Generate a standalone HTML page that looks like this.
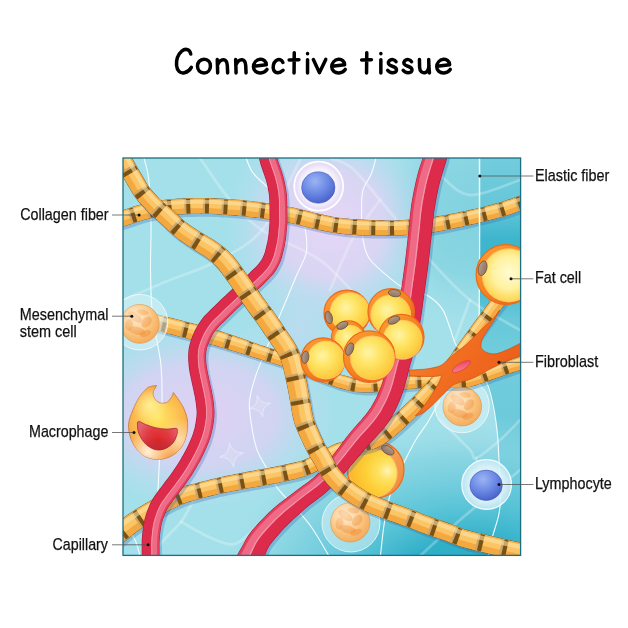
<!DOCTYPE html>
<html><head><meta charset="utf-8"><title>Connective tissue</title>
<style>
html,body{margin:0;padding:0;background:#fff;}
svg{display:block;font-family:"Liberation Sans",sans-serif;}
</style></head><body>
<svg width="628" height="628" viewBox="0 0 628 628">
<defs>
<filter id="gs" x="0" y="0" width="628" height="628" filterUnits="userSpaceOnUse"><feColorMatrix type="saturate" values="0"/></filter>
<clipPath id="box"><rect x="123.0" y="158.0" width="397.6" height="397.4"/></clipPath>
<radialGradient id="bgL" gradientUnits="userSpaceOnUse" cx="330" cy="225" r="108">
<stop offset="0" stop-color="#e6d6f6" stop-opacity="1"/><stop offset="0.5" stop-color="#ded4f4" stop-opacity="0.9"/><stop offset="1" stop-color="#b8e0ee" stop-opacity="0"/></radialGradient>
<radialGradient id="bgL2" gradientUnits="userSpaceOnUse" cx="200" cy="415" r="100" gradientTransform="translate(200 415) scale(1.4 0.95) translate(-200 -415)">
<stop offset="0" stop-color="#e0d0f4" stop-opacity="1"/><stop offset="0.55" stop-color="#d8d2f3" stop-opacity="0.85"/><stop offset="1" stop-color="#b8e0ee" stop-opacity="0"/></radialGradient>
<radialGradient id="bgL3" gradientUnits="userSpaceOnUse" cx="300" cy="330" r="60">
<stop offset="0" stop-color="#ccd8f2" stop-opacity="0.6"/><stop offset="1" stop-color="#b8e0ee" stop-opacity="0"/></radialGradient>
<radialGradient id="bgR" gradientUnits="userSpaceOnUse" cx="470" cy="595" r="180" gradientTransform="translate(470 595) scale(1.45 1) translate(-470 -595)">
<stop offset="0" stop-color="#27aac5" stop-opacity="1"/><stop offset="0.3" stop-color="#30afc8" stop-opacity="1"/><stop offset="0.5" stop-color="#55c2d6" stop-opacity="0.9"/><stop offset="0.78" stop-color="#84d3e1" stop-opacity="0.75"/><stop offset="1" stop-color="#a3e0ea" stop-opacity="0"/></radialGradient>
<radialGradient id="bgR2" gradientUnits="userSpaceOnUse" cx="475" cy="215" r="120">
<stop offset="0" stop-color="#80d1df" stop-opacity="1"/><stop offset="0.5" stop-color="#86d4e1" stop-opacity="0.85"/><stop offset="1" stop-color="#a3e0ea" stop-opacity="0"/></radialGradient>
<linearGradient id="bgStrip" gradientUnits="userSpaceOnUse" x1="0" y1="158" x2="0" y2="556">
<stop offset="0" stop-color="#72ccdc"/><stop offset="0.12" stop-color="#66c7d9"/><stop offset="0.2" stop-color="#3fb6cd"/><stop offset="0.31" stop-color="#3bb4cb"/><stop offset="0.4" stop-color="#66c8d9"/><stop offset="0.5" stop-color="#72cddc"/><stop offset="0.75" stop-color="#68c8d9"/><stop offset="0.9" stop-color="#4dbfd3"/><stop offset="1" stop-color="#34b1ca"/></linearGradient>
<linearGradient id="fatrim" x1="0.15" y1="0.1" x2="0.85" y2="0.9"><stop offset="0" stop-color="#f99a30"/><stop offset="0.5" stop-color="#f6821f"/><stop offset="1" stop-color="#ef5f18"/></linearGradient>
<radialGradient id="fatin" cx="0.4" cy="0.38" r="0.72"><stop offset="0" stop-color="#fff4a6"/><stop offset="0.4" stop-color="#fee464"/><stop offset="0.8" stop-color="#fdcd40"/><stop offset="1" stop-color="#fab532"/></radialGradient>
<linearGradient id="fatrim2" x1="0" y1="0.2" x2="1" y2="0.8"><stop offset="0" stop-color="#f79a32"/><stop offset="0.6" stop-color="#f6a050"/><stop offset="1" stop-color="#f08a40"/></linearGradient>
<radialGradient id="fatin3" cx="0.8" cy="0.45" r="0.85"><stop offset="0" stop-color="#fff4b4"/><stop offset="0.22" stop-color="#fee262"/><stop offset="0.55" stop-color="#fdcf36"/><stop offset="1" stop-color="#fbb42c"/></radialGradient>
<radialGradient id="fatin2" cx="0.5" cy="0.45" r="0.62"><stop offset="0" stop-color="#fffbd2"/><stop offset="0.5" stop-color="#fff2a0"/><stop offset="0.85" stop-color="#fdd858"/><stop offset="1" stop-color="#fbbf3a"/></radialGradient>
<linearGradient id="nucg" x1="0" y1="0" x2="1" y2="0"><stop offset="0" stop-color="#8e7462"/><stop offset="1" stop-color="#b49c8a"/></linearGradient>
<radialGradient id="stem" cx="0.4" cy="0.35" r="0.75"><stop offset="0" stop-color="#fee6c4"/><stop offset="0.55" stop-color="#fac47e"/><stop offset="1" stop-color="#f0a453"/></radialGradient>
<radialGradient id="stemhl" cx="0.35" cy="0.28" r="0.5"><stop offset="0" stop-color="#fde6c4" stop-opacity="0.7"/><stop offset="1" stop-color="#fde6c4" stop-opacity="0"/></radialGradient>
<radialGradient id="halo" cx="0.5" cy="0.5" r="0.5"><stop offset="0" stop-color="#ffffff"/><stop offset="0.7" stop-color="#f6f2fc"/><stop offset="0.92" stop-color="#e6dcf6"/><stop offset="1" stop-color="#f4f0fc"/></radialGradient>
<radialGradient id="halo2" cx="0.5" cy="0.5" r="0.5"><stop offset="0" stop-color="#ffffff" stop-opacity="0.95"/><stop offset="0.7" stop-color="#e2f4fa" stop-opacity="0.9"/><stop offset="1" stop-color="#c4e8f4" stop-opacity="0.85"/></radialGradient>
<radialGradient id="blue" cx="0.4" cy="0.3" r="0.8"><stop offset="0" stop-color="#9cb4f4"/><stop offset="0.5" stop-color="#6a88e4"/><stop offset="1" stop-color="#4057c4"/></radialGradient>
<radialGradient id="mac" gradientUnits="userSpaceOnUse" cx="158" cy="418" r="44"><stop offset="0" stop-color="#ffe762"/><stop offset="0.35" stop-color="#fdcc55"/><stop offset="0.7" stop-color="#f9aa48"/><stop offset="1" stop-color="#f48e36"/></radialGradient>
<radialGradient id="mac2" gradientUnits="userSpaceOnUse" cx="148" cy="452" r="24"><stop offset="0" stop-color="#fff4e0" stop-opacity="0.95"/><stop offset="1" stop-color="#fff0d4" stop-opacity="0"/></radialGradient>
<radialGradient id="mac4" gradientUnits="userSpaceOnUse" cx="180" cy="440" r="22"><stop offset="0" stop-color="#fde8c4" stop-opacity="0.8"/><stop offset="1" stop-color="#fde8c4" stop-opacity="0"/></radialGradient>
<radialGradient id="macn" gradientUnits="userSpaceOnUse" cx="158" cy="440" r="22"><stop offset="0" stop-color="#e02828"/><stop offset="0.55" stop-color="#e03c44"/><stop offset="1" stop-color="#e4626c"/></radialGradient>
<linearGradient id="macn2" gradientUnits="userSpaceOnUse" x1="0" y1="436" x2="0" y2="450"><stop offset="0" stop-color="#a81c28" stop-opacity="0"/><stop offset="1" stop-color="#a81c28" stop-opacity="0.55"/></linearGradient>
<linearGradient id="fbg" gradientUnits="userSpaceOnUse" x1="430" y1="340" x2="500" y2="390"><stop offset="0" stop-color="#f57a28"/><stop offset="0.5" stop-color="#f06a1f"/><stop offset="1" stop-color="#ec5f1a"/></linearGradient>
<radialGradient id="mac3" gradientUnits="userSpaceOnUse" cx="150" cy="405" r="18"><stop offset="0" stop-color="#fff6a0" stop-opacity="0.85"/><stop offset="1" stop-color="#fff6a0" stop-opacity="0"/></radialGradient>
<linearGradient id="fbn" x1="0" y1="1" x2="1" y2="0"><stop offset="0" stop-color="#f68a98"/><stop offset="1" stop-color="#ee3c5a"/></linearGradient>
</defs>
<rect width="628" height="628" fill="#ffffff"/>
<g clip-path="url(#box)">
<rect x="123.0" y="158.0" width="397.6" height="397.4" fill="#a3e0ea"/>
<rect x="123.0" y="158.0" width="397.6" height="397.4" fill="url(#bgR2)"/>
<path d="M478.6,150 L478.6,250 L478.3,330 L478,345 L485,379 C489,390 492,400 497,430 C499,461 500,506 492.8,535.6 L488,560 L530,560 L530,150 Z" fill="url(#bgStrip)"/>
<rect x="123.0" y="158.0" width="397.6" height="397.4" fill="url(#bgR)"/>
<rect x="123.0" y="158.0" width="397.6" height="397.4" fill="url(#bgL)"/>
<rect x="123.0" y="158.0" width="397.6" height="397.4" fill="url(#bgL2)"/>
<rect x="123.0" y="158.0" width="397.6" height="397.4" fill="url(#bgL3)"/>
<g fill="none" stroke="#ffffff" stroke-opacity="0.26" stroke-width="2.8" stroke-linecap="round"><path d="M123.0,300.0C130.8,296.7 154.7,286.3 170.0,280.0C185.3,273.7 199.7,270.3 215.0,262.0C230.3,253.7 247.8,247.0 262.0,230.0C276.2,213.0 293.7,171.7 300.0,160.0"/><path d="M200.0,158.0C205.0,165.0 219.7,188.0 230.0,200.0C240.3,212.0 247.0,220.0 262.0,230.0C277.0,240.0 303.7,248.3 320.0,260.0C336.3,271.7 353.3,293.3 360.0,300.0"/><path d="M330.0,158.0C333.7,159.7 343.7,161.0 352.0,168.0C360.3,175.0 367.0,184.7 380.0,200.0C393.0,215.3 415.0,243.3 430.0,260.0C445.0,276.7 455.0,288.3 470.0,300.0C485.0,311.7 511.7,325.0 520.0,330.0"/><path d="M440.0,175.0C445.0,178.3 456.7,194.2 470.0,195.0C483.3,195.8 511.7,182.5 520.0,180.0"/><path d="M380.0,200.0C375.3,206.7 360.3,225.0 352.0,240.0C343.7,255.0 333.7,281.7 330.0,290.0"/><path d="M196.0,496.0C195.1,497.7 193.1,501.7 190.6,506.0C188.1,510.3 185.8,515.8 181.0,521.8C176.2,527.8 167.2,536.3 162.0,542.0C156.8,547.7 152.0,553.7 150.0,556.0"/><path d="M181.0,521.8C185.8,524.4 201.3,533.5 209.7,537.3C218.1,541.1 225.2,544.5 231.2,544.5C237.2,544.5 240.4,541.1 245.5,537.0C250.6,532.9 259.2,522.8 262.0,520.0"/><path d="M440.0,420.0C445.0,425.0 464.0,443.7 470.0,450.0C476.0,456.3 471.0,459.7 476.0,458.0C481.0,456.3 492.7,446.3 500.0,440.0C507.3,433.7 516.7,423.3 520.0,420.0"/><path d="M476.0,458.0C476.7,460.0 479.3,468.0 480.0,470.0"/><path d="M470.0,300.0C467.5,306.7 457.5,333.3 455.0,340.0"/><path d="M420.0,556.0C426.7,550.0 443.3,534.3 460.0,520.0C476.7,505.7 510.0,478.3 520.0,470.0"/></g>
<g fill="#ffffff" fill-opacity="0.12" stroke="#ffffff" stroke-opacity="0.4" stroke-width="1"><path d="M270.6,403.2Q261.6,406.9 262.8,416.6Q259.1,407.6 249.4,408.8Q258.4,405.1 257.2,395.4Q260.9,404.4 270.6,403.2Z"/><path d="M243.3,452.9Q233.2,456.2 233.6,466.8Q230.3,456.7 219.7,457.1Q229.8,453.8 229.4,443.2Q232.7,453.3 243.3,452.9Z"/></g>
<g fill="none" stroke="#f6fdfe" stroke-width="1.1"><path d="M144.0,158.0C144.8,161.5 147.5,168.3 148.7,179.0C149.9,189.7 150.7,206.8 151.0,222.0C151.3,237.2 150.3,255.3 150.5,270.0C150.7,284.7 150.9,297.9 152.0,310.0C153.1,322.1 155.8,333.4 157.3,342.6C158.8,351.9 160.2,355.9 161.0,365.5C161.8,375.1 162.2,385.9 162.0,400.0C161.8,414.1 160.7,435.0 160.0,450.0C159.3,465.0 158.7,472.3 158.0,490.0C157.3,507.7 156.3,545.0 156.0,556.0"/><path d="M246.0,158.0C247.1,160.4 249.4,167.9 252.7,172.5C255.9,177.1 259.6,179.7 265.5,185.3C271.4,190.9 282.1,200.9 287.8,206.0C293.5,211.1 296.7,212.3 299.6,216.0C302.5,219.7 303.8,222.3 305.0,228.0C306.2,233.7 307.1,244.3 306.7,250.0C306.3,255.7 304.5,257.7 302.8,262.0C301.1,266.3 298.9,270.0 296.4,275.7C293.9,281.4 290.6,289.6 288.0,296.0C285.4,302.4 283.9,305.6 280.5,313.9C277.1,322.2 271.9,335.6 267.8,345.8C263.7,356.0 259.0,366.0 256.0,375.0C253.0,384.0 250.5,392.7 249.6,400.0C248.7,407.3 249.5,411.0 250.6,419.0C251.7,427.0 253.8,439.8 256.3,447.8C258.9,455.8 262.4,460.2 265.9,466.9C269.4,473.6 272.2,480.9 277.3,487.9C282.4,494.9 290.6,502.3 296.4,509.0C302.2,515.7 306.6,520.2 312.0,528.0C317.4,535.8 326.2,551.3 329.0,556.0"/><path d="M376.0,158.0C375.2,160.7 373.4,168.5 371.2,174.0C369.0,179.5 364.4,184.0 362.8,190.8C361.2,197.6 361.6,206.7 361.6,214.7C361.6,222.7 361.6,231.4 362.8,238.6C364.0,245.8 365.0,251.7 368.8,257.7C372.6,263.7 379.5,269.2 385.5,274.4C391.5,279.6 398.9,285.6 404.6,288.7C410.4,291.8 415.8,291.6 420.0,293.0C424.2,294.4 426.2,294.2 430.0,297.0C433.8,299.8 439.2,304.1 442.7,309.6C446.1,315.1 448.5,324.1 450.7,330.0C452.9,335.9 452.8,339.7 456.0,345.0C459.2,350.3 465.2,356.3 470.0,362.0C474.8,367.7 481.3,372.7 485.0,379.0C488.7,385.3 490.0,391.5 492.0,400.0C494.0,408.5 495.8,419.8 497.0,430.0C498.2,440.2 498.5,448.2 499.0,461.0C499.5,473.8 501.0,494.2 500.0,506.6C499.0,519.0 494.8,527.4 492.8,535.6C490.8,543.8 488.8,552.6 488.0,556.0"/><path d="M440.0,400.0C438.1,403.5 432.3,414.7 428.5,421.0C424.7,427.3 420.5,432.3 417.0,438.0C413.5,443.7 411.0,448.4 407.5,455.4C404.0,462.4 399.1,472.7 396.0,480.0C392.9,487.3 391.0,491.5 389.0,499.0C387.0,506.5 385.4,515.5 384.0,525.0C382.6,534.5 381.0,550.8 380.4,556.0"/><path d="M123.0,520.0C125.0,523.3 132.2,534.0 135.0,540.0C137.8,546.0 139.2,553.3 140.0,556.0"/></g>
<g><circle cx="318.7" cy="186.2" r="24.6" fill="url(#halo)" stroke="#ffffff" stroke-width="1.5"/><ellipse cx="318.3" cy="187.5" rx="16.7" ry="15.7" fill="url(#blue)" stroke="#3c50b8" stroke-width="0.5"/></g>
<g><circle cx="462.0" cy="405.5" r="27.3" fill="#e4f6fa" fill-opacity="0.5" stroke="#f2fbfd" stroke-opacity="0.8" stroke-width="1"/><circle cx="462.3" cy="406.6" r="19.3" fill="url(#stem)" stroke="#e09a4c" stroke-width="0.7"/><g fill="#f19440" fill-opacity="0.55"><ellipse cx="457.5" cy="399.8" rx="8.1" ry="3.9" transform="rotate(35 457.5 399.8)"/><ellipse cx="469.1" cy="404.7" rx="6.2" ry="4.2" transform="rotate(-50 469.1 404.7)"/><ellipse cx="459.4" cy="413.4" rx="8.7" ry="3.9" transform="rotate(15 459.4 413.4)"/><ellipse cx="468.1" cy="416.2" rx="5.8" ry="3.1" transform="rotate(-20 468.1 416.2)"/><ellipse cx="451.7" cy="407.6" rx="3.9" ry="5.8" transform="rotate(10 451.7 407.6)"/><ellipse cx="465.2" cy="395.0" rx="5.8" ry="2.7" transform="rotate(10 465.2 395.0)"/></g><circle cx="462.3" cy="406.6" r="19.3" fill="url(#stemhl)"/></g>
<g><circle cx="351.0" cy="523.0" r="29.0" fill="#e4f6fa" fill-opacity="0.5" stroke="#f2fbfd" stroke-opacity="0.8" stroke-width="1"/><circle cx="350.3" cy="522.4" r="19.6" fill="url(#stem)" stroke="#e09a4c" stroke-width="0.7"/><g fill="#f19440" fill-opacity="0.55"><ellipse cx="345.4" cy="515.5" rx="8.2" ry="3.9" transform="rotate(35 345.4 515.5)"/><ellipse cx="357.2" cy="520.4" rx="6.3" ry="4.3" transform="rotate(-50 357.2 520.4)"/><ellipse cx="347.4" cy="529.3" rx="8.8" ry="3.9" transform="rotate(15 347.4 529.3)"/><ellipse cx="356.2" cy="532.2" rx="5.9" ry="3.1" transform="rotate(-20 356.2 532.2)"/><ellipse cx="339.5" cy="523.4" rx="3.9" ry="5.9" transform="rotate(10 339.5 523.4)"/><ellipse cx="353.2" cy="510.6" rx="5.9" ry="2.7" transform="rotate(10 353.2 510.6)"/></g><circle cx="350.3" cy="522.4" r="19.6" fill="url(#stemhl)"/></g>
<g><path d="M152.0,312.9L154.9,313.7L157.9,314.4L160.8,315.1L163.8,315.8L166.8,316.6L169.8,317.3L172.8,318.1L175.7,318.8L178.7,319.5L181.8,320.3L185.2,321.2L189.0,322.2L191.8,322.9L194.8,323.7L197.9,324.6L201.3,325.5L204.6,326.4L208.0,327.3L211.4,328.2L214.6,329.2L217.7,330.1L221.1,331.1L224.3,332.2L227.5,333.2L230.7,334.3L233.7,335.3L236.7,336.4L239.5,337.4L242.3,338.3L245.8,339.5L248.9,340.6L251.9,341.7L254.9,342.8L258.2,344.0L262.0,345.3L264.6,346.2L267.3,347.0L270.3,348.0L273.3,348.9L276.4,349.9L279.6,351.0L282.8,352.0L286.1,353.1L289.3,354.2L292.4,355.4L295.5,356.5L298.7,357.8L301.8,359.0L304.9,360.3L308.0,361.6L311.1,362.8L314.1,364.1L317.0,365.2L319.8,366.4L322.5,367.4L325.9,368.7L329.1,369.9L332.2,371.1L335.2,372.2L338.1,373.2L340.9,374.2L343.6,375.0L346.4,375.8L349.5,376.6L352.3,377.3L354.8,377.8L357.4,378.3L360.1,378.6L363.2,378.9L366.9,379.0L369.4,378.9L372.2,378.8L375.2,378.6L378.5,378.3L381.9,378.0L385.4,377.7L388.9,377.3L392.3,377.0L395.6,376.6L398.8,376.3L401.8,376.0L404.5,375.8L408.9,375.5L412.7,375.3L416.0,375.1L419.1,374.9L422.1,374.8L425.3,374.7L428.7,374.6L432.0,374.6L435.3,374.7L438.5,374.7L441.7,374.7L445.0,374.7L448.0,374.7L451.1,374.7L454.3,374.7L457.3,374.7L460.2,374.6L462.8,374.5L465.0,374.3L468.4,373.7L471.0,372.9L474.0,371.9L477.8,370.6L480.4,369.7L483.0,368.8L485.9,367.8L488.8,366.7L491.9,365.6L494.9,364.6L497.8,363.6L501.2,362.4L504.6,361.3L508.0,360.1L511.4,359.0L514.6,358.0L517.7,357.0L521.1,356.0L524.2,355.0L527.2,354.2L530.1,353.3L533.1,352.5L536.9,365.5L533.9,366.4L531.0,367.2L528.0,368.1L525.0,369.0L521.7,370.0L518.8,370.9L515.6,372.0L512.3,373.0L508.9,374.2L505.5,375.3L502.2,376.4L499.4,377.4L496.4,378.5L493.4,379.5L490.4,380.6L487.5,381.6L484.7,382.6L482.2,383.4L478.5,384.7L475.1,385.9L471.3,386.9L467.0,387.7L463.9,388.0L460.7,388.2L457.5,388.3L454.3,388.3L451.1,388.3L448.0,388.3L445.0,388.3L441.7,388.3L438.4,388.3L435.2,388.3L432.0,388.2L428.9,388.2L425.7,388.3L422.6,388.4L419.7,388.6L416.8,388.7L413.6,389.0L409.9,389.2L405.5,389.6L403.0,389.8L400.2,390.1L397.1,390.4L393.7,390.7L390.3,391.1L386.8,391.5L383.2,391.8L379.7,392.1L376.2,392.4L372.9,392.7L369.8,392.8L366.9,392.8L362.6,392.8L358.8,392.5L355.4,392.1L352.2,391.6L349.1,391.0L346.1,390.2L342.8,389.4L339.7,388.6L336.6,387.6L333.5,386.6L330.4,385.5L327.2,384.3L324.1,383.1L320.8,381.9L317.5,380.6L314.6,379.5L311.7,378.3L308.7,377.1L305.7,375.9L302.7,374.6L299.6,373.3L296.5,372.1L293.5,370.9L290.5,369.7L287.6,368.6L284.6,367.6L281.5,366.5L278.4,365.5L275.3,364.5L272.1,363.5L269.0,362.5L266.0,361.6L263.0,360.6L260.2,359.7L257.6,358.9L253.7,357.7L250.3,356.6L247.2,355.6L244.2,354.7L241.1,353.7L237.7,352.7L234.8,351.8L231.9,350.9L229.0,350.0L225.9,349.1L222.8,348.2L219.7,347.3L216.5,346.4L213.3,345.5L210.3,344.7L207.1,343.9L203.8,343.0L200.5,342.2L197.1,341.3L193.8,340.5L190.6,339.7L187.6,338.9L184.8,338.2L181.1,337.3L177.8,336.4L174.7,335.7L171.7,334.9L168.8,334.2L165.8,333.5L162.8,332.7L159.8,332.0L156.8,331.2L153.9,330.5L151.0,329.8L148.0,329.1Z" fill="#2f62ad" fill-opacity="0.28" transform="translate(1.8,2.6)"/><path d="M151.9,313.1L154.9,313.9L157.8,314.6L160.8,315.3L163.7,316.0L166.7,316.8L169.8,317.5L172.7,318.3L175.7,319.0L178.6,319.7L181.8,320.5L185.2,321.4L188.9,322.4L191.7,323.1L194.7,323.9L197.9,324.8L201.2,325.6L204.6,326.6L208.0,327.5L211.3,328.4L214.6,329.3L217.7,330.3L221.0,331.3L224.3,332.4L227.5,333.4L230.6,334.5L233.6,335.5L236.6,336.5L239.5,337.5L242.3,338.5L245.7,339.7L248.9,340.8L251.8,341.9L254.9,343.0L258.2,344.2L262.0,345.5L264.5,346.3L267.3,347.2L270.2,348.2L273.2,349.1L276.4,350.1L279.6,351.2L282.8,352.2L286.0,353.3L289.2,354.4L292.3,355.6L295.5,356.7L298.6,357.9L301.7,359.2L304.9,360.5L308.0,361.8L311.0,363.0L314.0,364.2L316.9,365.4L319.7,366.6L322.4,367.6L325.8,368.9L329.0,370.1L332.1,371.3L335.1,372.4L338.0,373.4L340.8,374.4L343.6,375.2L346.3,376.0L349.4,376.8L352.2,377.5L354.8,378.0L357.3,378.5L360.1,378.8L363.2,379.1L366.9,379.2L369.4,379.1L372.2,379.0L375.2,378.8L378.5,378.5L381.9,378.2L385.4,377.9L388.9,377.5L392.3,377.2L395.7,376.8L398.8,376.5L401.8,376.2L404.5,376.0L409.0,375.7L412.7,375.5L416.0,375.3L419.1,375.1L422.1,375.0L425.3,374.9L428.7,374.8L432.0,374.8L435.3,374.9L438.5,374.9L441.7,374.9L445.0,374.9L448.0,374.9L451.1,374.9L454.3,374.9L457.3,374.9L460.2,374.8L462.9,374.7L465.1,374.5L468.4,373.9L471.1,373.1L474.1,372.1L477.9,370.8L480.4,369.9L483.1,369.0L486.0,368.0L488.9,366.9L491.9,365.8L494.9,364.8L497.9,363.8L501.2,362.6L504.7,361.5L508.1,360.3L511.4,359.2L514.7,358.2L517.7,357.2L521.1,356.2L524.3,355.2L527.3,354.4L530.2,353.5L533.2,352.7L536.8,365.3L533.8,366.2L530.9,367.0L528.0,367.9L524.9,368.8L521.7,369.8L518.7,370.7L515.5,371.8L512.2,372.9L508.8,374.0L505.5,375.1L502.1,376.2L499.3,377.2L496.3,378.3L493.4,379.3L490.4,380.4L487.5,381.4L484.7,382.4L482.1,383.2L478.4,384.5L475.1,385.7L471.3,386.8L466.9,387.5L463.8,387.8L460.7,388.0L457.5,388.1L454.3,388.1L451.1,388.1L448.0,388.1L445.0,388.1L441.7,388.1L438.4,388.1L435.2,388.1L432.0,388.0L428.9,388.0L425.7,388.1L422.6,388.2L419.7,388.4L416.8,388.5L413.6,388.8L409.9,389.0L405.5,389.4L403.0,389.6L400.1,389.9L397.0,390.2L393.7,390.5L390.3,390.9L386.7,391.3L383.2,391.6L379.7,392.0L376.2,392.2L372.9,392.5L369.8,392.6L366.9,392.6L362.6,392.6L358.8,392.3L355.4,391.9L352.2,391.4L349.1,390.8L346.1,390.0L342.9,389.2L339.8,388.4L336.6,387.4L333.5,386.4L330.4,385.3L327.3,384.1L324.1,382.9L320.9,381.7L317.6,380.4L314.7,379.3L311.8,378.1L308.8,376.9L305.8,375.7L302.7,374.4L299.7,373.1L296.6,371.9L293.6,370.7L290.6,369.5L287.7,368.4L284.7,367.4L281.6,366.3L278.5,365.3L275.3,364.3L272.2,363.3L269.1,362.3L266.0,361.4L263.1,360.4L260.3,359.6L257.6,358.7L253.7,357.5L250.3,356.4L247.3,355.4L244.3,354.5L241.2,353.5L237.7,352.5L234.9,351.6L232.0,350.8L229.0,349.9L226.0,348.9L222.9,348.0L219.8,347.1L216.6,346.2L213.3,345.3L210.3,344.5L207.2,343.7L203.9,342.8L200.5,342.0L197.2,341.1L193.9,340.3L190.7,339.5L187.7,338.7L184.9,338.0L181.1,337.1L177.8,336.2L174.7,335.5L171.8,334.7L168.8,334.0L165.8,333.3L162.8,332.5L159.8,331.8L156.9,331.0L153.9,330.3L151.0,329.6L148.1,328.9Z" fill="#8f6220"/><path d="M151.8,313.7L154.7,314.4L157.7,315.2L160.6,315.9L163.6,316.6L166.6,317.4L169.6,318.1L172.6,318.9L175.5,319.6L178.5,320.3L181.6,321.1L185.0,322.0L188.8,322.9L191.6,323.7L194.6,324.5L197.7,325.3L201.1,326.2L204.4,327.1L207.8,328.1L211.2,329.0L214.4,329.9L217.5,330.8L220.8,331.9L224.1,332.9L227.3,334.0L230.4,335.1L233.5,336.1L236.4,337.1L239.3,338.1L242.1,339.1L245.5,340.3L248.7,341.4L251.6,342.4L254.7,343.5L258.0,344.7L261.8,346.1L264.3,346.9L267.1,347.8L270.0,348.7L273.0,349.7L276.2,350.7L279.4,351.7L282.6,352.8L285.8,353.9L289.0,355.0L292.1,356.1L295.3,357.3L298.4,358.5L301.5,359.8L304.6,361.0L307.7,362.3L310.8,363.6L313.8,364.8L316.7,366.0L319.5,367.1L322.2,368.2L325.6,369.4L328.8,370.7L331.9,371.9L334.9,373.0L337.8,374.0L340.6,375.0L343.4,375.8L346.2,376.6L349.3,377.4L352.1,378.1L354.7,378.6L357.2,379.1L360.0,379.4L363.2,379.7L366.9,379.8L369.4,379.7L372.2,379.6L375.3,379.4L378.6,379.1L382.0,378.8L385.5,378.5L388.9,378.1L392.4,377.8L395.7,377.4L398.9,377.1L401.8,376.8L404.5,376.6L409.0,376.3L412.8,376.1L416.1,375.9L419.1,375.7L422.1,375.6L425.3,375.5L428.7,375.4L432.0,375.4L435.3,375.5L438.5,375.5L441.7,375.5L445.0,375.5L448.0,375.5L451.1,375.5L454.3,375.5L457.3,375.5L460.2,375.4L462.9,375.3L465.1,375.1L468.5,374.5L471.3,373.7L474.3,372.6L478.1,371.3L480.6,370.5L483.3,369.5L486.2,368.5L489.1,367.5L492.1,366.4L495.1,365.3L498.1,364.3L501.4,363.2L504.8,362.0L508.3,360.9L511.6,359.8L514.8,358.7L517.9,357.8L521.3,356.7L524.5,355.8L527.4,354.9L530.3,354.1L533.3,353.2L536.7,364.8L533.7,365.6L530.7,366.5L527.8,367.3L524.8,368.2L521.5,369.2L518.5,370.2L515.3,371.2L512.0,372.3L508.7,373.4L505.3,374.5L501.9,375.7L499.1,376.7L496.1,377.7L493.2,378.8L490.2,379.8L487.3,380.9L484.5,381.8L481.9,382.7L478.2,384.0L474.9,385.1L471.2,386.2L466.9,386.9L463.8,387.2L460.7,387.4L457.5,387.5L454.3,387.5L451.1,387.5L448.0,387.5L445.0,387.5L441.7,387.5L438.4,387.5L435.2,387.5L432.0,387.4L428.9,387.4L425.7,387.5L422.6,387.6L419.7,387.8L416.8,387.9L413.6,388.2L409.9,388.4L405.5,388.8L402.9,389.0L400.1,389.3L397.0,389.6L393.7,389.9L390.2,390.3L386.7,390.7L383.1,391.0L379.6,391.4L376.2,391.6L372.9,391.9L369.8,392.0L366.9,392.0L362.6,392.0L358.9,391.7L355.5,391.4L352.3,390.8L349.3,390.2L346.3,389.5L343.0,388.6L339.9,387.8L336.8,386.9L333.7,385.8L330.6,384.7L327.5,383.6L324.4,382.4L321.1,381.1L317.8,379.8L314.9,378.7L312.0,377.6L309.0,376.4L306.0,375.1L303.0,373.9L299.9,372.6L296.8,371.3L293.8,370.1L290.8,369.0L287.9,367.9L284.9,366.8L281.8,365.8L278.7,364.7L275.5,363.7L272.3,362.7L269.2,361.7L266.2,360.8L263.3,359.9L260.5,359.0L257.8,358.1L253.9,356.9L250.5,355.9L247.4,354.9L244.5,353.9L241.4,353.0L237.9,351.9L235.1,351.1L232.2,350.2L229.2,349.3L226.2,348.4L223.1,347.5L219.9,346.5L216.7,345.6L213.5,344.8L210.5,343.9L207.3,343.1L204.0,342.2L200.7,341.4L197.3,340.5L194.0,339.7L190.8,338.9L187.8,338.2L185.0,337.5L181.3,336.5L177.9,335.7L174.9,334.9L171.9,334.1L169.0,333.4L166.0,332.7L163.0,331.9L160.0,331.2L157.0,330.5L154.1,329.7L151.2,329.0L148.2,328.3Z" fill="#fbc465"/><path d="M149.5,323.2L152.4,323.9L155.3,324.6L158.3,325.4L161.2,326.1L164.2,326.8L167.3,327.6L170.3,328.3L173.2,329.1L176.1,329.8L179.2,330.6L182.6,331.4L186.3,332.4L189.1,333.1L192.1,333.9L195.3,334.7L198.6,335.5L202.0,336.4L205.4,337.3L208.7,338.2L211.9,339.0L214.9,339.9L218.2,340.8L221.4,341.8L224.6,342.7L227.7,343.7L230.7,344.7L233.7,345.6L236.6,346.5L239.4,347.4L242.8,348.5L245.9,349.5L248.9,350.5L252.0,351.5L255.3,352.7L259.2,353.9L261.8,354.8L264.6,355.6L267.5,356.6L270.6,357.5L273.7,358.5L276.9,359.5L280.0,360.6L283.2,361.6L286.3,362.7L289.4,363.8L292.4,364.9L295.4,366.1L298.5,367.3L301.6,368.5L304.6,369.8L307.7,371.1L310.7,372.3L313.6,373.5L316.5,374.7L319.3,375.8L322.7,377.0L325.9,378.3L329.1,379.5L332.1,380.6L335.2,381.7L338.2,382.7L341.2,383.6L344.1,384.4L347.3,385.2L350.3,385.9L353.1,386.6L356.1,387.1L359.3,387.4L362.8,387.7L366.9,387.7L369.6,387.7L372.6,387.6L375.9,387.3L379.2,387.1L382.7,386.8L386.2,386.4L389.8,386.0L393.2,385.7L396.5,385.3L399.7,385.0L402.6,384.7L405.1,384.5L409.6,384.2L413.3,383.9L416.5,383.7L419.5,383.5L422.4,383.4L425.5,383.3L428.8,383.2L432.0,383.2L435.2,383.3L438.4,383.3L441.7,383.3L445.0,383.3L448.0,383.3L451.1,383.3L454.3,383.3L457.4,383.3L460.5,383.2L463.5,383.1L466.3,382.8L470.2,382.1L473.6,381.1L476.8,380.0L480.6,378.7L483.1,377.9L485.9,376.9L488.8,375.9L491.7,374.8L494.7,373.7L497.7,372.7L500.6,371.7L503.9,370.6L507.3,369.4L510.7,368.3L514.0,367.2L517.2,366.2L520.2,365.2L523.6,364.2L526.6,363.3L529.6,362.4L532.5,361.6L535.5,360.7L536.7,364.8L533.7,365.6L530.7,366.5L527.8,367.3L524.8,368.2L521.5,369.2L518.5,370.2L515.3,371.2L512.0,372.3L508.7,373.4L505.3,374.5L501.9,375.7L499.1,376.7L496.1,377.7L493.2,378.8L490.2,379.8L487.3,380.9L484.5,381.8L481.9,382.7L478.2,384.0L474.9,385.1L471.2,386.2L466.9,386.9L463.8,387.2L460.7,387.4L457.5,387.5L454.3,387.5L451.1,387.5L448.0,387.5L445.0,387.5L441.7,387.5L438.4,387.5L435.2,387.5L432.0,387.4L428.9,387.4L425.7,387.5L422.6,387.6L419.7,387.8L416.8,387.9L413.6,388.2L409.9,388.4L405.5,388.8L402.9,389.0L400.1,389.3L397.0,389.6L393.7,389.9L390.2,390.3L386.7,390.7L383.1,391.0L379.6,391.4L376.2,391.6L372.9,391.9L369.8,392.0L366.9,392.0L362.6,392.0L358.9,391.7L355.5,391.4L352.3,390.8L349.3,390.2L346.3,389.5L343.0,388.6L339.9,387.8L336.8,386.9L333.7,385.8L330.6,384.7L327.5,383.6L324.4,382.4L321.1,381.1L317.8,379.8L314.9,378.7L312.0,377.6L309.0,376.4L306.0,375.1L303.0,373.9L299.9,372.6L296.8,371.3L293.8,370.1L290.8,369.0L287.9,367.9L284.9,366.8L281.8,365.8L278.7,364.7L275.5,363.7L272.3,362.7L269.2,361.7L266.2,360.8L263.3,359.9L260.5,359.0L257.8,358.1L253.9,356.9L250.5,355.9L247.4,354.9L244.5,353.9L241.4,353.0L237.9,351.9L235.1,351.1L232.2,350.2L229.2,349.3L226.2,348.4L223.1,347.5L219.9,346.5L216.7,345.6L213.5,344.8L210.5,343.9L207.3,343.1L204.0,342.2L200.7,341.4L197.3,340.5L194.0,339.7L190.8,338.9L187.8,338.2L185.0,337.5L181.3,336.5L177.9,335.7L174.9,334.9L171.9,334.1L169.0,333.4L166.0,332.7L163.0,331.9L160.0,331.2L157.0,330.5L154.1,329.7L151.2,329.0L148.2,328.3Z" fill="#f4a840"/><path d="M151.8,313.7L154.7,314.4L157.7,315.2L160.6,315.9L163.6,316.6L166.6,317.4L169.6,318.1L172.6,318.9L175.5,319.6L178.5,320.3L181.6,321.1L185.0,322.0L188.8,322.9L191.6,323.7L194.6,324.5L197.7,325.3L201.1,326.2L204.4,327.1L207.8,328.1L211.2,329.0L214.4,329.9L217.5,330.8L220.8,331.9L224.1,332.9L227.3,334.0L230.4,335.1L233.5,336.1L236.4,337.1L239.3,338.1L242.1,339.1L245.5,340.3L248.7,341.4L251.6,342.4L254.7,343.5L258.0,344.7L261.8,346.1L264.3,346.9L267.1,347.8L270.0,348.7L273.0,349.7L276.2,350.7L279.4,351.7L282.6,352.8L285.8,353.9L289.0,355.0L292.1,356.1L295.3,357.3L298.4,358.5L301.5,359.8L304.6,361.0L307.7,362.3L310.8,363.6L313.8,364.8L316.7,366.0L319.5,367.1L322.2,368.2L325.6,369.4L328.8,370.7L331.9,371.9L334.9,373.0L337.8,374.0L340.6,375.0L343.4,375.8L346.2,376.6L349.3,377.4L352.1,378.1L354.7,378.6L357.2,379.1L360.0,379.4L363.2,379.7L366.9,379.8L369.4,379.7L372.2,379.6L375.3,379.4L378.6,379.1L382.0,378.8L385.5,378.5L388.9,378.1L392.4,377.8L395.7,377.4L398.9,377.1L401.8,376.8L404.5,376.6L409.0,376.3L412.8,376.1L416.1,375.9L419.1,375.7L422.1,375.6L425.3,375.5L428.7,375.4L432.0,375.4L435.3,375.5L438.5,375.5L441.7,375.5L445.0,375.5L448.0,375.5L451.1,375.5L454.3,375.5L457.3,375.5L460.2,375.4L462.9,375.3L465.1,375.1L468.5,374.5L471.3,373.7L474.3,372.6L478.1,371.3L480.6,370.5L483.3,369.5L486.2,368.5L489.1,367.5L492.1,366.4L495.1,365.3L498.1,364.3L501.4,363.2L504.8,362.0L508.3,360.9L511.6,359.8L514.8,358.7L517.9,357.8L521.3,356.7L524.5,355.8L527.4,354.9L530.3,354.1L533.3,353.2L533.6,354.2L530.6,355.0L527.7,355.9L524.7,356.7L521.6,357.6L518.2,358.7L515.1,359.7L511.9,360.7L508.6,361.8L505.2,362.9L501.7,364.1L498.4,365.2L495.4,366.2L492.4,367.3L489.4,368.4L486.5,369.4L483.6,370.4L480.9,371.4L478.4,372.2L474.6,373.5L471.5,374.6L468.7,375.4L465.3,376.0L463.0,376.2L460.3,376.4L457.3,376.4L454.3,376.5L451.1,376.5L448.0,376.4L445.0,376.5L441.7,376.5L438.5,376.5L435.3,376.4L432.0,376.4L428.7,376.4L425.4,376.5L422.1,376.6L419.1,376.7L416.1,376.8L412.8,377.0L409.1,377.3L404.6,377.6L401.9,377.8L399.0,378.1L395.8,378.4L392.5,378.7L389.0,379.1L385.5,379.5L382.1,379.8L378.6,380.1L375.4,380.4L372.3,380.6L369.4,380.7L366.9,380.7L363.1,380.6L359.9,380.4L357.1,380.1L354.5,379.6L351.9,379.0L349.0,378.3L345.9,377.5L343.1,376.8L340.3,375.9L337.5,375.0L334.6,373.9L331.6,372.8L328.5,371.6L325.2,370.4L321.9,369.1L319.1,368.0L316.3,366.9L313.4,365.7L310.4,364.5L307.4,363.2L304.3,362.0L301.1,360.7L298.0,359.4L294.9,358.2L291.8,357.1L288.7,355.9L285.5,354.8L282.3,353.8L279.1,352.7L275.9,351.7L272.7,350.7L269.7,349.7L266.8,348.8L264.0,347.9L261.5,347.0L257.7,345.7L254.3,344.5L251.3,343.4L248.3,342.4L245.2,341.3L241.8,340.1L239.0,339.2L236.1,338.2L233.1,337.2L230.1,336.1L227.0,335.1L223.8,334.0L220.5,333.0L217.2,331.9L214.1,331.0L210.9,330.1L207.5,329.2L204.1,328.3L200.8,327.4L197.4,326.5L194.3,325.6L191.3,324.8L188.5,324.1L184.7,323.1L181.3,322.3L178.2,321.5L175.2,320.8L172.3,320.0L169.3,319.3L166.3,318.5L163.3,317.8L160.3,317.1L157.4,316.3L154.5,315.6L151.5,314.9Z" fill="#f6ae48"/><path d="M162.3,316.3L158.7,330.9L160.8,331.4L164.4,316.8ZM183.7,321.6L180.0,336.2L182.2,336.7L185.9,322.2ZM205.1,327.3L201.4,341.6L203.5,342.1L207.3,327.9ZM226.6,333.8L222.4,347.3L224.5,347.9L228.7,334.5ZM247.6,341.0L243.4,353.6L245.5,354.3L249.7,341.7ZM268.4,348.2L264.5,360.3L266.6,360.9L270.4,348.9ZM289.5,355.2L285.3,367.0L287.4,367.7L291.6,355.9ZM310.3,363.4L305.6,374.9L307.6,375.8L312.4,364.2ZM330.7,371.4L326.3,383.1L328.4,383.9L332.7,372.2ZM351.0,377.8L348.1,389.9L350.4,390.4L353.0,378.3ZM371.1,379.6L371.7,391.9L374.0,391.8L373.2,379.5ZM392.8,377.7L394.0,389.9L396.2,389.7L395.0,377.5ZM415.0,375.9L415.8,388.0L417.9,387.9L417.3,375.8ZM437.5,375.5L437.4,387.5L439.6,387.5L439.7,375.5ZM459.3,375.4L459.7,387.4L462.0,387.3L461.4,375.4ZM479.0,371.0L482.9,382.4L485.0,381.7L481.1,370.3ZM499.8,363.7L503.7,375.1L505.8,374.4L501.9,363.0ZM521.0,356.8L524.5,368.3L526.6,367.7L523.2,356.2Z" fill="#c9a46c"/><path d="M164.2,316.8L160.6,331.3L164.5,332.3L168.1,317.7ZM185.7,322.1L182.0,336.7L185.8,337.7L189.6,323.2ZM207.1,327.9L203.3,342.1L207.1,343.1L211.0,329.0ZM228.5,334.4L224.3,347.8L228.1,348.9L232.3,335.7ZM249.5,341.7L245.3,354.2L249.1,355.4L253.3,343.0ZM270.3,348.8L266.4,360.9L270.2,362.1L274.1,350.0ZM291.4,355.9L287.2,367.6L290.8,369.0L295.3,357.3ZM312.2,364.1L307.4,375.7L311.2,377.2L315.9,365.6ZM332.5,372.1L328.2,383.8L332.0,385.2L336.2,373.4ZM352.8,378.2L350.1,390.4L354.4,391.2L356.4,378.9ZM373.1,379.5L373.8,391.8L377.9,391.5L376.9,379.3ZM394.8,377.5L396.0,389.7L400.0,389.3L398.8,377.1ZM417.1,375.8L417.7,387.9L421.6,387.7L421.1,375.6ZM439.5,375.5L439.4,387.5L443.5,387.5L443.4,375.5ZM461.2,375.4L461.8,387.3L466.3,387.0L464.7,375.1ZM480.9,370.4L484.8,381.7L488.6,380.4L484.6,369.1ZM501.7,363.1L505.6,374.4L509.4,373.2L505.6,361.8ZM523.0,356.2L526.4,367.7L530.2,366.6L526.8,355.1Z" fill="#7a5214"/><path d="M151.5,314.9L154.5,315.6L157.4,316.3L160.3,317.1L163.3,317.8L166.3,318.5L169.3,319.3L172.3,320.0L175.2,320.8L178.2,321.5L181.3,322.3L184.7,323.1L188.5,324.1L191.3,324.8L194.3,325.6L197.4,326.5L200.8,327.4L204.1,328.3L207.5,329.2L210.9,330.1L214.1,331.0L217.2,331.9L220.5,333.0L223.8,334.0L227.0,335.1L230.1,336.1L233.1,337.2L236.1,338.2L239.0,339.2L241.8,340.1L245.2,341.3L248.3,342.4L251.3,343.4L254.3,344.5L257.7,345.7L261.5,347.0L264.0,347.9L266.8,348.8L269.7,349.7L272.7,350.7L275.9,351.7L279.1,352.7L282.3,353.8L285.5,354.8L288.7,355.9L291.8,357.1L294.9,358.2L298.0,359.4L301.1,360.7L304.3,362.0L307.4,363.2L310.4,364.5L313.4,365.7L316.3,366.9L319.1,368.0L321.9,369.1L325.2,370.4L328.5,371.6L331.6,372.8L334.6,373.9L337.5,375.0L340.3,375.9L343.1,376.8L345.9,377.5L349.0,378.3L351.9,379.0L354.5,379.6L357.1,380.1L359.9,380.4L363.1,380.6L366.9,380.7L369.4,380.7L372.3,380.6L375.4,380.4L378.6,380.1L382.1,379.8L385.5,379.5L389.0,379.1L392.5,378.7L395.8,378.4L399.0,378.1L401.9,377.8L404.6,377.6L409.1,377.3L412.8,377.0L416.1,376.8L419.1,376.7L422.1,376.6L425.4,376.5L428.7,376.4L432.0,376.4L435.3,376.4L438.5,376.5L441.7,376.5L445.0,376.5L448.0,376.4L451.1,376.5L454.3,376.5L457.3,376.4L460.3,376.4L463.0,376.2L465.3,376.0L468.7,375.4L471.5,374.6L474.6,373.5L478.4,372.2L480.9,371.4L483.6,370.4L486.5,369.4L489.4,368.4L492.4,367.3L495.4,366.2L498.4,365.2L501.7,364.1L505.2,362.9L508.6,361.8L511.9,360.7L515.1,359.7L518.2,358.7L521.6,357.6L524.7,356.7L527.7,355.9L530.6,355.0L533.6,354.2L534.5,357.3L531.5,358.1L528.6,359.0L525.6,359.8L522.5,360.7L519.2,361.8L516.1,362.7L512.9,363.8L509.6,364.9L506.2,366.0L502.8,367.2L499.4,368.3L496.5,369.3L493.5,370.4L490.5,371.4L487.6,372.5L484.7,373.5L482.0,374.4L479.4,375.3L475.7,376.6L472.5,377.7L469.5,378.6L465.7,379.2L463.2,379.5L460.4,379.6L457.4,379.7L454.3,379.7L451.1,379.7L448.0,379.7L445.0,379.7L441.7,379.7L438.4,379.7L435.2,379.7L432.0,379.6L428.8,379.6L425.5,379.7L422.3,379.8L419.3,379.9L416.3,380.1L413.1,380.3L409.3,380.6L404.9,380.9L402.2,381.1L399.3,381.4L396.2,381.7L392.8,382.0L389.4,382.4L385.9,382.8L382.4,383.1L378.9,383.4L375.6,383.7L372.4,383.9L369.5,384.0L366.9,384.1L363.0,384.0L359.6,383.7L356.6,383.4L353.8,382.9L351.1,382.3L348.2,381.6L345.1,380.8L342.2,380.0L339.3,379.1L336.4,378.1L333.4,377.1L330.4,376.0L327.3,374.8L324.0,373.5L320.7,372.2L317.9,371.2L315.0,370.0L312.1,368.8L309.1,367.6L306.1,366.3L303.0,365.1L299.9,363.8L296.8,362.6L293.7,361.4L290.6,360.2L287.6,359.1L284.4,358.1L281.2,357.0L278.0,355.9L274.8,354.9L271.7,353.9L268.7,353.0L265.8,352.0L263.0,351.1L260.4,350.3L256.6,349.0L253.2,347.8L250.2,346.8L247.2,345.8L244.1,344.7L240.6,343.6L237.8,342.6L234.9,341.7L232.0,340.7L228.9,339.7L225.8,338.7L222.6,337.7L219.4,336.7L216.1,335.7L213.0,334.8L209.8,333.9L206.5,333.0L203.1,332.1L199.7,331.2L196.4,330.4L193.3,329.5L190.2,328.7L187.5,328.0L183.7,327.1L180.3,326.2L177.2,325.4L174.3,324.7L171.3,324.0L168.3,323.2L165.3,322.5L162.3,321.7L159.4,321.0L156.4,320.3L153.5,319.5L150.5,318.8Z" fill="#fee2a4" fill-opacity="0.6"/></g>
<g><path d="M105.6,215.1L108.6,214.3L111.4,213.4L114.3,212.6L117.3,211.6L120.7,210.6L123.4,209.7L126.3,208.7L129.4,207.7L132.7,206.6L136.1,205.5L139.6,204.5L143.0,203.5L146.4,202.8L149.8,202.0L153.2,201.4L156.6,200.8L160.0,200.3L163.4,199.8L166.9,199.4L170.4,199.0L173.9,198.7L177.5,198.4L181.0,198.3L184.5,198.1L188.0,198.0L191.5,197.9L194.8,197.8L198.1,197.8L201.3,197.7L204.6,197.8L208.1,197.8L211.8,197.9L215.9,198.1L218.7,198.3L221.6,198.4L224.6,198.6L227.7,198.8L230.9,199.0L234.1,199.3L237.4,199.5L240.8,199.8L244.2,200.1L247.6,200.5L250.9,200.9L254.0,201.2L257.2,201.6L260.5,202.0L263.8,202.5L267.2,203.0L270.5,203.4L273.8,203.9L277.1,204.5L280.3,205.0L283.4,205.5L286.4,206.0L289.3,206.5L293.0,207.3L296.4,208.0L299.7,208.8L302.9,209.6L305.8,210.4L308.7,211.1L311.4,211.8L314.1,212.5L316.8,213.1L320.2,213.9L323.5,214.6L326.7,215.3L329.7,215.9L332.8,216.5L335.8,217.0L338.9,217.5L341.7,217.8L344.6,218.2L347.5,218.4L350.5,218.7L353.5,218.9L356.5,219.1L359.4,219.3L362.4,219.4L365.8,219.6L369.4,219.8L372.9,219.9L376.5,220.0L379.8,220.1L382.9,220.1L385.6,220.2L389.6,220.3L391.9,220.3L395.7,220.2L398.0,220.1L400.8,220.0L403.8,219.8L407.0,219.6L410.2,219.4L413.4,219.2L416.4,219.0L419.2,218.7L422.6,218.4L425.6,218.0L428.5,217.6L431.5,217.2L434.8,216.6L438.6,215.9L441.2,215.5L443.9,215.0L446.8,214.5L449.8,213.9L452.9,213.3L456.0,212.7L459.1,212.1L462.2,211.4L465.3,210.8L468.3,210.1L471.3,209.4L474.4,208.7L477.6,208.0L480.7,207.2L483.8,206.5L486.9,205.7L489.8,204.9L492.7,204.2L495.4,203.4L497.9,202.7L501.2,201.8L504.3,200.8L507.1,199.9L509.8,198.9L512.4,198.0L515.0,197.1L517.5,196.2L520.8,195.0L523.8,194.0L526.7,192.9L529.5,191.9L532.5,190.9L537.5,205.1L534.6,206.1L531.8,207.2L528.9,208.2L525.8,209.3L522.5,210.4L520.0,211.3L517.5,212.2L514.8,213.2L512.0,214.1L508.9,215.2L505.6,216.2L502.1,217.3L499.4,218.0L496.6,218.8L493.6,219.5L490.6,220.3L487.4,221.1L484.3,221.9L481.1,222.7L477.9,223.4L474.7,224.2L471.7,224.9L468.6,225.6L465.4,226.3L462.3,227.0L459.1,227.7L455.9,228.4L452.8,229.0L449.7,229.6L446.8,230.2L444.0,230.8L441.4,231.3L437.5,232.0L434.0,232.6L430.8,233.1L427.6,233.5L424.3,233.9L420.8,234.3L417.8,234.5L414.5,234.8L411.2,235.0L407.9,235.2L404.6,235.4L401.5,235.6L398.7,235.7L396.3,235.8L392.1,235.9L389.3,235.9L385.4,235.8L382.7,235.8L379.7,235.8L376.3,235.8L372.7,235.8L368.9,235.8L365.2,235.7L361.6,235.6L358.5,235.4L355.5,235.2L352.4,235.1L349.2,234.8L346.1,234.6L342.9,234.3L339.8,233.9L336.7,233.5L333.2,233.0L329.9,232.4L326.6,231.8L323.3,231.1L320.1,230.4L316.7,229.7L313.2,228.9L310.3,228.2L307.5,227.5L304.6,226.8L301.7,226.0L298.9,225.3L295.9,224.5L292.8,223.8L289.7,223.1L286.3,222.5L283.6,222.0L280.7,221.5L277.7,221.0L274.6,220.5L271.4,220.0L268.2,219.6L264.9,219.1L261.7,218.7L258.4,218.3L255.2,217.9L252.1,217.5L249.1,217.1L245.8,216.8L242.6,216.5L239.3,216.2L236.1,215.9L232.9,215.6L229.7,215.4L226.6,215.2L223.5,215.0L220.6,214.8L217.8,214.6L215.1,214.5L211.2,214.3L207.7,214.2L204.5,214.2L201.4,214.1L198.3,214.2L195.2,214.2L191.9,214.3L188.5,214.4L185.2,214.5L181.8,214.6L178.5,214.8L175.2,215.0L171.9,215.3L168.7,215.6L165.5,216.0L162.4,216.5L159.2,217.0L156.1,217.5L153.0,218.1L150.0,218.8L147.0,219.5L144.0,220.2L140.9,221.2L137.8,222.2L134.7,223.2L131.6,224.3L128.5,225.3L125.7,226.2L122.1,227.3L119.0,228.3L116.1,229.1L113.3,230.0L110.4,230.9Z" fill="#2f62ad" fill-opacity="0.28" transform="translate(1.8,2.6)"/><path d="M105.7,215.3L108.6,214.5L111.5,213.6L114.3,212.7L117.4,211.8L120.8,210.8L123.5,209.9L126.3,208.9L129.5,207.9L132.7,206.8L136.1,205.7L139.6,204.7L143.1,203.7L146.5,202.9L149.8,202.2L153.2,201.6L156.6,201.0L160.0,200.5L163.4,200.0L166.9,199.6L170.4,199.2L173.9,198.9L177.5,198.6L181.0,198.5L184.5,198.3L188.0,198.2L191.5,198.1L194.8,198.0L198.1,198.0L201.3,197.9L204.6,198.0L208.1,198.0L211.8,198.1L215.9,198.3L218.7,198.5L221.5,198.6L224.5,198.8L227.7,199.0L230.9,199.2L234.1,199.5L237.4,199.7L240.8,200.0L244.2,200.3L247.5,200.7L250.9,201.1L254.0,201.4L257.2,201.8L260.5,202.2L263.8,202.7L267.2,203.2L270.5,203.6L273.8,204.1L277.1,204.7L280.3,205.2L283.4,205.7L286.4,206.2L289.3,206.7L292.9,207.5L296.4,208.2L299.7,209.0L302.8,209.8L305.8,210.6L308.6,211.3L311.4,212.0L314.1,212.7L316.7,213.3L320.2,214.1L323.5,214.8L326.6,215.5L329.7,216.1L332.7,216.7L335.8,217.2L338.9,217.7L341.7,218.0L344.6,218.4L347.5,218.6L350.5,218.9L353.4,219.1L356.4,219.3L359.4,219.5L362.4,219.6L365.8,219.8L369.3,220.0L372.9,220.1L376.5,220.2L379.8,220.3L382.9,220.3L385.6,220.4L389.6,220.5L391.9,220.5L395.7,220.4L398.0,220.3L400.8,220.2L403.8,220.0L407.0,219.8L410.2,219.6L413.4,219.4L416.5,219.2L419.2,218.9L422.6,218.6L425.6,218.2L428.5,217.8L431.5,217.4L434.8,216.8L438.7,216.1L441.2,215.7L444.0,215.2L446.8,214.7L449.8,214.1L452.9,213.5L456.0,212.9L459.2,212.3L462.3,211.6L465.4,211.0L468.4,210.3L471.4,209.6L474.5,208.9L477.6,208.2L480.7,207.4L483.9,206.7L486.9,205.9L489.9,205.1L492.7,204.4L495.5,203.6L498.0,202.9L501.3,202.0L504.3,201.0L507.2,200.0L509.9,199.1L512.5,198.2L515.0,197.2L517.6,196.4L520.9,195.2L523.9,194.2L526.8,193.1L529.6,192.1L532.5,191.1L537.5,204.9L534.5,206.0L531.7,207.0L528.8,208.0L525.7,209.1L522.4,210.2L519.9,211.1L517.4,212.0L514.8,213.0L511.9,214.0L508.9,215.0L505.6,216.0L502.0,217.1L499.4,217.8L496.5,218.6L493.6,219.3L490.5,220.1L487.4,220.9L484.2,221.7L481.0,222.5L477.8,223.2L474.7,224.0L471.6,224.7L468.5,225.4L465.4,226.1L462.2,226.8L459.0,227.5L455.9,228.2L452.7,228.8L449.7,229.4L446.8,230.0L444.0,230.6L441.3,231.1L437.4,231.8L434.0,232.4L430.7,232.9L427.6,233.3L424.3,233.7L420.8,234.1L417.7,234.3L414.5,234.6L411.2,234.8L407.8,235.0L404.6,235.2L401.5,235.4L398.7,235.5L396.3,235.6L392.1,235.7L389.3,235.7L385.4,235.6L382.7,235.6L379.7,235.6L376.3,235.6L372.7,235.6L368.9,235.6L365.2,235.5L361.6,235.4L358.6,235.2L355.5,235.0L352.4,234.9L349.2,234.6L346.1,234.4L343.0,234.1L339.8,233.7L336.7,233.3L333.3,232.8L329.9,232.2L326.6,231.6L323.4,230.9L320.1,230.2L316.8,229.5L313.3,228.7L310.4,228.0L307.5,227.3L304.7,226.6L301.8,225.8L298.9,225.1L295.9,224.3L292.9,223.6L289.7,222.9L286.3,222.3L283.6,221.8L280.8,221.3L277.8,220.8L274.6,220.3L271.5,219.8L268.2,219.4L265.0,218.9L261.7,218.5L258.4,218.1L255.2,217.7L252.1,217.3L249.1,216.9L245.9,216.6L242.6,216.3L239.3,216.0L236.1,215.7L232.9,215.4L229.7,215.2L226.6,215.0L223.5,214.8L220.6,214.6L217.8,214.4L215.1,214.3L211.2,214.1L207.7,214.0L204.5,214.0L201.4,213.9L198.3,214.0L195.2,214.0L191.9,214.1L188.5,214.2L185.1,214.3L181.8,214.4L178.5,214.6L175.2,214.8L171.9,215.1L168.7,215.4L165.5,215.8L162.3,216.3L159.2,216.8L156.1,217.3L153.0,217.9L149.9,218.6L146.9,219.3L143.9,220.1L140.9,221.0L137.7,222.0L134.6,223.0L131.5,224.1L128.5,225.1L125.6,226.0L122.1,227.1L119.0,228.1L116.1,228.9L113.2,229.8L110.3,230.7Z" fill="#8f6220"/><path d="M105.9,215.9L108.8,215.0L111.6,214.2L114.5,213.3L117.6,212.4L121.0,211.3L123.6,210.5L126.5,209.5L129.7,208.4L132.9,207.3L136.3,206.3L139.8,205.2L143.2,204.3L146.6,203.5L149.9,202.8L153.3,202.2L156.7,201.6L160.1,201.0L163.5,200.6L167.0,200.1L170.5,199.8L174.0,199.5L177.5,199.2L181.1,199.1L184.6,198.9L188.1,198.8L191.5,198.7L194.9,198.6L198.1,198.6L201.3,198.5L204.6,198.6L208.1,198.6L211.8,198.7L215.8,198.9L218.6,199.1L221.5,199.2L224.5,199.4L227.6,199.6L230.8,199.8L234.1,200.1L237.4,200.3L240.7,200.6L244.1,200.9L247.5,201.3L250.8,201.6L253.9,202.0L257.1,202.4L260.4,202.8L263.7,203.3L267.1,203.8L270.4,204.2L273.7,204.7L277.0,205.2L280.2,205.8L283.3,206.3L286.3,206.8L289.2,207.3L292.8,208.0L296.3,208.8L299.5,209.6L302.7,210.4L305.6,211.1L308.5,211.9L311.3,212.6L313.9,213.3L316.6,213.9L320.1,214.6L323.4,215.4L326.5,216.1L329.6,216.7L332.6,217.3L335.7,217.8L338.8,218.3L341.6,218.6L344.5,218.9L347.4,219.2L350.4,219.5L353.4,219.7L356.4,219.9L359.4,220.1L362.4,220.2L365.8,220.4L369.3,220.6L372.9,220.7L376.5,220.8L379.8,220.9L382.9,220.9L385.6,221.0L389.6,221.1L391.9,221.1L395.7,221.0L398.1,220.9L400.8,220.8L403.8,220.6L407.0,220.4L410.2,220.2L413.5,220.0L416.5,219.8L419.3,219.5L422.7,219.2L425.7,218.8L428.6,218.4L431.6,217.9L434.9,217.4L438.8,216.7L441.3,216.3L444.1,215.8L446.9,215.2L449.9,214.7L453.0,214.1L456.1,213.5L459.3,212.9L462.4,212.2L465.5,211.6L468.5,210.9L471.5,210.2L474.6,209.5L477.7,208.8L480.9,208.0L484.0,207.2L487.1,206.5L490.0,205.7L492.9,204.9L495.6,204.2L498.1,203.5L501.5,202.5L504.5,201.6L507.3,200.6L510.1,199.7L512.7,198.7L515.2,197.8L517.8,196.9L521.1,195.8L524.1,194.7L527.0,193.7L529.8,192.7L532.7,191.6L537.3,204.4L534.3,205.4L531.5,206.4L528.6,207.4L525.5,208.5L522.2,209.7L519.7,210.5L517.2,211.4L514.6,212.4L511.7,213.4L508.7,214.4L505.4,215.4L501.9,216.5L499.2,217.2L496.4,218.0L493.4,218.8L490.4,219.6L487.3,220.3L484.1,221.1L480.9,221.9L477.7,222.6L474.6,223.4L471.5,224.1L468.4,224.8L465.3,225.5L462.1,226.2L458.9,226.9L455.7,227.6L452.6,228.2L449.6,228.9L446.7,229.4L443.9,230.0L441.2,230.5L437.3,231.2L433.9,231.8L430.6,232.3L427.5,232.7L424.2,233.1L420.7,233.5L417.7,233.7L414.5,234.0L411.1,234.2L407.8,234.4L404.6,234.6L401.5,234.8L398.7,234.9L396.3,235.0L392.1,235.1L389.3,235.1L385.4,235.0L382.8,235.0L379.7,235.0L376.3,235.0L372.7,235.0L369.0,235.0L365.2,234.9L361.6,234.8L358.6,234.6L355.5,234.5L352.4,234.3L349.3,234.0L346.2,233.8L343.0,233.5L339.9,233.1L336.8,232.7L333.3,232.2L330.0,231.6L326.7,231.0L323.5,230.3L320.2,229.6L316.9,228.9L313.4,228.1L310.5,227.5L307.7,226.7L304.8,226.0L301.9,225.3L299.1,224.5L296.1,223.8L293.0,223.0L289.8,222.3L286.4,221.7L283.7,221.2L280.9,220.7L277.8,220.2L274.7,219.7L271.5,219.3L268.3,218.8L265.0,218.3L261.8,217.9L258.5,217.5L255.3,217.1L252.2,216.7L249.2,216.4L245.9,216.0L242.7,215.7L239.4,215.4L236.1,215.1L232.9,214.8L229.7,214.6L226.6,214.4L223.6,214.2L220.6,214.0L217.8,213.8L215.2,213.7L211.3,213.5L207.7,213.4L204.5,213.4L201.4,213.3L198.3,213.4L195.2,213.4L191.9,213.5L188.5,213.6L185.1,213.7L181.8,213.8L178.4,214.0L175.1,214.2L171.9,214.5L168.6,214.9L165.4,215.2L162.3,215.7L159.1,216.2L156.0,216.7L152.9,217.3L149.8,218.0L146.8,218.7L143.8,219.5L140.7,220.4L137.5,221.4L134.4,222.5L131.3,223.5L128.3,224.5L125.4,225.5L121.9,226.5L118.8,227.5L115.9,228.4L113.1,229.2L110.1,230.1Z" fill="#fbc465"/><path d="M108.6,225.1L111.6,224.2L114.4,223.4L117.3,222.5L120.4,221.6L123.9,220.5L126.7,219.6L129.6,218.6L132.7,217.6L135.9,216.5L139.2,215.4L142.4,214.5L145.5,213.7L148.7,212.9L151.9,212.2L155.0,211.6L158.3,211.1L161.5,210.6L164.8,210.1L168.1,209.7L171.4,209.4L174.7,209.1L178.1,208.9L181.5,208.7L184.9,208.5L188.3,208.4L191.8,208.3L195.1,208.2L198.2,208.2L201.3,208.2L204.5,208.2L207.9,208.2L211.5,208.3L215.4,208.5L218.1,208.7L220.9,208.8L223.9,209.0L227.0,209.2L230.1,209.4L233.3,209.7L236.6,209.9L239.9,210.2L243.2,210.5L246.5,210.8L249.8,211.2L252.8,211.6L256.0,211.9L259.2,212.3L262.5,212.8L265.7,213.2L269.0,213.7L272.3,214.2L275.5,214.7L278.7,215.2L281.7,215.7L284.6,216.2L287.4,216.7L290.9,217.3L294.2,218.1L297.3,218.8L300.3,219.6L303.2,220.3L306.1,221.1L308.9,221.8L311.7,222.5L314.5,223.1L318.0,223.9L321.3,224.6L324.6,225.3L327.7,226.0L330.9,226.6L334.2,227.2L337.5,227.7L340.5,228.1L343.5,228.4L346.6,228.7L349.7,228.9L352.8,229.2L355.8,229.4L358.9,229.5L361.9,229.7L365.4,229.8L369.1,229.9L372.8,230.0L376.3,230.0L379.7,230.1L382.8,230.1L385.5,230.1L389.4,230.2L392.0,230.2L396.1,230.1L398.5,230.0L401.2,229.9L404.3,229.7L407.5,229.5L410.8,229.3L414.1,229.1L417.3,228.9L420.2,228.6L423.7,228.2L426.9,227.8L429.9,227.4L433.1,226.9L436.5,226.4L440.4,225.7L443.0,225.2L445.7,224.7L448.7,224.1L451.7,223.5L454.8,222.9L457.9,222.2L461.1,221.5L464.3,220.9L467.4,220.2L470.4,219.5L473.5,218.8L476.6,218.0L479.8,217.3L483.0,216.5L486.1,215.8L489.2,215.0L492.2,214.2L495.2,213.4L497.9,212.7L500.6,211.9L504.0,210.9L507.2,209.9L510.2,208.9L513.0,207.9L515.6,207.0L518.2,206.1L520.7,205.2L524.0,204.1L527.0,203.0L529.9,202.0L532.8,200.9L535.7,199.9L537.3,204.4L534.3,205.4L531.5,206.4L528.6,207.4L525.5,208.5L522.2,209.7L519.7,210.5L517.2,211.4L514.6,212.4L511.7,213.4L508.7,214.4L505.4,215.4L501.9,216.5L499.2,217.2L496.4,218.0L493.4,218.8L490.4,219.6L487.3,220.3L484.1,221.1L480.9,221.9L477.7,222.6L474.6,223.4L471.5,224.1L468.4,224.8L465.3,225.5L462.1,226.2L458.9,226.9L455.7,227.6L452.6,228.2L449.6,228.9L446.7,229.4L443.9,230.0L441.2,230.5L437.3,231.2L433.9,231.8L430.6,232.3L427.5,232.7L424.2,233.1L420.7,233.5L417.7,233.7L414.5,234.0L411.1,234.2L407.8,234.4L404.6,234.6L401.5,234.8L398.7,234.9L396.3,235.0L392.1,235.1L389.3,235.1L385.4,235.0L382.8,235.0L379.7,235.0L376.3,235.0L372.7,235.0L369.0,235.0L365.2,234.9L361.6,234.8L358.6,234.6L355.5,234.5L352.4,234.3L349.3,234.0L346.2,233.8L343.0,233.5L339.9,233.1L336.8,232.7L333.3,232.2L330.0,231.6L326.7,231.0L323.5,230.3L320.2,229.6L316.9,228.9L313.4,228.1L310.5,227.5L307.7,226.7L304.8,226.0L301.9,225.3L299.1,224.5L296.1,223.8L293.0,223.0L289.8,222.3L286.4,221.7L283.7,221.2L280.9,220.7L277.8,220.2L274.7,219.7L271.5,219.3L268.3,218.8L265.0,218.3L261.8,217.9L258.5,217.5L255.3,217.1L252.2,216.7L249.2,216.4L245.9,216.0L242.7,215.7L239.4,215.4L236.1,215.1L232.9,214.8L229.7,214.6L226.6,214.4L223.6,214.2L220.6,214.0L217.8,213.8L215.2,213.7L211.3,213.5L207.7,213.4L204.5,213.4L201.4,213.3L198.3,213.4L195.2,213.4L191.9,213.5L188.5,213.6L185.1,213.7L181.8,213.8L178.4,214.0L175.1,214.2L171.9,214.5L168.6,214.9L165.4,215.2L162.3,215.7L159.1,216.2L156.0,216.7L152.9,217.3L149.8,218.0L146.8,218.7L143.8,219.5L140.7,220.4L137.5,221.4L134.4,222.5L131.3,223.5L128.3,224.5L125.4,225.5L121.9,226.5L118.8,227.5L115.9,228.4L113.1,229.2L110.1,230.1Z" fill="#f4a840"/><path d="M105.9,215.9L108.8,215.0L111.6,214.2L114.5,213.3L117.6,212.4L121.0,211.3L123.6,210.5L126.5,209.5L129.7,208.4L132.9,207.3L136.3,206.3L139.8,205.2L143.2,204.3L146.6,203.5L149.9,202.8L153.3,202.2L156.7,201.6L160.1,201.0L163.5,200.6L167.0,200.1L170.5,199.8L174.0,199.5L177.5,199.2L181.1,199.1L184.6,198.9L188.1,198.8L191.5,198.7L194.9,198.6L198.1,198.6L201.3,198.5L204.6,198.6L208.1,198.6L211.8,198.7L215.8,198.9L218.6,199.1L221.5,199.2L224.5,199.4L227.6,199.6L230.8,199.8L234.1,200.1L237.4,200.3L240.7,200.6L244.1,200.9L247.5,201.3L250.8,201.6L253.9,202.0L257.1,202.4L260.4,202.8L263.7,203.3L267.1,203.8L270.4,204.2L273.7,204.7L277.0,205.2L280.2,205.8L283.3,206.3L286.3,206.8L289.2,207.3L292.8,208.0L296.3,208.8L299.5,209.6L302.7,210.4L305.6,211.1L308.5,211.9L311.3,212.6L313.9,213.3L316.6,213.9L320.1,214.6L323.4,215.4L326.5,216.1L329.6,216.7L332.6,217.3L335.7,217.8L338.8,218.3L341.6,218.6L344.5,218.9L347.4,219.2L350.4,219.5L353.4,219.7L356.4,219.9L359.4,220.1L362.4,220.2L365.8,220.4L369.3,220.6L372.9,220.7L376.5,220.8L379.8,220.9L382.9,220.9L385.6,221.0L389.6,221.1L391.9,221.1L395.7,221.0L398.1,220.9L400.8,220.8L403.8,220.6L407.0,220.4L410.2,220.2L413.5,220.0L416.5,219.8L419.3,219.5L422.7,219.2L425.7,218.8L428.6,218.4L431.6,217.9L434.9,217.4L438.8,216.7L441.3,216.3L444.1,215.8L446.9,215.2L449.9,214.7L453.0,214.1L456.1,213.5L459.3,212.9L462.4,212.2L465.5,211.6L468.5,210.9L471.5,210.2L474.6,209.5L477.7,208.8L480.9,208.0L484.0,207.2L487.1,206.5L490.0,205.7L492.9,204.9L495.6,204.2L498.1,203.5L501.5,202.5L504.5,201.6L507.3,200.6L510.1,199.7L512.7,198.7L515.2,197.8L517.8,196.9L521.1,195.8L524.1,194.7L527.0,193.7L529.8,192.7L532.7,191.6L533.1,192.7L530.2,193.7L527.3,194.7L524.5,195.7L521.5,196.8L518.1,197.9L515.6,198.8L513.0,199.7L510.4,200.7L507.7,201.6L504.8,202.6L501.8,203.6L498.4,204.6L495.9,205.3L493.2,206.0L490.3,206.7L487.3,207.5L484.3,208.3L481.1,209.1L478.0,209.8L474.9,210.6L471.8,211.3L468.7,212.0L465.7,212.6L462.6,213.3L459.5,213.9L456.4,214.6L453.2,215.2L450.2,215.8L447.2,216.3L444.3,216.9L441.5,217.4L439.0,217.8L435.1,218.5L431.8,219.1L428.8,219.5L425.8,219.9L422.8,220.3L419.4,220.6L416.6,220.9L413.5,221.1L410.3,221.4L407.1,221.6L403.9,221.7L400.9,221.9L398.1,222.0L395.8,222.1L391.9,222.3L389.6,222.2L385.6,222.1L382.9,222.1L379.8,222.0L376.5,221.9L372.9,221.8L369.3,221.7L365.7,221.6L362.3,221.4L359.3,221.2L356.3,221.0L353.3,220.9L350.3,220.6L347.3,220.4L344.4,220.1L341.5,219.8L338.6,219.4L335.5,219.0L332.4,218.4L329.4,217.8L326.3,217.2L323.1,216.5L319.8,215.8L316.3,215.0L313.7,214.4L311.0,213.7L308.2,213.0L305.3,212.3L302.4,211.5L299.3,210.7L296.0,209.9L292.6,209.2L288.9,208.5L286.1,208.0L283.1,207.4L280.0,206.9L276.8,206.4L273.5,205.9L270.2,205.4L266.9,204.9L263.6,204.5L260.3,204.0L257.0,203.6L253.8,203.2L250.7,202.8L247.3,202.5L244.0,202.1L240.6,201.8L237.3,201.5L234.0,201.2L230.7,201.0L227.5,200.8L224.4,200.6L221.4,200.4L218.6,200.2L215.8,200.1L211.8,199.9L208.1,199.8L204.6,199.7L201.3,199.7L198.1,199.8L194.9,199.8L191.5,199.9L188.1,200.0L184.6,200.1L181.1,200.2L177.6,200.4L174.1,200.7L170.6,201.0L167.1,201.3L163.7,201.7L160.3,202.2L156.9,202.7L153.5,203.3L150.2,204.0L146.8,204.7L143.5,205.5L140.1,206.4L136.7,207.4L133.3,208.5L130.0,209.6L126.9,210.6L124.0,211.6L121.3,212.5L117.9,213.5L114.8,214.5L112.0,215.3L109.1,216.2L106.2,217.0Z" fill="#f6ae48"/><path d="M109.4,214.8L113.7,229.0L115.8,228.4L111.5,214.2ZM127.0,209.3L131.8,223.4L133.8,222.7L129.1,208.6ZM145.6,203.8L148.9,218.2L151.0,217.7L147.8,203.3ZM164.7,200.4L166.6,215.1L168.7,214.8L167.0,200.1ZM184.0,198.9L184.6,213.7L186.7,213.6L186.2,198.9ZM203.0,198.5L202.9,213.3L205.1,213.4L205.3,198.6ZM222.1,199.2L221.2,214.0L223.4,214.2L224.3,199.4ZM240.9,200.6L239.6,215.4L241.8,215.6L243.2,200.9ZM259.8,202.8L257.9,217.4L260.1,217.7L262.0,203.1ZM278.5,205.5L276.2,220.0L278.3,220.3L280.7,205.8ZM297.3,209.1L294.0,223.3L296.1,223.8L299.6,209.6ZM315.5,213.6L312.2,227.8L314.4,228.3L317.6,214.1ZM333.4,217.4L330.8,231.8L333.1,232.2L335.4,217.8ZM351.2,219.5L350.1,234.1L352.3,234.2L353.3,219.7ZM369.5,220.6L369.1,235.0L371.3,235.0L371.7,220.6ZM388.1,221.1L387.8,235.1L390.1,235.1L390.3,221.1ZM406.3,220.5L407.0,234.5L409.3,234.3L408.4,220.4ZM424.4,219.0L426.1,232.9L428.4,232.6L426.5,218.7ZM442.4,216.1L445.0,229.8L447.2,229.3L444.6,215.7ZM460.6,212.6L463.4,225.9L465.6,225.4L462.7,212.1ZM478.7,208.5L481.8,221.7L484.0,221.1L480.8,208.0ZM496.5,204.0L500.2,217.0L502.3,216.3L498.6,203.4ZM513.8,198.3L518.4,211.0L520.4,210.3L515.9,197.6Z" fill="#c9a46c"/><path d="M111.3,214.3L115.6,228.4L119.4,227.3L115.1,213.1ZM128.9,208.7L133.6,222.7L137.4,221.5L132.8,207.4ZM147.6,203.3L150.8,217.8L154.5,217.0L151.7,202.5ZM166.8,200.2L168.5,214.9L172.3,214.5L170.9,199.7ZM186.0,198.9L186.5,213.7L190.5,213.5L190.1,198.7ZM205.1,198.6L204.9,213.4L208.8,213.4L209.2,198.6ZM224.1,199.4L223.2,214.1L227.1,214.4L228.1,199.6ZM243.0,200.8L241.6,215.6L245.5,216.0L247.0,201.2ZM261.8,203.0L259.9,217.6L263.8,218.2L265.8,203.6ZM280.5,205.8L278.1,220.3L282.0,220.9L284.5,206.5ZM299.4,209.5L295.9,223.7L299.7,224.7L303.3,210.5ZM317.4,214.0L314.2,228.3L318.1,229.2L321.2,214.9ZM335.2,217.7L332.9,232.1L337.0,232.8L339.0,218.3ZM353.1,219.7L352.1,234.2L356.2,234.5L357.1,219.9ZM371.5,220.6L371.1,235.0L375.2,235.0L375.4,220.8ZM390.1,221.1L389.9,235.1L394.2,235.1L393.8,221.1ZM408.2,220.4L409.1,234.3L413.1,234.1L412.2,220.1ZM426.3,218.7L428.2,232.6L432.3,232.0L430.1,218.2ZM444.4,215.7L447.0,229.4L450.9,228.6L448.3,215.0ZM462.6,212.2L465.4,225.5L469.4,224.6L466.4,211.4ZM480.6,208.1L483.8,221.2L487.7,220.2L484.4,207.1ZM498.4,203.4L502.2,216.4L506.1,215.2L502.1,202.3ZM515.7,197.6L520.2,210.4L524.0,209.1L519.5,196.3Z" fill="#7a5214"/><path d="M106.2,217.0L109.1,216.2L112.0,215.3L114.8,214.5L117.9,213.5L121.3,212.5L124.0,211.6L126.9,210.6L130.0,209.6L133.3,208.5L136.7,207.4L140.1,206.4L143.5,205.5L146.8,204.7L150.2,204.0L153.5,203.3L156.9,202.7L160.3,202.2L163.7,201.7L167.1,201.3L170.6,201.0L174.1,200.7L177.6,200.4L181.1,200.2L184.6,200.1L188.1,200.0L191.5,199.9L194.9,199.8L198.1,199.8L201.3,199.7L204.6,199.7L208.1,199.8L211.8,199.9L215.8,200.1L218.6,200.2L221.4,200.4L224.4,200.6L227.5,200.8L230.7,201.0L234.0,201.2L237.3,201.5L240.6,201.8L244.0,202.1L247.3,202.5L250.7,202.8L253.8,203.2L257.0,203.6L260.3,204.0L263.6,204.5L266.9,204.9L270.2,205.4L273.5,205.9L276.8,206.4L280.0,206.9L283.1,207.4L286.1,208.0L288.9,208.5L292.6,209.2L296.0,209.9L299.3,210.7L302.4,211.5L305.3,212.3L308.2,213.0L311.0,213.7L313.7,214.4L316.3,215.0L319.8,215.8L323.1,216.5L326.3,217.2L329.4,217.8L332.4,218.4L335.5,219.0L338.6,219.4L341.5,219.8L344.4,220.1L347.3,220.4L350.3,220.6L353.3,220.9L356.3,221.0L359.3,221.2L362.3,221.4L365.7,221.6L369.3,221.7L372.9,221.8L376.5,221.9L379.8,222.0L382.9,222.1L385.6,222.1L389.6,222.2L391.9,222.3L395.8,222.1L398.1,222.0L400.9,221.9L403.9,221.7L407.1,221.6L410.3,221.4L413.5,221.1L416.6,220.9L419.4,220.6L422.8,220.3L425.8,219.9L428.8,219.5L431.8,219.1L435.1,218.5L439.0,217.8L441.5,217.4L444.3,216.9L447.2,216.3L450.2,215.8L453.2,215.2L456.4,214.6L459.5,213.9L462.6,213.3L465.7,212.6L468.7,212.0L471.8,211.3L474.9,210.6L478.0,209.8L481.1,209.1L484.3,208.3L487.3,207.5L490.3,206.7L493.2,206.0L495.9,205.3L498.4,204.6L501.8,203.6L504.8,202.6L507.7,201.6L510.4,200.7L513.0,199.7L515.6,198.8L518.1,197.9L521.5,196.8L524.5,195.7L527.3,194.7L530.2,193.7L533.1,192.7L534.3,196.1L531.4,197.1L528.6,198.1L525.7,199.2L522.7,200.2L519.3,201.4L516.8,202.3L514.3,203.2L511.6,204.1L508.9,205.1L506.0,206.1L502.8,207.1L499.4,208.1L496.9,208.8L494.1,209.5L491.2,210.3L488.2,211.0L485.1,211.8L482.0,212.6L478.8,213.4L475.7,214.1L472.6,214.8L469.6,215.5L466.5,216.2L463.4,216.9L460.3,217.5L457.1,218.2L454.0,218.8L450.9,219.4L447.9,220.0L445.0,220.6L442.2,221.1L439.6,221.5L435.8,222.2L432.4,222.8L429.3,223.3L426.3,223.7L423.2,224.0L419.8,224.4L416.9,224.7L413.8,224.9L410.6,225.1L407.3,225.3L404.1,225.5L401.0,225.7L398.3,225.8L395.9,225.9L392.0,226.0L389.5,226.0L385.5,225.9L382.9,225.9L379.8,225.8L376.4,225.8L372.8,225.7L369.2,225.6L365.6,225.5L362.1,225.3L359.1,225.2L356.1,225.0L353.1,224.8L350.0,224.6L347.0,224.3L344.0,224.0L341.0,223.7L338.1,223.3L334.9,222.8L331.7,222.3L328.6,221.7L325.5,221.1L322.3,220.4L318.9,219.6L315.5,218.9L312.7,218.2L310.0,217.5L307.2,216.8L304.3,216.1L301.4,215.3L298.3,214.5L295.1,213.8L291.8,213.0L288.2,212.3L285.4,211.8L282.4,211.3L279.4,210.8L276.2,210.3L273.0,209.8L269.7,209.3L266.4,208.9L263.0,208.4L259.8,208.0L256.5,207.5L253.3,207.2L250.2,206.8L246.9,206.4L243.6,206.1L240.3,205.8L236.9,205.5L233.7,205.2L230.4,205.0L227.3,204.8L224.2,204.6L221.2,204.4L218.3,204.2L215.6,204.1L211.6,203.9L208.0,203.8L204.6,203.7L201.3,203.7L198.2,203.7L195.0,203.8L191.6,203.9L188.2,204.0L184.8,204.1L181.3,204.2L177.8,204.4L174.4,204.7L170.9,204.9L167.5,205.3L164.2,205.7L160.9,206.2L157.5,206.7L154.2,207.3L151.0,207.9L147.7,208.6L144.5,209.3L141.2,210.2L137.9,211.2L134.5,212.3L131.3,213.3L128.2,214.4L125.3,215.4L122.5,216.3L119.1,217.3L116.0,218.3L113.1,219.1L110.3,220.0L107.4,220.9Z" fill="#fee2a4" fill-opacity="0.6"/></g>
<path d="M479.5,158 L479.5,250 L479,330 L478.6,345" fill="none" stroke="#f6fdfe" stroke-width="1.5"/>
<g><circle cx="140.0" cy="322.2" r="27.8" fill="#e4f6fa" fill-opacity="0.5" stroke="#f2fbfd" stroke-opacity="0.8" stroke-width="1"/><circle cx="139.8" cy="323.9" r="19.4" fill="url(#stem)" stroke="#e09a4c" stroke-width="0.7"/><g fill="#f19440" fill-opacity="0.55"><ellipse cx="135.0" cy="317.1" rx="8.1" ry="3.9" transform="rotate(35 135.0 317.1)"/><ellipse cx="146.6" cy="322.0" rx="6.2" ry="4.3" transform="rotate(-50 146.6 322.0)"/><ellipse cx="136.9" cy="330.7" rx="8.7" ry="3.9" transform="rotate(15 136.9 330.7)"/><ellipse cx="145.6" cy="333.6" rx="5.8" ry="3.1" transform="rotate(-20 145.6 333.6)"/><ellipse cx="129.1" cy="324.9" rx="3.9" ry="5.8" transform="rotate(10 129.1 324.9)"/><ellipse cx="142.7" cy="312.3" rx="5.8" ry="2.7" transform="rotate(10 142.7 312.3)"/></g><circle cx="139.8" cy="323.9" r="19.4" fill="url(#stemhl)"/></g>
<g><circle cx="375.6" cy="469.6" r="28.4" fill="url(#fatrim2)" stroke="#ee6a1a" stroke-width="1.2"/><circle cx="373.3" cy="473.3" r="24.3" fill="#fcc468"/><circle cx="373.3" cy="473.3" r="23.3" fill="url(#fatin3)"/><ellipse cx="387.8" cy="450.1" rx="3.9" ry="7.0" fill="url(#nucg)" stroke="#6a4a32" stroke-width="0.7" transform="rotate(-58 387.8 450.1)"/></g>
<g><path d="M99.3,537.5L101.5,535.5L103.7,533.5L106.0,531.5L108.4,529.4L110.9,527.3L113.5,525.2L116.1,523.0L118.9,520.9L121.7,518.8L124.5,516.7L127.4,514.7L130.5,512.5L133.2,510.8L136.1,509.0L139.0,507.1L142.0,505.2L145.1,503.4L148.1,501.7L151.2,500.0L154.4,498.2L157.6,496.5L160.9,494.9L164.1,493.4L167.4,492.0L170.7,490.5L174.1,489.2L177.7,487.9L181.2,486.8L184.6,485.8L188.0,484.9L191.5,484.1L195.2,483.2L198.1,482.4L201.2,481.6L204.4,480.8L207.8,480.0L211.1,479.1L214.5,478.4L217.8,477.6L221.1,476.9L224.5,476.1L227.8,475.4L231.2,474.8L234.4,474.1L237.4,473.5L240.3,473.0L243.9,472.2L247.1,471.6L250.1,471.1L253.2,470.5L256.7,469.8L259.5,469.3L262.5,468.8L265.6,468.2L268.7,467.7L271.8,467.1L274.9,466.5L277.9,465.9L281.4,465.2L285.0,464.4L288.7,463.6L292.1,462.9L295.2,462.1L297.8,461.5L301.5,460.5L303.7,459.8L306.4,458.6L308.9,457.5L311.5,456.2L314.5,454.6L317.7,453.0L320.4,451.5L323.3,449.8L326.6,447.9L330.1,446.1L333.8,444.4L337.1,443.1L340.3,442.0L343.5,441.1L346.7,440.1L349.8,439.3L352.9,438.4L356.1,437.5L359.3,436.7L362.4,435.9L365.2,435.2L367.7,434.4L369.8,433.6L372.2,432.4L374.3,431.1L376.4,429.7L378.8,427.9L381.3,425.9L383.6,424.1L386.0,422.1L388.5,419.8L391.1,417.5L393.6,415.2L395.9,413.0L398.6,410.6L401.1,408.4L403.4,406.2L405.8,403.9L408.2,401.6L410.2,399.6L412.2,397.6L414.3,395.5L416.3,393.4L418.4,391.2L420.6,389.0L422.8,386.7L425.0,384.3L427.3,381.8L429.6,379.4L431.9,376.8L434.2,374.3L436.5,371.8L438.8,369.3L441.1,366.7L443.3,364.3L445.4,361.8L447.4,359.5L449.1,357.1L450.8,354.8L452.4,352.4L454.0,349.9L455.7,347.4L457.5,344.8L459.3,342.3L461.1,339.8L463.0,337.4L464.8,334.9L466.6,332.5L468.4,330.1L470.2,327.6L472.0,325.1L473.8,322.7L475.6,320.2L477.4,317.7L479.2,315.2L481.0,312.7L482.9,310.2L484.8,307.6L486.7,305.1L488.4,302.8L490.0,300.6L492.0,297.9L493.8,295.4L495.5,293.1L497.2,290.8L508.8,299.2L507.1,301.6L505.5,303.9L503.7,306.3L501.6,309.2L500.0,311.3L498.3,313.7L496.4,316.2L494.5,318.7L492.6,321.3L490.8,323.8L489.0,326.2L487.2,328.7L485.4,331.1L483.6,333.6L481.8,336.1L480.0,338.5L478.2,341.0L476.4,343.5L474.7,345.9L472.9,348.4L471.2,350.8L469.5,353.2L467.9,355.6L466.3,358.0L464.7,360.5L463.0,363.1L461.2,365.8L459.2,368.5L457.1,371.3L454.9,374.0L452.6,376.8L450.3,379.4L448.1,382.1L445.8,384.7L443.6,387.3L441.4,389.9L439.1,392.5L436.9,395.0L434.6,397.6L432.4,400.0L430.3,402.4L428.2,404.6L426.1,406.9L424.0,409.1L421.9,411.2L419.8,413.4L417.4,415.9L414.9,418.2L412.5,420.6L409.9,423.0L407.3,425.4L404.9,427.6L402.3,429.9L399.6,432.3L396.9,434.7L394.1,437.0L391.5,439.1L388.6,441.2L385.8,443.2L382.9,445.1L379.7,446.8L376.2,448.4L372.8,449.7L369.5,450.6L366.2,451.5L363.0,452.2L360.0,452.9L357.1,453.6L354.1,454.5L351.0,455.3L347.9,456.1L345.0,457.0L342.3,457.9L339.8,458.8L336.9,460.1L334.0,461.6L331.1,463.3L328.1,465.0L325.3,466.6L322.1,468.5L319.1,470.2L316.2,471.8L313.2,473.4L309.8,474.9L306.5,476.2L302.2,477.5L299.3,478.3L296.0,479.1L292.4,480.0L288.7,480.9L285.0,481.7L281.3,482.5L278.2,483.2L275.0,483.8L271.8,484.4L268.6,485.0L265.5,485.5L262.5,486.1L259.7,486.6L256.2,487.2L253.1,487.7L250.1,488.2L247.0,488.8L243.5,489.4L240.6,490.0L237.6,490.6L234.4,491.2L231.1,491.8L227.8,492.5L224.6,493.1L221.4,493.8L218.2,494.5L215.0,495.3L211.7,496.1L208.5,496.9L205.3,497.7L202.3,498.5L199.4,499.2L195.7,500.3L192.3,501.2L189.3,502.1L186.4,503.0L183.5,504.1L180.7,505.3L177.8,506.6L174.9,508.0L172.0,509.5L169.1,511.1L166.3,512.6L163.4,514.3L160.6,516.0L157.7,517.8L154.9,519.6L152.2,521.3L149.5,523.2L146.8,525.0L144.1,526.9L141.7,528.7L138.8,530.7L136.1,532.7L133.6,534.6L131.1,536.5L128.7,538.5L126.3,540.5L123.9,542.6L121.6,544.6L119.3,546.6L117.1,548.5L114.9,550.5L112.7,552.5Z" fill="#2f62ad" fill-opacity="0.28" transform="translate(1.8,2.6)"/><path d="M99.4,537.7L101.6,535.7L103.9,533.7L106.2,531.6L108.6,529.5L111.0,527.5L113.6,525.3L116.2,523.2L119.0,521.0L121.8,518.9L124.6,516.9L127.5,514.8L130.6,512.7L133.3,510.9L136.2,509.1L139.1,507.3L142.1,505.4L145.2,503.6L148.2,501.9L151.3,500.1L154.5,498.4L157.7,496.7L161.0,495.1L164.2,493.6L167.5,492.1L170.8,490.7L174.2,489.4L177.7,488.1L181.2,487.0L184.6,486.0L188.0,485.1L191.5,484.3L195.3,483.4L198.2,482.6L201.3,481.8L204.5,481.0L207.8,480.2L211.2,479.3L214.5,478.5L217.8,477.8L221.1,477.1L224.5,476.3L227.9,475.6L231.2,475.0L234.4,474.3L237.5,473.7L240.4,473.1L243.9,472.4L247.1,471.8L250.1,471.3L253.2,470.7L256.7,470.0L259.5,469.5L262.5,469.0L265.6,468.4L268.7,467.9L271.9,467.3L274.9,466.7L277.9,466.1L281.4,465.4L285.1,464.6L288.7,463.8L292.1,463.1L295.2,462.3L297.8,461.7L301.5,460.7L303.8,459.9L306.5,458.8L309.0,457.7L311.6,456.4L314.6,454.8L317.8,453.1L320.5,451.6L323.4,450.0L326.7,448.1L330.2,446.3L333.9,444.6L337.1,443.3L340.4,442.2L343.6,441.3L346.8,440.3L349.9,439.5L352.9,438.6L356.1,437.7L359.4,436.9L362.4,436.1L365.3,435.4L367.8,434.6L369.9,433.7L372.3,432.6L374.4,431.3L376.6,429.8L378.9,428.1L381.4,426.1L383.7,424.3L386.1,422.2L388.6,420.0L391.2,417.6L393.7,415.3L396.1,413.1L398.7,410.8L401.2,408.5L403.6,406.3L405.9,404.1L408.3,401.7L410.3,399.8L412.4,397.7L414.4,395.7L416.5,393.5L418.6,391.4L420.7,389.1L422.9,386.8L425.2,384.4L427.4,382.0L429.7,379.5L432.0,377.0L434.3,374.5L436.6,371.9L439.0,369.4L441.3,366.9L443.5,364.4L445.6,361.9L447.5,359.6L449.3,357.3L450.9,354.9L452.6,352.5L454.2,350.1L455.9,347.5L457.7,344.9L459.5,342.4L461.3,339.9L463.1,337.5L464.9,335.0L466.7,332.6L468.5,330.2L470.3,327.7L472.1,325.2L473.9,322.8L475.7,320.3L477.6,317.8L479.4,315.4L481.2,312.8L483.1,310.3L485.0,307.7L486.8,305.2L488.6,302.9L490.2,300.8L492.2,298.0L494.0,295.5L495.6,293.3L497.3,290.9L508.7,299.1L507.0,301.5L505.3,303.8L503.5,306.2L501.4,309.0L499.8,311.2L498.1,313.6L496.2,316.1L494.4,318.6L492.5,321.2L490.6,323.6L488.8,326.1L487.0,328.6L485.3,331.0L483.5,333.5L481.7,336.0L479.9,338.4L478.1,340.9L476.3,343.4L474.5,345.8L472.7,348.2L471.0,350.7L469.3,353.1L467.7,355.4L466.2,357.9L464.6,360.4L462.9,363.0L461.0,365.7L459.1,368.4L456.9,371.2L454.7,373.9L452.4,376.6L450.2,379.3L447.9,381.9L445.7,384.5L443.5,387.1L441.2,389.7L439.0,392.3L436.7,394.9L434.5,397.4L432.3,399.9L430.1,402.2L428.0,404.5L426.0,406.7L423.9,408.9L421.8,411.1L419.7,413.3L417.2,415.7L414.8,418.1L412.3,420.4L409.8,422.8L407.1,425.3L404.7,427.4L402.2,429.7L399.5,432.1L396.8,434.5L394.0,436.8L391.4,438.9L388.5,441.0L385.7,443.0L382.8,444.9L379.6,446.6L376.1,448.3L372.8,449.5L369.4,450.5L366.2,451.3L363.0,452.0L360.0,452.7L357.1,453.4L354.0,454.3L350.9,455.1L347.9,455.9L345.0,456.8L342.2,457.7L339.7,458.6L336.8,459.9L333.9,461.5L331.0,463.1L328.0,464.8L325.2,466.5L322.0,468.3L319.0,470.0L316.1,471.7L313.1,473.2L309.8,474.7L306.4,476.0L302.2,477.3L299.2,478.1L295.9,478.9L292.4,479.8L288.6,480.7L284.9,481.5L281.3,482.3L278.2,483.0L275.0,483.6L271.7,484.2L268.5,484.8L265.4,485.3L262.5,485.9L259.7,486.4L256.2,487.0L253.1,487.5L250.1,488.0L247.0,488.6L243.4,489.3L240.6,489.8L237.5,490.4L234.3,491.0L231.1,491.6L227.8,492.3L224.5,492.9L221.4,493.6L218.2,494.3L215.0,495.1L211.7,495.9L208.4,496.7L205.3,497.5L202.2,498.3L199.3,499.0L195.6,500.1L192.3,501.0L189.2,501.9L186.3,502.8L183.5,503.9L180.6,505.1L177.7,506.4L174.8,507.8L171.9,509.3L169.0,510.9L166.2,512.5L163.3,514.1L160.5,515.8L157.6,517.6L154.8,519.4L152.1,521.2L149.3,523.0L146.7,524.9L144.0,526.7L141.6,528.5L138.7,530.6L136.0,532.5L133.5,534.4L131.0,536.4L128.6,538.4L126.2,540.4L123.8,542.4L121.4,544.5L119.2,546.4L117.0,548.4L114.8,550.3L112.6,552.3Z" fill="#8f6220"/><path d="M99.8,538.1L102.0,536.1L104.3,534.1L106.6,532.1L109.0,530.0L111.4,527.9L114.0,525.8L116.6,523.6L119.4,521.5L122.1,519.4L125.0,517.4L127.9,515.3L131.0,513.2L133.7,511.4L136.5,509.6L139.4,507.8L142.4,505.9L145.5,504.1L148.5,502.4L151.6,500.6L154.8,498.9L158.0,497.3L161.2,495.7L164.5,494.1L167.7,492.7L171.0,491.3L174.4,489.9L177.9,488.7L181.4,487.5L184.8,486.6L188.2,485.7L191.7,484.8L195.4,483.9L198.3,483.2L201.4,482.4L204.6,481.6L208.0,480.7L211.3,479.9L214.7,479.1L218.0,478.4L221.3,477.6L224.6,476.9L228.0,476.2L231.3,475.6L234.5,474.9L237.6,474.3L240.5,473.7L244.1,473.0L247.2,472.4L250.2,471.9L253.3,471.3L256.8,470.6L259.6,470.1L262.6,469.6L265.7,469.0L268.8,468.4L272.0,467.9L275.1,467.3L278.0,466.7L281.6,465.9L285.2,465.2L288.8,464.4L292.3,463.7L295.4,462.9L298.0,462.3L301.7,461.3L304.0,460.5L306.7,459.4L309.2,458.2L311.9,456.9L314.9,455.3L318.1,453.7L320.8,452.2L323.7,450.5L326.9,448.6L330.4,446.8L334.1,445.1L337.3,443.9L340.5,442.8L343.8,441.8L346.9,440.9L350.0,440.0L353.1,439.2L356.3,438.3L359.5,437.4L362.6,436.7L365.4,435.9L367.9,435.1L370.1,434.3L372.6,433.1L374.7,431.8L376.9,430.3L379.2,428.6L381.8,426.6L384.1,424.7L386.5,422.7L389.0,420.4L391.6,418.1L394.1,415.8L396.5,413.6L399.1,411.2L401.6,408.9L404.0,406.7L406.3,404.5L408.7,402.2L410.8,400.2L412.8,398.1L414.8,396.1L416.9,394.0L419.0,391.8L421.1,389.5L423.4,387.2L425.6,384.8L427.9,382.4L430.2,379.9L432.5,377.4L434.8,374.9L437.1,372.3L439.4,369.8L441.7,367.3L443.9,364.8L446.1,362.3L448.0,360.0L449.8,357.6L451.4,355.3L453.1,352.9L454.7,350.4L456.4,347.8L458.2,345.3L460.0,342.8L461.8,340.3L463.6,337.8L465.4,335.4L467.2,333.0L469.0,330.5L470.8,328.1L472.6,325.6L474.4,323.1L476.2,320.6L478.0,318.2L479.8,315.7L481.7,313.2L483.6,310.6L485.5,308.1L487.3,305.6L489.1,303.3L490.6,301.1L492.7,298.3L494.4,295.9L496.1,293.6L497.8,291.2L508.2,298.8L506.5,301.1L504.8,303.4L503.0,305.9L501.0,308.7L499.4,310.9L497.6,313.2L495.8,315.7L493.9,318.3L492.0,320.8L490.2,323.3L488.4,325.7L486.6,328.2L484.8,330.7L483.0,333.1L481.2,335.6L479.4,338.1L477.6,340.5L475.8,343.0L474.0,345.5L472.3,347.9L470.5,350.3L468.8,352.7L467.2,355.1L465.7,357.5L464.1,360.0L462.4,362.6L460.6,365.3L458.6,368.0L456.5,370.8L454.3,373.5L452.0,376.2L449.7,378.9L447.5,381.5L445.2,384.1L443.0,386.7L440.8,389.3L438.5,391.9L436.3,394.5L434.0,397.0L431.9,399.5L429.7,401.8L427.6,404.1L425.5,406.3L423.4,408.5L421.4,410.7L419.3,412.8L416.8,415.3L414.4,417.7L411.9,420.0L409.4,422.4L406.7,424.8L404.3,427.0L401.8,429.3L399.1,431.7L396.4,434.1L393.6,436.4L391.0,438.4L388.1,440.5L385.4,442.5L382.5,444.4L379.3,446.1L375.9,447.7L372.6,448.9L369.3,449.9L366.0,450.7L362.9,451.4L359.8,452.1L356.9,452.8L353.9,453.7L350.7,454.5L347.7,455.4L344.8,456.2L342.0,457.1L339.5,458.1L336.6,459.4L333.7,460.9L330.7,462.6L327.7,464.3L324.9,465.9L321.7,467.8L318.7,469.5L315.8,471.1L312.9,472.6L309.5,474.2L306.2,475.4L302.0,476.7L299.1,477.5L295.8,478.4L292.2,479.2L288.5,480.1L284.8,480.9L281.2,481.7L278.0,482.4L274.8,483.0L271.6,483.6L268.4,484.2L265.3,484.7L262.4,485.3L259.6,485.8L256.1,486.4L253.0,486.9L250.0,487.5L246.9,488.0L243.3,488.7L240.5,489.2L237.4,489.8L234.2,490.4L231.0,491.0L227.7,491.7L224.4,492.3L221.2,493.0L218.1,493.7L214.8,494.5L211.5,495.3L208.3,496.1L205.1,496.9L202.1,497.7L199.2,498.5L195.5,499.5L192.1,500.4L189.1,501.3L186.2,502.3L183.3,503.3L180.4,504.5L177.5,505.9L174.6,507.3L171.7,508.8L168.8,510.3L165.9,511.9L163.0,513.6L160.2,515.3L157.3,517.1L154.5,518.9L151.8,520.7L149.0,522.5L146.3,524.4L143.7,526.2L141.2,528.0L138.3,530.1L135.7,532.0L133.1,534.0L130.6,535.9L128.2,537.9L125.8,539.9L123.4,542.0L121.0,544.0L118.8,546.0L116.6,547.9L114.4,549.9L112.2,551.9Z" fill="#fbc465"/><path d="M107.9,547.1L110.1,545.1L112.3,543.1L114.5,541.1L116.8,539.1L119.2,537.0L121.6,535.0L124.1,532.9L126.7,530.9L129.3,528.9L131.9,526.9L134.7,524.9L137.6,522.8L140.2,521.1L142.9,519.2L145.7,517.4L148.5,515.5L151.4,513.7L154.2,511.9L157.2,510.2L160.1,508.5L163.1,506.8L166.1,505.2L169.1,503.7L172.2,502.2L175.2,500.8L178.3,499.4L181.4,498.2L184.5,497.1L187.6,496.2L190.8,495.3L194.2,494.4L197.9,493.4L200.8,492.6L203.8,491.8L207.0,491.0L210.3,490.2L213.6,489.4L216.9,488.6L220.1,487.9L223.3,487.2L226.6,486.5L229.9,485.8L233.2,485.2L236.4,484.6L239.5,484.0L242.3,483.4L245.9,482.8L249.0,482.2L252.0,481.7L255.1,481.1L258.6,480.5L261.4,480.0L264.4,479.4L267.5,478.9L270.6,478.3L273.8,477.7L277.0,477.1L280.1,476.5L283.7,475.7L287.4,474.9L291.0,474.0L294.5,473.2L297.8,472.4L300.6,471.7L304.7,470.5L307.6,469.4L310.7,468.0L313.5,466.6L316.3,465.1L319.3,463.4L322.5,461.6L325.3,460.1L328.3,458.4L331.3,456.6L334.4,455.0L337.6,453.5L340.4,452.5L343.3,451.5L346.3,450.6L349.4,449.8L352.5,448.9L355.6,448.1L358.6,447.2L361.7,446.5L364.8,445.8L367.9,445.0L371.0,444.1L373.9,443.0L377.0,441.6L379.8,440.0L382.4,438.2L385.0,436.4L387.8,434.3L390.3,432.3L392.9,430.1L395.6,427.7L398.2,425.4L400.7,423.1L403.1,420.9L405.8,418.5L408.3,416.1L410.7,413.8L413.1,411.5L415.6,409.1L417.7,407.0L419.7,404.9L421.8,402.7L423.9,400.5L426.0,398.3L428.1,396.0L430.3,393.6L432.5,391.1L434.8,388.6L437.1,386.0L439.3,383.5L441.6,380.9L443.8,378.3L446.1,375.7L448.4,373.1L450.7,370.5L452.8,367.8L454.9,365.2L456.8,362.6L458.6,360.1L460.2,357.5L461.8,355.0L463.4,352.6L465.1,350.1L466.8,347.7L468.6,345.2L470.4,342.8L472.2,340.3L474.0,337.9L475.8,335.4L477.5,333.0L479.3,330.5L481.1,328.0L482.9,325.6L484.7,323.1L486.5,320.6L488.4,318.1L490.3,315.6L492.2,313.0L494.0,310.6L495.8,308.2L497.3,306.0L499.4,303.2L501.2,300.8L502.8,298.5L504.6,296.1L508.2,298.8L506.5,301.1L504.8,303.4L503.0,305.9L501.0,308.7L499.4,310.9L497.6,313.2L495.8,315.7L493.9,318.3L492.0,320.8L490.2,323.3L488.4,325.7L486.6,328.2L484.8,330.7L483.0,333.1L481.2,335.6L479.4,338.1L477.6,340.5L475.8,343.0L474.0,345.5L472.3,347.9L470.5,350.3L468.8,352.7L467.2,355.1L465.7,357.5L464.1,360.0L462.4,362.6L460.6,365.3L458.6,368.0L456.5,370.8L454.3,373.5L452.0,376.2L449.7,378.9L447.5,381.5L445.2,384.1L443.0,386.7L440.8,389.3L438.5,391.9L436.3,394.5L434.0,397.0L431.9,399.5L429.7,401.8L427.6,404.1L425.5,406.3L423.4,408.5L421.4,410.7L419.3,412.8L416.8,415.3L414.4,417.7L411.9,420.0L409.4,422.4L406.7,424.8L404.3,427.0L401.8,429.3L399.1,431.7L396.4,434.1L393.6,436.4L391.0,438.4L388.1,440.5L385.4,442.5L382.5,444.4L379.3,446.1L375.9,447.7L372.6,448.9L369.3,449.9L366.0,450.7L362.9,451.4L359.8,452.1L356.9,452.8L353.9,453.7L350.7,454.5L347.7,455.4L344.8,456.2L342.0,457.1L339.5,458.1L336.6,459.4L333.7,460.9L330.7,462.6L327.7,464.3L324.9,465.9L321.7,467.8L318.7,469.5L315.8,471.1L312.9,472.6L309.5,474.2L306.2,475.4L302.0,476.7L299.1,477.5L295.8,478.4L292.2,479.2L288.5,480.1L284.8,480.9L281.2,481.7L278.0,482.4L274.8,483.0L271.6,483.6L268.4,484.2L265.3,484.7L262.4,485.3L259.6,485.8L256.1,486.4L253.0,486.9L250.0,487.5L246.9,488.0L243.3,488.7L240.5,489.2L237.4,489.8L234.2,490.4L231.0,491.0L227.7,491.7L224.4,492.3L221.2,493.0L218.1,493.7L214.8,494.5L211.5,495.3L208.3,496.1L205.1,496.9L202.1,497.7L199.2,498.5L195.5,499.5L192.1,500.4L189.1,501.3L186.2,502.3L183.3,503.3L180.4,504.5L177.5,505.9L174.6,507.3L171.7,508.8L168.8,510.3L165.9,511.9L163.0,513.6L160.2,515.3L157.3,517.1L154.5,518.9L151.8,520.7L149.0,522.5L146.3,524.4L143.7,526.2L141.2,528.0L138.3,530.1L135.7,532.0L133.1,534.0L130.6,535.9L128.2,537.9L125.8,539.9L123.4,542.0L121.0,544.0L118.8,546.0L116.6,547.9L114.4,549.9L112.2,551.9Z" fill="#f4a840"/><path d="M99.8,538.1L102.0,536.1L104.3,534.1L106.6,532.1L109.0,530.0L111.4,527.9L114.0,525.8L116.6,523.6L119.4,521.5L122.1,519.4L125.0,517.4L127.9,515.3L131.0,513.2L133.7,511.4L136.5,509.6L139.4,507.8L142.4,505.9L145.5,504.1L148.5,502.4L151.6,500.6L154.8,498.9L158.0,497.3L161.2,495.7L164.5,494.1L167.7,492.7L171.0,491.3L174.4,489.9L177.9,488.7L181.4,487.5L184.8,486.6L188.2,485.7L191.7,484.8L195.4,483.9L198.3,483.2L201.4,482.4L204.6,481.6L208.0,480.7L211.3,479.9L214.7,479.1L218.0,478.4L221.3,477.6L224.6,476.9L228.0,476.2L231.3,475.6L234.5,474.9L237.6,474.3L240.5,473.7L244.1,473.0L247.2,472.4L250.2,471.9L253.3,471.3L256.8,470.6L259.6,470.1L262.6,469.6L265.7,469.0L268.8,468.4L272.0,467.9L275.1,467.3L278.0,466.7L281.6,465.9L285.2,465.2L288.8,464.4L292.3,463.7L295.4,462.9L298.0,462.3L301.7,461.3L304.0,460.5L306.7,459.4L309.2,458.2L311.9,456.9L314.9,455.3L318.1,453.7L320.8,452.2L323.7,450.5L326.9,448.6L330.4,446.8L334.1,445.1L337.3,443.9L340.5,442.8L343.8,441.8L346.9,440.9L350.0,440.0L353.1,439.2L356.3,438.3L359.5,437.4L362.6,436.7L365.4,435.9L367.9,435.1L370.1,434.3L372.6,433.1L374.7,431.8L376.9,430.3L379.2,428.6L381.8,426.6L384.1,424.7L386.5,422.7L389.0,420.4L391.6,418.1L394.1,415.8L396.5,413.6L399.1,411.2L401.6,408.9L404.0,406.7L406.3,404.5L408.7,402.2L410.8,400.2L412.8,398.1L414.8,396.1L416.9,394.0L419.0,391.8L421.1,389.5L423.4,387.2L425.6,384.8L427.9,382.4L430.2,379.9L432.5,377.4L434.8,374.9L437.1,372.3L439.4,369.8L441.7,367.3L443.9,364.8L446.1,362.3L448.0,360.0L449.8,357.6L451.4,355.3L453.1,352.9L454.7,350.4L456.4,347.8L458.2,345.3L460.0,342.8L461.8,340.3L463.6,337.8L465.4,335.4L467.2,333.0L469.0,330.5L470.8,328.1L472.6,325.6L474.4,323.1L476.2,320.6L478.0,318.2L479.8,315.7L481.7,313.2L483.6,310.6L485.5,308.1L487.3,305.6L489.1,303.3L490.6,301.1L492.7,298.3L494.4,295.9L496.1,293.6L497.8,291.2L498.6,291.8L496.9,294.2L495.3,296.5L493.5,298.9L491.5,301.7L489.9,303.9L488.1,306.2L486.3,308.7L484.4,311.2L482.5,313.8L480.7,316.3L478.9,318.8L477.1,321.3L475.2,323.7L473.4,326.2L471.6,328.7L469.9,331.1L468.1,333.6L466.3,336.0L464.4,338.4L462.6,340.9L460.8,343.4L459.0,345.9L457.3,348.4L455.6,351.0L453.9,353.4L452.3,355.8L450.6,358.2L448.9,360.6L446.9,363.0L444.8,365.5L442.5,368.0L440.2,370.5L437.9,373.1L435.6,375.6L433.3,378.1L431.0,380.6L428.7,383.1L426.5,385.6L424.2,388.0L422.0,390.3L419.9,392.6L417.8,394.8L415.7,396.9L413.6,399.0L411.6,401.0L409.6,403.0L407.2,405.4L404.8,407.6L402.4,409.8L400.0,412.1L397.3,414.5L394.9,416.7L392.4,419.0L389.8,421.3L387.3,423.6L384.9,425.7L382.5,427.5L379.9,429.5L377.6,431.3L375.4,432.8L373.1,434.1L370.6,435.4L368.3,436.2L365.7,437.0L362.9,437.8L359.8,438.6L356.6,439.4L353.4,440.3L350.3,441.1L347.2,442.0L344.1,442.9L340.9,443.9L337.7,445.0L334.5,446.2L330.9,447.8L327.5,449.6L324.3,451.4L321.4,453.1L318.7,454.6L315.4,456.3L312.4,457.9L309.7,459.3L307.2,460.4L304.5,461.6L302.1,462.4L298.3,463.4L295.7,464.1L292.6,464.8L289.1,465.6L285.5,466.4L281.8,467.1L278.3,467.9L275.3,468.5L272.2,469.1L269.1,469.7L265.9,470.2L262.8,470.8L259.8,471.3L257.0,471.8L253.6,472.5L250.5,473.1L247.5,473.6L244.3,474.2L240.7,474.9L237.8,475.5L234.8,476.1L231.5,476.7L228.2,477.4L224.9,478.1L221.5,478.8L218.2,479.6L214.9,480.3L211.6,481.1L208.2,481.9L204.9,482.7L201.7,483.5L198.6,484.3L195.7,485.1L192.0,486.0L188.5,486.9L185.1,487.8L181.8,488.7L178.4,489.8L174.9,491.1L171.6,492.4L168.3,493.8L165.0,495.3L161.8,496.8L158.6,498.4L155.5,500.1L152.3,501.8L149.2,503.6L146.2,505.3L143.2,507.1L140.2,509.0L137.3,510.8L134.5,512.6L131.8,514.4L128.7,516.5L125.8,518.5L123.0,520.6L120.3,522.6L117.5,524.8L114.9,526.9L112.4,529.0L109.9,531.1L107.5,533.2L105.3,535.2L103.0,537.2L100.8,539.2Z" fill="#f6ae48"/><path d="M112.8,526.7L124.7,540.8L126.3,539.4L114.6,525.3ZM131.2,513.1L141.4,527.9L143.1,526.6L133.0,511.8ZM150.5,501.3L159.1,516.0L160.9,514.9L152.4,500.2ZM171.1,491.3L177.5,505.9L179.4,505.0L173.3,490.4ZM193.2,484.5L197.1,499.1L199.2,498.5L195.4,484.0ZM214.8,479.1L218.2,493.7L220.3,493.2L216.9,478.6ZM236.5,474.5L239.4,489.4L241.6,489.0L238.7,474.1ZM258.2,470.4L261.0,485.5L263.1,485.1L260.4,470.0ZM279.6,466.3L282.8,481.4L284.9,480.9L281.7,465.9ZM300.4,461.6L304.7,475.9L307.0,475.1L302.3,461.1ZM318.9,453.2L325.7,465.5L327.7,464.3L320.8,452.2ZM339.9,443.0L344.2,456.4L346.2,455.8L342.1,442.3ZM361.5,437.0L364.9,450.9L367.1,450.4L363.6,436.4ZM378.7,429.0L387.5,441.0L389.3,439.6L380.3,427.7ZM394.7,415.2L404.9,426.4L406.6,424.9L396.3,413.7ZM410.5,400.4L421.1,411.0L422.6,409.4L412.0,398.9ZM425.5,384.9L436.2,394.6L437.7,392.9L427.0,383.3ZM440.3,368.8L450.6,377.8L452.1,376.1L441.8,367.2ZM453.4,352.4L464.4,359.5L465.6,357.7L454.6,350.5ZM466.3,334.2L476.7,341.8L478.0,340.0L467.6,332.4ZM479.3,316.4L489.6,324.0L490.9,322.2L480.6,314.7ZM492.4,298.8L502.7,306.3L504.0,304.5L493.6,297.0Z" fill="#c9a46c"/><path d="M114.4,525.4L126.2,539.6L129.1,537.1L117.7,522.8ZM132.9,512.0L143.0,526.8L146.2,524.5L136.3,509.7ZM152.3,500.3L160.7,515.0L164.0,513.0L155.9,498.3ZM173.1,490.5L179.2,505.1L182.6,503.6L177.1,489.0ZM195.2,484.0L199.0,498.5L202.8,497.5L199.1,483.0ZM216.7,478.7L220.1,493.3L223.9,492.4L220.7,477.8ZM238.5,474.1L241.4,489.0L245.3,488.3L242.4,473.3ZM260.2,470.0L262.9,485.2L266.9,484.5L264.1,469.3ZM281.5,466.0L284.7,481.0L288.7,480.1L285.4,465.2ZM302.1,461.1L306.8,475.2L311.1,473.5L305.3,460.0ZM320.6,452.3L327.5,464.4L331.0,462.4L324.1,450.3ZM341.9,442.4L346.0,455.9L349.7,454.8L345.9,441.2ZM363.4,436.5L366.9,450.5L371.2,449.3L366.9,435.5ZM380.2,427.8L389.2,439.8L392.5,437.2L383.1,425.5ZM396.2,413.9L406.4,425.1L409.4,422.4L399.1,411.2ZM411.9,399.1L422.5,409.5L425.3,406.5L414.6,396.3ZM426.9,383.4L437.5,393.1L440.2,390.0L429.6,380.5ZM441.7,367.3L451.9,376.3L454.6,373.1L444.2,364.4ZM454.5,350.7L465.5,357.9L467.6,354.6L456.8,347.3ZM467.5,332.6L477.9,340.1L480.2,336.9L469.9,329.4ZM480.5,314.8L490.8,322.4L493.2,319.2L482.9,311.6ZM493.5,297.2L503.9,304.7L506.2,301.4L495.9,293.9Z" fill="#7a5214"/><path d="M100.8,539.2L103.0,537.2L105.3,535.2L107.5,533.2L109.9,531.1L112.4,529.0L114.9,526.9L117.5,524.8L120.3,522.6L123.0,520.6L125.8,518.5L128.7,516.5L131.8,514.4L134.5,512.6L137.3,510.8L140.2,509.0L143.2,507.1L146.2,505.3L149.2,503.6L152.3,501.8L155.5,500.1L158.6,498.4L161.8,496.8L165.0,495.3L168.3,493.8L171.6,492.4L174.9,491.1L178.4,489.8L181.8,488.7L185.1,487.8L188.5,486.9L192.0,486.0L195.7,485.1L198.6,484.3L201.7,483.5L204.9,482.7L208.2,481.9L211.6,481.1L214.9,480.3L218.2,479.6L221.5,478.8L224.9,478.1L228.2,477.4L231.5,476.7L234.8,476.1L237.8,475.5L240.7,474.9L244.3,474.2L247.5,473.6L250.5,473.1L253.6,472.5L257.0,471.8L259.8,471.3L262.8,470.8L265.9,470.2L269.1,469.7L272.2,469.1L275.3,468.5L278.3,467.9L281.8,467.1L285.5,466.4L289.1,465.6L292.6,464.8L295.7,464.1L298.3,463.4L302.1,462.4L304.5,461.6L307.2,460.4L309.7,459.3L312.4,457.9L315.4,456.3L318.7,454.6L321.4,453.1L324.3,451.4L327.5,449.6L330.9,447.8L334.5,446.2L337.7,445.0L340.9,443.9L344.1,442.9L347.2,442.0L350.3,441.1L353.4,440.3L356.6,439.4L359.8,438.6L362.9,437.8L365.7,437.0L368.3,436.2L370.6,435.4L373.1,434.1L375.4,432.8L377.6,431.3L379.9,429.5L382.5,427.5L384.9,425.7L387.3,423.6L389.8,421.3L392.4,419.0L394.9,416.7L397.3,414.5L400.0,412.1L402.4,409.8L404.8,407.6L407.2,405.4L409.6,403.0L411.6,401.0L413.6,399.0L415.7,396.9L417.8,394.8L419.9,392.6L422.0,390.3L424.2,388.0L426.5,385.6L428.7,383.1L431.0,380.6L433.3,378.1L435.6,375.6L437.9,373.1L440.2,370.5L442.5,368.0L444.8,365.5L446.9,363.0L448.9,360.6L450.6,358.2L452.3,355.8L453.9,353.4L455.6,351.0L457.3,348.4L459.0,345.9L460.8,343.4L462.6,340.9L464.4,338.4L466.3,336.0L468.1,333.6L469.9,331.1L471.6,328.7L473.4,326.2L475.2,323.7L477.1,321.3L478.9,318.8L480.7,316.3L482.5,313.8L484.4,311.2L486.3,308.7L488.1,306.2L489.9,303.9L491.5,301.7L493.5,298.9L495.3,296.5L496.9,294.2L498.6,291.8L501.4,293.9L499.7,296.2L498.1,298.5L496.3,301.0L494.3,303.8L492.7,305.9L490.9,308.3L489.1,310.7L487.2,313.3L485.3,315.9L483.5,318.4L481.6,320.8L479.8,323.3L478.0,325.8L476.2,328.2L474.4,330.7L472.6,333.2L470.9,335.6L469.1,338.1L467.3,340.5L465.5,342.9L463.7,345.4L461.9,347.9L460.2,350.4L458.5,352.9L456.9,355.4L455.3,357.8L453.6,360.3L451.7,362.8L449.7,365.3L447.6,367.8L445.3,370.4L443.0,373.0L440.7,375.6L438.4,378.1L436.2,380.7L433.9,383.2L431.6,385.7L429.3,388.2L427.1,390.7L424.9,393.0L422.8,395.3L420.7,397.5L418.6,399.7L416.5,401.8L414.5,403.9L412.4,405.9L410.0,408.3L407.6,410.6L405.2,412.8L402.7,415.1L400.1,417.5L397.7,419.7L395.1,422.0L392.6,424.4L390.0,426.7L387.4,428.8L385.0,430.7L382.3,432.8L379.9,434.6L377.4,436.2L374.9,437.6L372.1,439.0L369.6,440.0L366.8,440.8L363.8,441.6L360.7,442.3L357.5,443.1L354.4,443.9L351.4,444.8L348.3,445.7L345.1,446.6L342.0,447.5L339.0,448.5L336.0,449.7L332.6,451.2L329.3,452.9L326.2,454.7L323.2,456.4L320.5,458.0L317.3,459.7L314.3,461.3L311.5,462.8L308.9,464.0L306.0,465.3L303.3,466.2L299.4,467.3L296.7,468.0L293.5,468.8L290.0,469.6L286.4,470.4L282.7,471.2L279.1,471.9L276.1,472.6L273.0,473.2L269.8,473.7L266.7,474.3L263.6,474.9L260.6,475.4L257.8,475.9L254.3,476.6L251.2,477.1L248.2,477.7L245.0,478.3L241.5,479.0L238.6,479.5L235.5,480.1L232.3,480.7L229.0,481.4L225.7,482.1L222.4,482.8L219.1,483.5L215.9,484.2L212.5,485.0L209.2,485.8L205.9,486.7L202.7,487.5L199.6,488.3L196.7,489.0L193.0,490.0L189.6,490.9L186.3,491.7L183.1,492.7L179.8,493.8L176.5,495.0L173.3,496.4L170.1,497.8L167.0,499.3L163.9,500.8L160.8,502.4L157.7,504.1L154.6,505.8L151.6,507.5L148.6,509.3L145.7,511.1L142.8,512.9L139.9,514.8L137.2,516.6L134.6,518.4L131.5,520.5L128.7,522.5L126.0,524.5L123.3,526.5L120.7,528.6L118.1,530.7L115.6,532.8L113.2,534.9L110.8,536.9L108.6,539.0L106.4,540.9L104.1,542.9Z" fill="#fee2a4" fill-opacity="0.6"/></g>
<g><path d="M275.0,144.6L275.5,147.9L276.0,151.1L276.5,154.0L277.2,157.2L277.9,159.6L278.8,162.4L279.9,165.4L281.0,168.6L282.1,171.7L283.0,174.8L284.1,178.7L284.9,182.2L285.6,185.4L286.2,188.5L286.7,192.2L287.1,195.6L287.3,199.1L287.4,202.3L287.5,205.6L287.5,208.9L287.5,211.9L287.6,215.5L287.6,219.2L287.5,223.4L287.3,226.5L287.0,229.8L286.7,233.1L286.4,236.3L286.0,239.2L285.4,243.0L284.8,246.2L284.1,249.4L283.2,253.1L282.1,257.3L280.6,261.8L278.7,265.9L276.4,270.0L273.5,274.0L271.2,276.8L268.8,279.3L266.4,281.7L263.9,284.0L261.5,286.4L259.0,288.7L256.5,291.2L253.9,293.6L251.3,296.0L248.7,298.4L246.1,300.8L243.4,303.3L240.7,305.8L238.2,308.1L235.8,310.4L233.0,313.1L230.3,315.6L227.8,318.1L225.3,320.5L223.0,322.8L220.8,324.8L219.0,326.6L217.5,328.3L215.5,330.8L213.8,333.4L212.2,336.2L211.0,338.5L209.8,341.0L208.8,343.6L207.9,345.9L207.1,348.5L206.7,350.6L206.4,352.9L206.2,355.5L206.2,358.3L206.4,361.4L206.6,364.0L206.9,366.5L207.6,370.7L208.1,373.1L208.8,376.3L209.5,379.7L210.3,383.3L211.1,386.8L211.8,390.1L212.3,392.9L213.2,397.3L213.7,400.7L214.1,404.1L214.4,407.9L214.7,412.3L214.5,417.3L214.1,420.9L213.6,424.5L212.9,428.2L212.1,432.1L211.0,435.9L210.0,439.1L209.0,442.2L207.8,445.2L206.5,448.2L205.2,451.2L203.8,454.1L202.3,457.2L200.7,460.3L199.0,463.3L197.3,466.3L195.7,469.1L194.2,471.6L192.1,475.0L190.1,477.9L188.3,480.6L186.4,483.3L184.4,486.1L182.4,488.8L180.4,491.4L178.4,494.0L175.9,497.3L173.5,500.4L171.4,503.4L169.5,505.9L168.2,507.9L166.8,510.5L165.8,512.6L164.8,515.2L163.7,518.0L162.8,520.8L162.0,523.6L161.4,526.4L160.9,529.4L160.5,532.6L160.1,535.8L159.9,538.9L159.7,541.8L159.7,544.7L159.7,547.7L159.7,550.7L159.7,553.8L159.7,557.5L159.7,561.0L159.7,564.5L159.7,568.0L141.5,568.0L141.5,564.5L141.5,561.0L141.5,557.4L141.5,553.8L141.5,550.8L141.5,547.8L141.5,544.5L141.5,541.1L141.7,537.5L142.0,534.0L142.4,530.4L142.9,526.7L143.6,522.9L144.4,519.2L145.4,515.6L146.6,512.0L147.8,508.6L149.1,505.5L150.4,502.5L152.5,498.6L154.6,495.4L156.6,492.6L159.0,489.5L161.5,486.2L164.0,483.0L165.9,480.5L167.8,477.9L169.7,475.3L171.6,472.7L173.4,470.2L175.1,467.7L176.8,465.2L178.6,462.2L180.0,459.8L181.5,457.2L183.1,454.5L184.6,451.7L186.1,448.9L187.4,446.3L188.6,443.6L189.8,441.0L190.9,438.4L191.9,435.8L192.8,433.3L193.6,430.9L194.4,427.8L195.0,424.7L195.6,421.6L196.0,418.6L196.3,416.1L196.5,412.4L196.3,409.3L195.9,405.9L195.6,403.1L195.2,400.5L194.5,396.3L194.0,393.8L193.3,390.7L192.5,387.2L191.8,383.6L191.0,380.0L190.3,376.8L189.8,373.9L188.9,369.4L188.5,365.9L188.2,362.6L188.0,358.9L188.0,355.0L188.2,351.1L188.8,347.4L189.5,343.8L190.7,340.1L191.8,337.0L193.1,333.8L194.6,330.6L196.2,327.4L198.4,323.7L200.8,320.1L203.5,316.7L205.8,314.1L208.2,311.8L210.4,309.6L212.7,307.5L215.1,305.1L217.6,302.6L220.3,300.0L223.2,297.2L225.7,294.9L228.3,292.4L231.0,289.9L233.7,287.5L236.3,285.0L238.9,282.6L241.5,280.2L244.0,277.9L246.5,275.5L248.9,273.2L251.3,270.9L253.7,268.7L255.8,266.5L257.7,264.6L259.1,263.0L261.0,260.2L262.4,257.7L263.6,255.0L264.7,252.1L265.5,248.7L266.3,245.2L267.0,242.3L267.5,239.9L268.0,236.8L268.3,234.3L268.6,231.3L268.9,228.2L269.1,225.2L269.3,222.6L269.4,219.0L269.4,215.8L269.3,212.1L269.3,209.0L269.3,205.8L269.2,202.8L269.1,200.1L268.9,197.0L268.7,194.5L268.2,191.5L267.7,188.9L267.2,186.1L266.5,183.2L265.6,179.8L264.8,177.4L263.8,174.6L262.7,171.5L261.6,168.2L260.5,165.0L259.6,161.8L258.6,157.6L258.0,153.9L257.5,150.6L257.0,147.4Z" fill="#2f62ad" fill-opacity="0.28" transform="translate(2.2,2.4)"/><path d="M274.8,144.6L275.3,147.9L275.8,151.1L276.3,154.1L277.0,157.3L277.7,159.6L278.6,162.4L279.7,165.5L280.8,168.7L281.9,171.8L282.8,174.8L283.9,178.7L284.7,182.2L285.4,185.5L286.0,188.5L286.5,192.2L286.9,195.6L287.1,199.2L287.2,202.3L287.3,205.6L287.3,208.9L287.3,211.9L287.4,215.5L287.4,219.2L287.3,223.4L287.1,226.5L286.8,229.8L286.5,233.1L286.2,236.3L285.8,239.2L285.2,243.0L284.6,246.2L283.9,249.3L283.0,253.0L281.9,257.3L280.4,261.7L278.5,265.8L276.2,269.9L273.4,273.9L271.0,276.6L268.7,279.1L266.2,281.6L263.8,283.9L261.4,286.2L258.9,288.6L256.3,291.0L253.7,293.4L251.1,295.8L248.6,298.2L245.9,300.7L243.2,303.1L240.6,305.6L238.0,308.0L235.6,310.3L232.8,312.9L230.2,315.5L227.7,318.0L225.2,320.4L222.8,322.7L220.7,324.7L218.9,326.5L217.4,328.2L215.4,330.7L213.6,333.3L212.0,336.1L210.8,338.4L209.6,341.0L208.6,343.5L207.7,345.8L206.9,348.4L206.5,350.6L206.2,352.9L206.0,355.5L206.0,358.3L206.2,361.4L206.4,364.0L206.7,366.6L207.5,370.7L207.9,373.2L208.6,376.3L209.3,379.8L210.1,383.4L210.9,386.9L211.6,390.1L212.1,392.9L213.0,397.4L213.5,400.7L213.9,404.1L214.2,407.9L214.5,412.3L214.3,417.3L213.9,420.9L213.4,424.4L212.7,428.2L211.9,432.1L210.9,435.9L209.9,439.0L208.8,442.1L207.6,445.1L206.3,448.1L205.0,451.1L203.6,454.1L202.1,457.1L200.5,460.2L198.8,463.2L197.1,466.2L195.5,469.0L194.0,471.5L191.9,474.9L190.0,477.8L188.1,480.5L186.2,483.2L184.2,485.9L182.2,488.7L180.2,491.3L178.3,493.9L175.7,497.2L173.4,500.3L171.2,503.2L169.4,505.8L168.0,507.8L166.6,510.4L165.7,512.5L164.6,515.1L163.5,517.9L162.6,520.8L161.8,523.5L161.2,526.3L160.7,529.4L160.3,532.5L159.9,535.8L159.7,538.8L159.5,541.8L159.5,544.7L159.5,547.7L159.5,550.7L159.5,553.8L159.5,557.5L159.5,561.0L159.5,564.5L159.5,568.0L141.7,568.0L141.7,564.5L141.7,561.0L141.7,557.4L141.7,553.8L141.7,550.8L141.7,547.8L141.7,544.5L141.7,541.1L141.9,537.6L142.2,534.0L142.6,530.4L143.1,526.7L143.8,523.0L144.6,519.3L145.6,515.6L146.7,512.0L148.0,508.7L149.3,505.6L150.6,502.6L152.7,498.7L154.8,495.6L156.8,492.8L159.1,489.6L161.6,486.4L164.1,483.1L166.0,480.6L168.0,478.0L169.9,475.4L171.8,472.8L173.5,470.3L175.2,467.8L176.9,465.3L178.8,462.3L180.2,459.9L181.7,457.3L183.3,454.6L184.8,451.8L186.3,449.0L187.6,446.3L188.8,443.7L190.0,441.1L191.1,438.5L192.1,435.9L193.0,433.4L193.7,430.9L194.6,427.9L195.2,424.7L195.8,421.6L196.2,418.6L196.5,416.1L196.7,412.4L196.5,409.3L196.1,405.9L195.8,403.0L195.4,400.4L194.7,396.3L194.1,393.7L193.5,390.6L192.7,387.1L191.9,383.5L191.2,380.0L190.5,376.7L189.9,373.9L189.1,369.4L188.7,365.9L188.4,362.6L188.2,358.9L188.2,355.0L188.4,351.1L188.9,347.4L189.7,343.9L190.9,340.2L192.0,337.1L193.3,333.9L194.8,330.6L196.4,327.5L198.6,323.8L201.0,320.2L203.6,316.8L206.0,314.2L208.3,311.9L210.5,309.8L212.8,307.6L215.2,305.3L217.8,302.7L220.5,300.1L223.4,297.3L225.9,295.0L228.5,292.6L231.2,290.1L233.8,287.6L236.4,285.2L239.0,282.8L241.6,280.4L244.2,278.0L246.6,275.7L249.0,273.4L251.4,271.1L253.8,268.8L256.0,266.7L257.8,264.7L259.2,263.1L261.2,260.3L262.6,257.8L263.8,255.1L264.9,252.1L265.7,248.8L266.5,245.3L267.2,242.4L267.7,239.9L268.2,236.8L268.5,234.3L268.8,231.3L269.1,228.2L269.3,225.2L269.5,222.6L269.6,219.0L269.6,215.8L269.5,212.1L269.5,209.0L269.5,205.8L269.4,202.8L269.3,200.0L269.1,197.0L268.9,194.4L268.4,191.5L267.9,188.9L267.4,186.1L266.7,183.1L265.8,179.8L265.0,177.4L264.0,174.5L262.9,171.4L261.8,168.2L260.7,164.9L259.8,161.7L258.8,157.6L258.2,153.9L257.7,150.6L257.2,147.4Z" fill="#a81c3c"/><path d="M274.2,144.7L274.7,148.0L275.2,151.2L275.7,154.2L276.4,157.4L277.1,159.8L278.1,162.6L279.1,165.7L280.3,168.9L281.3,172.0L282.3,175.0L283.3,178.8L284.2,182.4L284.8,185.6L285.4,188.6L285.9,192.3L286.3,195.7L286.5,199.2L286.6,202.3L286.7,205.6L286.7,208.9L286.7,211.9L286.8,215.5L286.8,219.2L286.7,223.4L286.5,226.4L286.2,229.7L285.9,233.0L285.6,236.2L285.2,239.1L284.7,242.9L284.0,246.1L283.3,249.2L282.4,252.9L281.3,257.1L279.8,261.5L278.0,265.5L275.7,269.5L272.9,273.5L270.6,276.2L268.2,278.7L265.8,281.1L263.4,283.5L261.0,285.8L258.5,288.2L255.9,290.6L253.3,293.0L250.7,295.4L248.2,297.8L245.5,300.2L242.8,302.7L240.2,305.2L237.6,307.6L235.2,309.8L232.4,312.5L229.8,315.1L227.2,317.5L224.8,320.0L222.4,322.2L220.3,324.3L218.4,326.1L216.9,327.8L214.9,330.4L213.1,333.0L211.5,335.8L210.3,338.1L209.1,340.7L208.0,343.3L207.2,345.6L206.4,348.2L205.9,350.5L205.6,352.8L205.4,355.5L205.4,358.4L205.6,361.5L205.8,364.1L206.1,366.7L206.9,370.8L207.4,373.3L208.0,376.4L208.8,379.9L209.5,383.5L210.3,387.0L211.0,390.2L211.5,393.0L212.4,397.5L212.9,400.8L213.3,404.2L213.6,408.0L213.9,412.3L213.7,417.3L213.3,420.8L212.8,424.3L212.1,428.1L211.3,431.9L210.3,435.7L209.3,438.8L208.2,441.9L207.0,444.9L205.8,447.9L204.5,450.8L203.1,453.8L201.6,456.8L200.0,459.9L198.3,463.0L196.6,465.9L195.0,468.6L193.5,471.2L191.4,474.5L189.5,477.5L187.6,480.2L185.8,482.8L183.8,485.6L181.7,488.3L179.7,491.0L177.8,493.5L175.3,496.8L172.9,499.9L170.7,502.9L168.9,505.4L167.5,507.5L166.0,510.2L165.1,512.3L164.0,514.9L163.0,517.7L162.0,520.6L161.3,523.4L160.6,526.2L160.1,529.3L159.7,532.5L159.4,535.7L159.1,538.8L158.9,541.7L158.9,544.7L158.9,547.7L158.9,550.7L158.9,553.8L158.9,557.5L158.9,561.0L158.9,564.5L158.9,568.0L142.3,568.0L142.3,564.5L142.3,561.0L142.3,557.4L142.3,553.8L142.3,550.8L142.3,547.8L142.3,544.5L142.3,541.1L142.5,537.6L142.8,534.1L143.2,530.5L143.7,526.8L144.3,523.1L145.1,519.4L146.1,515.8L147.3,512.2L148.6,508.9L149.8,505.8L151.2,502.8L153.2,499.0L155.3,495.9L157.3,493.1L159.6,489.9L162.1,486.7L164.6,483.5L166.5,481.0L168.4,478.4L170.4,475.8L172.2,473.2L174.0,470.6L175.7,468.2L177.4,465.6L179.3,462.6L180.7,460.2L182.2,457.6L183.8,454.9L185.3,452.1L186.8,449.3L188.1,446.6L189.4,444.0L190.5,441.3L191.6,438.7L192.6,436.1L193.6,433.6L194.3,431.1L195.1,428.0L195.8,424.9L196.4,421.7L196.8,418.7L197.1,416.1L197.3,412.4L197.1,409.3L196.7,405.8L196.4,402.9L196.0,400.3L195.3,396.2L194.7,393.6L194.1,390.5L193.3,387.0L192.5,383.4L191.8,379.9L191.1,376.6L190.5,373.8L189.7,369.3L189.3,365.8L189.0,362.5L188.8,358.9L188.8,355.0L189.0,351.2L189.5,347.6L190.3,344.0L191.4,340.4L192.6,337.3L193.9,334.1L195.3,330.9L196.9,327.8L199.1,324.1L201.5,320.6L204.1,317.2L206.4,314.6L208.7,312.3L211.0,310.2L213.2,308.0L215.6,305.7L218.2,303.2L220.9,300.5L223.8,297.8L226.3,295.4L228.9,293.0L231.6,290.5L234.2,288.1L236.8,285.6L239.4,283.2L242.0,280.8L244.6,278.4L247.0,276.1L249.4,273.8L251.9,271.5L254.2,269.2L256.4,267.1L258.3,265.1L259.7,263.5L261.7,260.6L263.2,258.1L264.4,255.3L265.4,252.3L266.3,248.9L267.1,245.4L267.8,242.5L268.3,240.0L268.8,236.9L269.1,234.4L269.4,231.4L269.7,228.3L269.9,225.2L270.1,222.6L270.2,219.0L270.2,215.8L270.1,212.1L270.1,209.0L270.1,205.8L270.0,202.8L269.9,200.0L269.7,197.0L269.5,194.4L269.0,191.4L268.5,188.8L268.0,186.0L267.2,183.0L266.3,179.6L265.6,177.2L264.6,174.3L263.5,171.2L262.4,168.0L261.3,164.8L260.4,161.6L259.4,157.5L258.8,153.8L258.3,150.5L257.8,147.3Z" fill="#dd2b4c"/><path d="M274.2,144.7L274.7,148.0L275.2,151.2L275.7,154.2L276.4,157.4L277.1,159.8L278.1,162.6L279.1,165.7L280.3,168.9L281.3,172.0L282.3,175.0L283.3,178.8L284.2,182.4L284.8,185.6L285.4,188.6L285.9,192.3L286.3,195.7L286.5,199.2L286.6,202.3L286.7,205.6L286.7,208.9L286.7,211.9L286.8,215.5L286.8,219.2L286.7,223.4L286.5,226.4L286.2,229.7L285.9,233.0L285.6,236.2L285.2,239.1L284.7,242.9L284.0,246.1L283.3,249.2L282.4,252.9L281.3,257.1L279.8,261.5L278.0,265.5L275.7,269.5L272.9,273.5L270.6,276.2L268.2,278.7L265.8,281.1L263.4,283.5L261.0,285.8L258.5,288.2L255.9,290.6L253.3,293.0L250.7,295.4L248.2,297.8L245.5,300.2L242.8,302.7L240.2,305.2L237.6,307.6L235.2,309.8L232.4,312.5L229.8,315.1L227.2,317.5L224.8,320.0L222.4,322.2L220.3,324.3L218.4,326.1L216.9,327.8L214.9,330.4L213.1,333.0L211.5,335.8L210.3,338.1L209.1,340.7L208.0,343.3L207.2,345.6L206.4,348.2L205.9,350.5L205.6,352.8L205.4,355.5L205.4,358.4L205.6,361.5L205.8,364.1L206.1,366.7L206.9,370.8L207.4,373.3L208.0,376.4L208.8,379.9L209.5,383.5L210.3,387.0L211.0,390.2L211.5,393.0L212.4,397.5L212.9,400.8L213.3,404.2L213.6,408.0L213.9,412.3L213.7,417.3L213.3,420.8L212.8,424.3L212.1,428.1L211.3,431.9L210.3,435.7L209.3,438.8L208.2,441.9L207.0,444.9L205.8,447.9L204.5,450.8L203.1,453.8L201.6,456.8L200.0,459.9L198.3,463.0L196.6,465.9L195.0,468.6L193.5,471.2L191.4,474.5L189.5,477.5L187.6,480.2L185.8,482.8L183.8,485.6L181.7,488.3L179.7,491.0L177.8,493.5L175.3,496.8L172.9,499.9L170.7,502.9L168.9,505.4L167.5,507.5L166.0,510.2L165.1,512.3L164.0,514.9L163.0,517.7L162.0,520.6L161.3,523.4L160.6,526.2L160.1,529.3L159.7,532.5L159.4,535.7L159.1,538.8L158.9,541.7L158.9,544.7L158.9,547.7L158.9,550.7L158.9,553.8L158.9,557.5L158.9,561.0L158.9,564.5L158.9,568.0L157.2,568.0L157.2,564.5L157.2,561.0L157.2,557.5L157.2,553.8L157.2,550.7L157.2,547.7L157.2,544.7L157.3,541.7L157.4,538.7L157.7,535.5L158.0,532.3L158.5,529.0L159.0,525.9L159.6,523.0L160.4,520.1L161.4,517.2L162.5,514.3L163.6,511.6L164.6,509.4L166.0,506.6L167.5,504.5L169.4,501.9L171.5,498.9L174.0,495.8L176.5,492.5L178.4,490.0L180.4,487.3L182.4,484.6L184.4,481.9L186.3,479.2L188.1,476.6L190.0,473.7L192.1,470.3L193.6,467.8L195.2,465.1L196.8,462.1L198.5,459.1L200.1,456.1L201.6,453.1L202.9,450.2L204.2,447.2L205.5,444.3L206.6,441.3L207.7,438.3L208.7,435.2L209.7,431.5L210.5,427.8L211.1,424.1L211.6,420.6L212.0,417.2L212.2,412.3L212.0,408.1L211.6,404.3L211.3,401.0L210.7,397.8L209.9,393.3L209.4,390.6L208.7,387.4L207.9,383.8L207.1,380.2L206.4,376.8L205.7,373.6L205.2,371.1L204.5,366.9L204.1,364.3L203.9,361.6L203.8,358.4L203.7,355.4L203.9,352.6L204.2,350.2L204.8,347.8L205.6,345.1L206.5,342.7L207.6,340.1L208.8,337.4L210.0,335.0L211.7,332.1L213.6,329.4L215.6,326.7L217.2,324.9L219.1,323.1L221.3,321.0L223.6,318.8L226.1,316.4L228.6,313.9L231.3,311.3L234.1,308.6L236.5,306.3L239.1,304.0L241.7,301.5L244.4,299.0L247.0,296.6L249.6,294.2L252.2,291.8L254.8,289.4L257.3,287.0L259.8,284.6L262.2,282.3L264.6,279.9L267.1,277.6L269.4,275.1L271.6,272.5L274.3,268.6L276.5,264.8L278.3,260.9L279.7,256.6L280.8,252.5L281.7,248.8L282.4,245.7L283.0,242.6L283.6,238.9L283.9,236.0L284.3,232.9L284.6,229.6L284.8,226.3L285.0,223.3L285.2,219.1L285.1,215.5L285.0,211.9L285.0,208.9L285.0,205.6L284.9,202.4L284.8,199.3L284.6,195.8L284.3,192.5L283.8,188.9L283.2,185.9L282.5,182.7L281.7,179.3L280.7,175.5L279.8,172.5L278.7,169.4L277.6,166.2L276.5,163.2L275.6,160.3L274.8,157.8L274.1,154.5L273.5,151.4L273.1,148.3L272.6,145.0Z" fill="#e4405e"/><path d="M272.6,145.0L273.1,148.3L273.5,151.4L274.1,154.5L274.8,157.8L275.6,160.3L276.5,163.2L277.6,166.2L278.7,169.4L279.8,172.5L280.7,175.5L281.7,179.3L282.5,182.7L283.2,185.9L283.8,188.9L284.3,192.5L284.6,195.8L284.8,199.3L284.9,202.4L285.0,205.6L285.0,208.9L285.0,211.9L285.1,215.5L285.2,219.1L285.0,223.3L284.8,226.3L284.6,229.6L284.3,232.9L283.9,236.0L283.6,238.9L283.0,242.6L282.4,245.7L281.7,248.8L280.8,252.5L279.7,256.6L278.3,260.9L276.5,264.8L274.3,268.6L271.6,272.5L269.4,275.1L267.1,277.6L264.6,279.9L262.2,282.3L259.8,284.6L257.3,287.0L254.8,289.4L252.2,291.8L249.6,294.2L247.0,296.6L244.4,299.0L241.7,301.5L239.1,304.0L236.5,306.3L234.1,308.6L231.3,311.3L228.6,313.9L226.1,316.4L223.6,318.8L221.3,321.0L219.1,323.1L217.2,324.9L215.6,326.7L213.6,329.4L211.7,332.1L210.0,335.0L208.8,337.4L207.6,340.1L206.5,342.7L205.6,345.1L204.8,347.8L204.2,350.2L203.9,352.6L203.7,355.4L203.8,358.4L203.9,361.6L204.1,364.3L204.5,366.9L205.2,371.1L205.7,373.6L206.4,376.8L207.1,380.2L207.9,383.8L208.7,387.4L209.4,390.6L209.9,393.3L210.7,397.8L211.3,401.0L211.6,404.3L212.0,408.1L212.2,412.3L212.0,417.2L211.6,420.6L211.1,424.1L210.5,427.8L209.7,431.5L208.7,435.2L207.7,438.3L206.6,441.3L205.5,444.3L204.2,447.2L202.9,450.2L201.6,453.1L200.1,456.1L198.5,459.1L196.8,462.1L195.2,465.1L193.6,467.8L192.1,470.3L190.0,473.7L188.1,476.6L186.3,479.2L184.4,481.9L182.4,484.6L180.4,487.3L178.4,490.0L176.5,492.5L174.0,495.8L171.5,498.9L169.4,501.9L167.5,504.5L166.0,506.6L164.6,509.4L163.6,511.6L162.5,514.3L161.4,517.2L160.4,520.1L159.6,523.0L159.0,525.9L158.5,529.0L158.0,532.3L157.7,535.5L157.4,538.7L157.3,541.7L157.2,544.7L157.2,547.7L157.2,550.7L157.2,553.8L157.2,557.5L157.2,561.0L157.2,564.5L157.2,568.0L151.4,568.0L151.4,564.5L151.4,561.0L151.4,557.4L151.4,553.8L151.4,550.8L151.4,547.7L151.4,544.6L151.4,541.5L151.6,538.3L151.9,535.0L152.3,531.6L152.7,528.2L153.3,524.8L154.0,521.6L154.9,518.4L155.9,515.3L157.1,512.2L158.2,509.4L159.3,506.9L161.0,503.7L162.7,501.1L164.7,498.5L166.9,495.4L169.3,492.3L171.9,489.0L173.8,486.5L175.8,483.8L177.7,481.2L179.7,478.5L181.5,475.9L183.3,473.3L185.1,470.5L187.1,467.3L188.6,464.9L190.1,462.2L191.8,459.3L193.4,456.4L194.9,453.4L196.3,450.6L197.7,447.7L198.9,444.9L200.1,442.1L201.2,439.3L202.2,436.5L203.1,433.6L204.0,430.2L204.8,426.6L205.4,423.1L205.9,419.8L206.2,416.8L206.4,412.4L206.2,408.6L205.8,404.9L205.5,401.8L205.0,398.8L204.2,394.4L203.7,391.8L203.0,388.6L202.2,385.1L201.5,381.5L200.7,378.0L200.0,374.8L199.5,372.1L198.8,367.8L198.4,364.9L198.1,361.9L198.0,358.6L197.9,355.3L198.1,352.1L198.5,349.2L199.1,346.3L200.1,343.3L201.1,340.6L202.2,337.7L203.6,334.9L204.9,332.2L206.8,329.0L208.9,326.0L211.1,323.0L213.0,320.9L215.1,318.9L217.3,316.8L219.6,314.6L222.0,312.2L224.5,309.7L227.2,307.1L230.1,304.4L232.5,302.1L235.1,299.7L237.8,297.2L240.4,294.7L243.1,292.3L245.6,289.9L248.2,287.5L250.8,285.1L253.3,282.7L255.8,280.4L258.2,278.1L260.6,275.8L262.9,273.5L265.1,271.2L267.0,269.0L269.4,265.5L271.3,262.2L272.9,258.7L274.2,254.9L275.2,251.1L276.0,247.5L276.7,244.5L277.3,241.6L277.8,238.1L278.2,235.4L278.5,232.3L278.8,229.1L279.0,225.9L279.2,223.0L279.3,219.1L279.3,215.6L279.2,212.0L279.2,208.9L279.2,205.7L279.1,202.5L279.0,199.6L278.8,196.2L278.5,193.2L278.0,189.9L277.5,187.0L276.9,184.0L276.1,180.7L275.1,177.1L274.2,174.3L273.2,171.3L272.1,168.2L271.0,165.0L270.0,162.0L269.2,159.3L268.4,155.7L267.8,152.4L267.3,149.1L266.8,145.9Z" fill="#ee6a85"/><path d="M267.6,145.7L268.2,149.0L268.6,152.2L269.2,155.5L270.0,159.1L270.8,161.8L271.8,164.8L272.9,167.9L274.0,171.0L275.0,174.1L275.9,176.8L276.9,180.5L277.7,183.8L278.3,186.8L278.8,189.7L279.4,193.1L279.7,196.2L279.9,199.5L280.0,202.5L280.0,205.7L280.0,208.9L280.1,212.0L280.1,215.6L280.2,219.1L280.1,223.1L279.9,226.0L279.6,229.1L279.3,232.4L279.0,235.5L278.6,238.2L278.1,241.7L277.5,244.6L276.8,247.7L276.0,251.3L275.0,255.2L273.6,259.0L272.0,262.5L270.1,266.0L267.6,269.5L265.7,271.8L263.5,274.1L261.2,276.4L258.8,278.7L256.4,281.0L253.9,283.3L251.4,285.7L248.8,288.1L246.2,290.5L243.6,292.9L241.0,295.4L238.3,297.8L235.7,300.3L233.1,302.7L230.6,305.0L227.8,307.7L225.1,310.3L222.6,312.8L220.2,315.2L217.8,317.4L215.6,319.5L213.6,321.5L211.8,323.6L209.5,326.4L207.5,329.4L205.7,332.6L204.3,335.2L203.0,338.1L201.8,340.9L200.9,343.5L199.9,346.6L199.3,349.3L199.0,352.2L198.8,355.3L198.8,358.6L199.0,361.9L199.2,364.8L199.6,367.7L200.3,372.0L200.9,374.6L201.5,377.8L202.3,381.3L203.1,384.9L203.8,388.4L204.5,391.6L205.0,394.3L205.8,398.6L206.3,401.7L206.7,404.8L207.0,408.5L207.2,412.4L207.1,416.8L206.7,419.9L206.2,423.3L205.6,426.8L204.8,430.4L203.9,433.9L203.0,436.7L202.0,439.6L200.9,442.4L199.7,445.3L198.4,448.1L197.1,450.9L195.7,453.8L194.1,456.8L192.5,459.7L190.9,462.6L189.3,465.3L187.8,467.8L185.8,471.0L184.0,473.8L182.2,476.4L180.4,479.0L178.4,481.7L176.4,484.3L174.4,487.0L172.5,489.5L170.0,492.8L167.6,495.9L165.3,499.0L163.4,501.6L161.8,504.1L160.1,507.2L159.0,509.7L157.8,512.5L156.7,515.5L155.7,518.7L154.8,521.8L154.1,525.0L153.6,528.3L153.1,531.7L152.7,535.0L152.5,538.3L152.3,541.5L152.2,544.6L152.2,547.7L152.3,550.8L152.3,553.8L152.2,557.5L152.2,561.0L152.3,564.5L152.3,568.0L151.3,568.0L151.3,564.5L151.3,561.0L151.2,557.4L151.3,553.8L151.3,550.8L151.2,547.7L151.2,544.6L151.3,541.4L151.5,538.2L151.8,535.0L152.1,531.6L152.6,528.1L153.1,524.8L153.8,521.6L154.7,518.4L155.8,515.2L156.9,512.1L158.1,509.3L159.2,506.8L160.9,503.6L162.6,501.1L164.5,498.4L166.8,495.3L169.2,492.2L171.7,488.9L173.6,486.4L175.6,483.7L177.6,481.1L179.5,478.4L181.4,475.8L183.2,473.2L185.0,470.4L187.0,467.2L188.4,464.8L190.0,462.1L191.6,459.2L193.2,456.3L194.8,453.4L196.2,450.5L197.5,447.7L198.8,444.9L199.9,442.0L201.0,439.2L202.1,436.4L202.9,433.6L203.9,430.1L204.6,426.6L205.2,423.1L205.7,419.8L206.1,416.7L206.2,412.4L206.0,408.6L205.7,404.9L205.3,401.8L204.9,398.8L204.1,394.5L203.5,391.8L202.8,388.6L202.1,385.1L201.3,381.5L200.5,378.0L199.9,374.8L199.4,372.2L198.6,367.9L198.2,364.9L198.0,362.0L197.8,358.6L197.8,355.3L198.0,352.1L198.4,349.1L199.0,346.3L199.9,343.2L200.9,340.6L202.1,337.7L203.4,334.8L204.8,332.1L206.7,328.9L208.7,325.9L211.0,322.9L212.9,320.8L214.9,318.8L217.1,316.7L219.5,314.5L221.9,312.1L224.4,309.6L227.1,307.0L230.0,304.3L232.4,302.0L235.0,299.6L237.7,297.1L240.3,294.6L243.0,292.2L245.5,289.8L248.1,287.4L250.7,285.0L253.2,282.6L255.7,280.3L258.1,278.0L260.5,275.7L262.8,273.4L264.9,271.1L266.8,268.9L269.3,265.4L271.2,262.1L272.7,258.6L274.0,254.9L275.0,251.1L275.8,247.5L276.6,244.4L277.1,241.6L277.7,238.1L278.0,235.4L278.3,232.3L278.6,229.0L278.9,225.9L279.1,223.0L279.2,219.1L279.1,215.6L279.1,212.0L279.0,208.9L279.0,205.7L279.0,202.5L278.9,199.6L278.7,196.3L278.4,193.2L277.9,189.9L277.3,187.0L276.7,184.0L275.9,180.7L274.9,177.1L274.1,174.4L273.1,171.4L271.9,168.2L270.8,165.1L269.8,162.1L269.0,159.3L268.2,155.7L267.6,152.4L267.2,149.2L266.7,145.9Z" fill="#f595a7"/></g>
<g><path d="M449.7,149.0L448.9,152.4L448.0,155.7L447.1,159.3L445.9,163.4L445.1,166.2L444.2,169.0L443.3,171.8L442.4,174.7L441.5,177.5L440.7,180.4L439.9,183.4L439.3,186.2L438.6,189.1L438.0,192.2L437.3,195.3L436.7,198.5L436.1,201.7L435.6,204.8L435.1,207.8L434.6,210.8L434.2,213.6L433.9,216.5L433.6,219.5L433.3,222.6L433.0,225.8L432.6,229.2L432.2,232.7L431.9,235.7L431.6,238.8L431.2,242.0L430.8,245.3L430.5,248.6L430.1,252.0L429.7,255.3L429.3,258.5L429.0,261.7L428.6,264.7L428.2,268.2L427.7,271.5L427.3,274.6L426.9,277.7L426.4,280.7L426.0,283.7L425.6,286.9L425.1,290.3L424.7,293.2L424.3,296.2L423.9,299.4L423.4,302.6L423.0,305.9L422.5,309.2L422.1,312.5L421.6,315.7L421.1,318.9L420.6,321.9L420.0,325.5L419.4,329.0L418.7,332.5L418.0,335.8L417.4,338.9L416.7,342.0L416.0,344.9L415.4,347.7L414.4,351.7L413.4,355.1L412.5,358.2L411.6,361.2L410.7,364.6L410.0,367.4L409.2,370.5L408.3,373.8L407.5,377.1L406.6,380.4L405.8,383.6L405.0,386.5L403.7,390.5L402.6,394.0L401.4,397.2L400.1,400.4L398.6,403.9L397.1,407.4L395.3,410.9L393.5,414.4L392.0,417.0L390.4,419.6L388.7,422.3L386.6,425.2L384.2,428.5L382.2,430.8L380.1,433.2L377.8,435.7L375.5,438.2L373.1,440.7L370.9,443.1L368.8,445.4L367.0,447.5L364.9,449.9L363.0,452.0L361.2,454.2L359.3,456.5L357.0,459.2L354.3,462.3L352.7,464.2L350.9,466.3L349.0,468.5L346.9,470.9L344.8,473.4L342.5,476.0L340.3,478.6L338.0,481.1L335.6,483.6L333.3,486.0L330.9,488.3L328.1,490.9L325.4,493.4L322.6,495.6L319.9,497.7L317.3,499.7L314.7,501.6L312.3,503.4L309.9,505.2L307.5,507.2L305.1,509.3L302.7,511.5L300.2,513.6L297.8,515.7L295.4,517.9L293.1,520.0L290.9,522.1L288.8,524.2L286.7,526.3L284.6,528.5L282.4,530.7L280.3,533.0L278.2,535.3L276.2,537.6L274.3,539.9L272.6,542.0L271.0,544.0L269.8,545.6L268.1,548.6L267.0,551.0L266.0,553.6L264.9,556.7L263.5,560.0L262.0,563.1L260.7,565.8L259.4,568.5L258.1,571.3L256.9,574.0L233.1,562.0L234.6,559.3L236.1,556.7L237.5,554.0L239.0,551.3L240.5,548.6L241.9,546.1L243.4,543.3L245.2,539.9L247.6,535.9L250.6,532.0L252.6,529.4L254.6,527.1L256.7,524.6L259.0,522.2L261.3,519.7L263.7,517.2L266.2,514.8L268.6,512.4L271.1,510.1L273.7,507.8L276.3,505.6L279.0,503.5L281.6,501.4L284.3,499.4L287.0,497.3L289.6,495.4L292.2,493.4L294.9,491.4L297.5,489.3L300.2,487.3L302.8,485.4L305.4,483.6L307.9,481.8L310.3,479.9L312.6,478.1L314.9,476.2L317.1,474.1L318.9,472.2L320.7,470.1L322.7,467.7L324.7,465.3L326.7,462.8L328.6,460.3L330.6,457.7L332.5,455.2L334.3,452.9L336.1,450.6L337.7,448.5L340.1,445.4L342.0,442.8L343.7,440.5L345.4,438.1L347.4,435.6L349.6,432.7L351.6,430.3L353.8,427.8L356.1,425.3L358.3,422.7L360.5,420.2L362.6,417.9L364.4,415.7L365.8,413.9L367.8,411.3L369.4,409.2L370.6,407.2L371.9,405.2L373.1,403.0L374.7,400.2L376.1,397.4L377.5,394.5L378.7,391.6L379.9,388.8L380.8,386.3L381.7,383.5L382.8,379.9L383.5,377.5L384.3,374.6L385.1,371.4L385.9,368.1L386.7,364.8L387.5,361.6L388.3,358.6L389.3,354.9L390.2,351.8L391.0,348.9L391.8,345.9L392.6,342.3L393.2,339.8L393.8,337.0L394.4,334.1L395.0,331.1L395.6,328.0L396.2,324.7L396.8,321.5L397.4,318.1L397.8,315.3L398.2,312.4L398.6,309.3L399.0,306.1L399.4,302.9L399.8,299.6L400.2,296.4L400.6,293.2L400.9,290.1L401.3,287.1L401.8,283.6L402.2,280.4L402.7,277.3L403.1,274.3L403.5,271.3L403.9,268.3L404.4,265.1L404.8,261.7L405.1,258.8L405.5,255.7L405.9,252.6L406.2,249.3L406.6,246.0L407.0,242.6L407.3,239.4L407.7,236.1L408.0,233.0L408.4,230.1L408.7,226.7L409.0,223.4L409.3,220.3L409.6,217.1L409.9,214.0L410.3,210.8L410.7,207.5L411.1,204.2L411.7,200.8L412.3,197.4L412.9,194.0L413.6,190.6L414.3,187.2L415.0,183.9L415.7,180.7L416.5,177.6L417.4,174.1L418.3,170.7L419.3,167.5L420.3,164.5L421.2,161.7L422.0,159.1L422.7,156.8L423.7,153.0L424.6,149.6L425.4,146.4L426.3,143.0Z" fill="#2f62ad" fill-opacity="0.28" transform="translate(2.2,2.4)"/><path d="M449.5,149.0L448.7,152.3L447.8,155.6L446.9,159.2L445.7,163.4L444.9,166.1L444.0,168.9L443.1,171.7L442.2,174.6L441.4,177.5L440.5,180.4L439.7,183.4L439.1,186.1L438.4,189.1L437.8,192.2L437.1,195.3L436.5,198.4L435.9,201.6L435.4,204.8L434.9,207.8L434.4,210.7L434.0,213.6L433.7,216.5L433.4,219.5L433.1,222.5L432.8,225.8L432.4,229.1L432.0,232.7L431.7,235.6L431.4,238.7L431.0,242.0L430.6,245.3L430.3,248.6L429.9,251.9L429.5,255.3L429.1,258.5L428.8,261.7L428.4,264.7L428.0,268.2L427.5,271.5L427.1,274.6L426.7,277.6L426.2,280.7L425.8,283.7L425.4,286.9L424.9,290.3L424.5,293.1L424.1,296.2L423.7,299.3L423.2,302.6L422.8,305.9L422.4,309.2L421.9,312.5L421.4,315.7L420.9,318.8L420.4,321.9L419.8,325.5L419.2,329.0L418.5,332.4L417.8,335.7L417.2,338.9L416.5,341.9L415.8,344.8L415.2,347.6L414.2,351.6L413.3,355.1L412.3,358.2L411.5,361.2L410.5,364.5L409.8,367.3L409.0,370.4L408.2,373.7L407.3,377.1L406.4,380.4L405.6,383.5L404.8,386.4L403.5,390.5L402.4,393.9L401.2,397.1L399.9,400.4L398.4,403.8L396.9,407.3L395.2,410.8L393.3,414.3L391.8,416.9L390.3,419.5L388.5,422.2L386.5,425.1L384.0,428.3L382.0,430.7L379.9,433.1L377.6,435.6L375.3,438.1L373.0,440.6L370.7,443.0L368.7,445.3L366.8,447.3L364.7,449.8L362.9,451.9L361.1,454.0L359.2,456.4L356.9,459.0L354.2,462.1L352.5,464.0L350.7,466.1L348.8,468.4L346.7,470.8L344.6,473.3L342.4,475.9L340.1,478.4L337.8,481.0L335.5,483.5L333.1,485.9L330.8,488.2L328.0,490.8L325.2,493.2L322.5,495.4L319.8,497.5L317.2,499.5L314.6,501.4L312.2,503.3L309.8,505.1L307.4,507.0L305.0,509.1L302.5,511.3L300.1,513.5L297.7,515.6L295.3,517.7L293.0,519.8L290.8,522.0L288.6,524.1L286.5,526.2L284.4,528.3L282.3,530.6L280.1,532.9L278.1,535.2L276.1,537.5L274.2,539.7L272.4,541.9L270.8,543.9L269.7,545.5L268.0,548.5L266.8,550.9L265.8,553.6L264.7,556.6L263.3,559.9L261.8,563.0L260.5,565.7L259.2,568.5L258.0,571.2L256.7,573.9L233.3,562.1L234.8,559.4L236.2,556.8L237.7,554.1L239.2,551.3L240.7,548.7L242.1,546.2L243.6,543.4L245.4,540.0L247.8,536.1L250.7,532.1L252.7,529.6L254.7,527.2L256.9,524.8L259.1,522.3L261.5,519.8L263.9,517.4L266.3,514.9L268.8,512.6L271.3,510.2L273.8,508.0L276.4,505.8L279.1,503.6L281.8,501.6L284.4,499.5L287.1,497.5L289.7,495.5L292.4,493.6L295.0,491.6L297.6,489.5L300.3,487.5L303.0,485.6L305.5,483.7L308.0,481.9L310.4,480.1L312.7,478.2L315.0,476.3L317.2,474.2L319.0,472.3L320.9,470.2L322.8,467.9L324.8,465.4L326.8,462.9L328.8,460.4L330.7,457.9L332.6,455.4L334.5,453.0L336.2,450.7L337.8,448.7L340.2,445.5L342.2,442.9L343.9,440.6L345.6,438.2L347.5,435.7L349.8,432.9L351.8,430.4L354.0,427.9L356.2,425.4L358.5,422.8L360.7,420.4L362.7,418.0L364.5,415.9L366.0,414.1L368.0,411.5L369.5,409.3L370.8,407.4L372.0,405.3L373.3,403.1L374.9,400.3L376.3,397.5L377.6,394.6L378.9,391.6L380.0,388.9L381.0,386.4L381.9,383.6L383.0,380.0L383.7,377.5L384.5,374.7L385.3,371.5L386.1,368.2L386.9,364.9L387.7,361.7L388.5,358.7L389.5,355.0L390.4,351.8L391.2,348.9L392.0,345.9L392.8,342.4L393.4,339.8L394.0,337.0L394.6,334.1L395.2,331.1L395.8,328.0L396.4,324.8L397.0,321.5L397.6,318.1L398.0,315.4L398.4,312.4L398.8,309.3L399.2,306.1L399.6,302.9L400.0,299.6L400.4,296.4L400.8,293.2L401.1,290.1L401.5,287.1L402.0,283.7L402.4,280.4L402.9,277.3L403.3,274.3L403.7,271.3L404.1,268.3L404.6,265.1L405.0,261.7L405.3,258.8L405.7,255.8L406.1,252.6L406.4,249.3L406.8,246.0L407.2,242.7L407.5,239.4L407.9,236.2L408.2,233.0L408.6,230.1L408.9,226.7L409.2,223.5L409.5,220.3L409.8,217.1L410.1,214.0L410.5,210.8L410.9,207.5L411.3,204.2L411.9,200.8L412.5,197.4L413.1,194.0L413.8,190.6L414.5,187.2L415.2,183.9L415.9,180.7L416.7,177.6L417.6,174.1L418.5,170.7L419.5,167.5L420.5,164.5L421.4,161.7L422.2,159.2L422.9,156.8L423.9,153.0L424.8,149.7L425.6,146.4L426.5,143.0Z" fill="#a81c3c"/><path d="M448.9,148.8L448.1,152.2L447.2,155.5L446.3,159.1L445.2,163.2L444.4,165.9L443.5,168.7L442.6,171.6L441.7,174.4L440.8,177.3L439.9,180.2L439.2,183.2L438.5,186.0L437.8,189.0L437.2,192.0L436.5,195.2L435.9,198.3L435.3,201.5L434.8,204.7L434.3,207.7L433.8,210.7L433.5,213.5L433.1,216.4L432.8,219.4L432.5,222.5L432.2,225.7L431.8,229.1L431.4,232.6L431.1,235.6L430.8,238.7L430.4,241.9L430.0,245.2L429.7,248.5L429.3,251.9L428.9,255.2L428.6,258.4L428.2,261.6L427.8,264.6L427.4,268.1L426.9,271.4L426.5,274.5L426.1,277.5L425.6,280.6L425.2,283.6L424.8,286.8L424.3,290.2L423.9,293.1L423.5,296.1L423.1,299.3L422.6,302.5L422.2,305.8L421.8,309.1L421.3,312.4L420.8,315.6L420.3,318.8L419.9,321.8L419.2,325.4L418.6,328.9L417.9,332.3L417.2,335.6L416.6,338.8L415.9,341.8L415.3,344.7L414.6,347.5L413.6,351.5L412.7,354.9L411.8,358.0L410.9,361.0L409.9,364.4L409.2,367.2L408.4,370.3L407.6,373.6L406.7,377.0L405.9,380.2L405.0,383.4L404.2,386.2L403.0,390.3L401.8,393.7L400.6,396.9L399.3,400.1L397.9,403.5L396.3,407.0L394.6,410.5L392.8,414.0L391.3,416.6L389.8,419.1L388.0,421.8L386.0,424.8L383.5,428.0L381.6,430.3L379.5,432.7L377.2,435.2L374.9,437.7L372.5,440.2L370.3,442.6L368.2,444.9L366.4,447.0L364.2,449.4L362.4,451.5L360.6,453.7L358.7,456.0L356.4,458.7L353.7,461.8L352.1,463.7L350.3,465.8L348.3,468.0L346.3,470.4L344.1,472.9L341.9,475.5L339.7,478.1L337.3,480.6L335.0,483.1L332.7,485.5L330.3,487.7L327.6,490.3L324.8,492.7L322.1,495.0L319.4,497.1L316.8,499.0L314.3,500.9L311.8,502.8L309.4,504.6L307.0,506.5L304.6,508.7L302.2,510.8L299.7,513.0L297.3,515.1L294.9,517.3L292.6,519.4L290.4,521.5L288.2,523.6L286.1,525.7L284.0,527.9L281.9,530.2L279.7,532.5L277.6,534.8L275.6,537.1L273.7,539.3L272.0,541.5L270.4,543.5L269.2,545.2L267.4,548.1L266.3,550.7L265.3,553.3L264.1,556.3L262.7,559.7L261.3,562.7L260.0,565.5L258.7,568.2L257.4,570.9L256.1,573.7L233.9,562.3L235.3,559.7L236.8,557.0L238.2,554.4L239.8,551.6L241.3,548.9L242.7,546.4L244.1,543.6L245.9,540.2L248.3,536.4L251.2,532.4L253.2,529.9L255.2,527.6L257.3,525.2L259.6,522.7L261.9,520.2L264.3,517.8L266.7,515.4L269.2,513.0L271.7,510.7L274.2,508.4L276.8,506.2L279.5,504.1L282.2,502.0L284.8,500.0L287.5,498.0L290.1,496.0L292.7,494.0L295.4,492.1L298.0,490.0L300.7,488.0L303.3,486.1L305.9,484.2L308.4,482.4L310.8,480.6L313.1,478.7L315.4,476.8L317.7,474.7L319.4,472.8L321.3,470.6L323.3,468.3L325.3,465.8L327.3,463.3L329.3,460.8L331.2,458.2L333.1,455.7L334.9,453.4L336.7,451.1L338.3,449.0L340.7,445.9L342.6,443.3L344.4,441.0L346.1,438.6L348.0,436.1L350.2,433.2L352.2,430.8L354.4,428.3L356.7,425.8L358.9,423.3L361.1,420.8L363.2,418.4L365.0,416.3L366.5,414.4L368.5,411.8L370.0,409.6L371.3,407.7L372.5,405.6L373.8,403.4L375.4,400.6L376.8,397.7L378.2,394.8L379.5,391.9L380.6,389.1L381.5,386.6L382.5,383.8L383.6,380.2L384.3,377.7L385.0,374.8L385.8,371.6L386.7,368.3L387.5,365.0L388.3,361.8L389.1,358.8L390.0,355.2L390.9,352.0L391.8,349.1L392.5,346.1L393.4,342.5L394.0,339.9L394.6,337.2L395.2,334.3L395.8,331.2L396.4,328.1L397.0,324.9L397.6,321.6L398.1,318.2L398.6,315.4L399.0,312.5L399.4,309.4L399.8,306.2L400.2,303.0L400.6,299.7L401.0,296.5L401.3,293.3L401.7,290.2L402.1,287.2L402.6,283.7L403.0,280.5L403.5,277.4L403.9,274.4L404.3,271.4L404.7,268.4L405.2,265.2L405.6,261.8L405.9,258.9L406.3,255.8L406.7,252.6L407.0,249.4L407.4,246.1L407.8,242.7L408.1,239.4L408.5,236.2L408.8,233.1L409.2,230.2L409.5,226.8L409.8,223.5L410.1,220.3L410.4,217.2L410.7,214.1L411.1,210.9L411.5,207.6L411.9,204.3L412.5,200.9L413.1,197.5L413.7,194.1L414.4,190.7L415.1,187.4L415.8,184.1L416.5,180.9L417.2,177.8L418.1,174.3L419.1,170.9L420.1,167.7L421.0,164.7L421.9,161.9L422.7,159.3L423.4,157.0L424.5,153.2L425.4,149.8L426.2,146.6L427.1,143.2Z" fill="#dd2b4c"/><path d="M429.2,143.7L428.4,147.1L427.5,150.4L426.7,153.8L425.6,157.6L424.9,160.0L424.1,162.6L423.2,165.4L422.2,168.4L421.3,171.6L420.3,174.9L419.4,178.3L418.7,181.4L418.0,184.6L417.3,187.8L416.6,191.2L415.9,194.5L415.3,197.9L414.7,201.3L414.2,204.6L413.7,207.9L413.3,211.1L413.0,214.3L412.6,217.4L412.4,220.6L412.1,223.7L411.7,227.0L411.4,230.4L411.1,233.4L410.7,236.5L410.4,239.7L410.0,243.0L409.6,246.3L409.3,249.6L408.9,252.9L408.5,256.1L408.2,259.2L407.8,262.1L407.4,265.5L407.0,268.7L406.5,271.7L406.1,274.7L405.7,277.7L405.3,280.8L404.8,284.0L404.3,287.5L403.9,290.5L403.6,293.6L403.2,296.7L402.8,300.0L402.4,303.3L402.0,306.5L401.6,309.7L401.2,312.8L400.7,315.8L400.3,318.6L399.8,322.0L399.2,325.3L398.6,328.5L397.9,331.7L397.3,334.7L396.7,337.6L396.1,340.4L395.5,343.0L394.7,346.6L393.8,349.7L393.0,352.6L392.1,355.8L391.2,359.4L390.4,362.4L389.6,365.6L388.8,368.9L387.9,372.2L387.1,375.3L386.4,378.3L385.7,380.8L384.5,384.4L383.6,387.3L382.6,389.9L381.5,392.7L380.2,395.7L378.8,398.7L377.3,401.6L375.7,404.5L374.4,406.7L373.2,408.8L371.8,410.9L370.2,413.1L368.2,415.8L366.6,417.7L364.8,419.8L362.7,422.2L360.5,424.7L358.3,427.2L356.0,429.8L353.8,432.2L351.8,434.6L349.6,437.4L347.7,439.9L346.0,442.2L344.2,444.6L342.3,447.2L339.8,450.3L338.2,452.3L336.5,454.6L334.6,457.0L332.7,459.5L330.8,462.0L328.7,464.5L326.7,467.1L324.7,469.5L322.7,471.8L320.8,474.0L318.9,476.0L316.6,478.1L314.3,480.1L311.9,482.0L309.5,483.9L307.0,485.7L304.4,487.5L301.8,489.4L299.2,491.4L296.5,493.5L293.9,495.5L291.3,497.5L288.7,499.5L286.1,501.5L283.4,503.5L280.8,505.6L278.2,507.8L275.6,509.9L273.1,512.2L270.7,514.5L268.3,516.8L265.8,519.3L263.5,521.7L261.2,524.1L259.0,526.6L256.9,529.0L254.9,531.3L253.0,533.7L250.2,537.5L248.0,541.3L246.2,544.6L244.8,547.4L243.4,550.0L241.9,552.7L240.4,555.5L239.0,558.1L237.5,560.8L236.1,563.5L233.9,562.3L235.3,559.7L236.8,557.0L238.2,554.4L239.8,551.6L241.3,548.9L242.7,546.4L244.1,543.6L245.9,540.2L248.3,536.4L251.2,532.4L253.2,529.9L255.2,527.6L257.3,525.2L259.6,522.7L261.9,520.2L264.3,517.8L266.7,515.4L269.2,513.0L271.7,510.7L274.2,508.4L276.8,506.2L279.5,504.1L282.2,502.0L284.8,500.0L287.5,498.0L290.1,496.0L292.7,494.0L295.4,492.1L298.0,490.0L300.7,488.0L303.3,486.1L305.9,484.2L308.4,482.4L310.8,480.6L313.1,478.7L315.4,476.8L317.7,474.7L319.4,472.8L321.3,470.6L323.3,468.3L325.3,465.8L327.3,463.3L329.3,460.8L331.2,458.2L333.1,455.7L334.9,453.4L336.7,451.1L338.3,449.0L340.7,445.9L342.6,443.3L344.4,441.0L346.1,438.6L348.0,436.1L350.2,433.2L352.2,430.8L354.4,428.3L356.7,425.8L358.9,423.3L361.1,420.8L363.2,418.4L365.0,416.3L366.5,414.4L368.5,411.8L370.0,409.6L371.3,407.7L372.5,405.6L373.8,403.4L375.4,400.6L376.8,397.7L378.2,394.8L379.5,391.9L380.6,389.1L381.5,386.6L382.5,383.8L383.6,380.2L384.3,377.7L385.0,374.8L385.8,371.6L386.7,368.3L387.5,365.0L388.3,361.8L389.1,358.8L390.0,355.2L390.9,352.0L391.8,349.1L392.5,346.1L393.4,342.5L394.0,339.9L394.6,337.2L395.2,334.3L395.8,331.2L396.4,328.1L397.0,324.9L397.6,321.6L398.1,318.2L398.6,315.4L399.0,312.5L399.4,309.4L399.8,306.2L400.2,303.0L400.6,299.7L401.0,296.5L401.3,293.3L401.7,290.2L402.1,287.2L402.6,283.7L403.0,280.5L403.5,277.4L403.9,274.4L404.3,271.4L404.7,268.4L405.2,265.2L405.6,261.8L405.9,258.9L406.3,255.8L406.7,252.6L407.0,249.4L407.4,246.1L407.8,242.7L408.1,239.4L408.5,236.2L408.8,233.1L409.2,230.2L409.5,226.8L409.8,223.5L410.1,220.3L410.4,217.2L410.7,214.1L411.1,210.9L411.5,207.6L411.9,204.3L412.5,200.9L413.1,197.5L413.7,194.1L414.4,190.7L415.1,187.4L415.8,184.1L416.5,180.9L417.2,177.8L418.1,174.3L419.1,170.9L420.1,167.7L421.0,164.7L421.9,161.9L422.7,159.3L423.4,157.0L424.5,153.2L425.4,149.8L426.2,146.6L427.1,143.2Z" fill="#e4405e"/><path d="M436.9,145.7L436.0,149.1L435.2,152.4L434.3,155.8L433.2,159.8L432.5,162.3L431.6,165.0L430.7,167.8L429.8,170.7L428.9,173.8L427.9,177.0L427.1,180.2L426.4,183.2L425.7,186.3L425.0,189.5L424.3,192.7L423.7,196.0L423.1,199.3L422.5,202.6L422.0,205.8L421.5,209.0L421.1,212.1L420.8,215.1L420.5,218.2L420.2,221.3L419.9,224.5L419.6,227.8L419.2,231.3L418.9,234.2L418.5,237.3L418.2,240.5L417.8,243.8L417.4,247.2L417.1,250.5L416.7,253.8L416.3,257.0L415.9,260.1L415.6,263.1L415.2,266.5L414.7,269.7L414.3,272.8L413.9,275.8L413.5,278.8L413.0,281.9L412.6,285.1L412.1,288.5L411.7,291.5L411.3,294.5L410.9,297.7L410.5,301.0L410.1,304.2L409.7,307.5L409.2,310.7L408.8,313.9L408.4,316.9L407.9,319.8L407.3,323.3L406.7,326.7L406.1,330.0L405.4,333.2L404.8,336.3L404.2,339.3L403.5,342.1L402.9,344.8L402.0,348.5L401.2,351.7L400.3,354.7L399.4,357.8L398.5,361.3L397.7,364.2L396.9,367.4L396.1,370.7L395.2,374.0L394.4,377.3L393.6,380.2L392.9,382.9L391.7,386.7L390.7,389.8L389.6,392.6L388.4,395.6L387.1,398.8L385.6,401.9L384.1,405.0L382.4,408.2L381.0,410.6L379.6,412.8L378.1,415.1L376.4,417.6L374.1,420.5L372.5,422.6L370.5,424.8L368.4,427.3L366.1,429.8L363.8,432.3L361.6,434.8L359.4,437.2L357.5,439.4L355.3,442.1L353.4,444.4L351.7,446.7L349.9,449.0L347.8,451.6L345.2,454.8L343.6,456.8L341.8,458.9L340.0,461.3L338.0,463.7L336.0,466.2L333.9,468.8L331.7,471.3L329.6,473.8L327.5,476.2L325.4,478.5L323.4,480.5L320.9,482.9L318.4,485.0L315.9,487.1L313.3,489.0L310.8,490.9L308.2,492.7L305.7,494.6L303.1,496.6L300.6,498.6L298.1,500.6L295.5,502.7L293.0,504.7L290.4,506.8L287.9,508.9L285.4,511.0L282.9,513.1L280.5,515.3L278.2,517.4L275.9,519.7L273.5,522.0L271.2,524.4L269.0,526.8L266.8,529.2L264.7,531.5L262.7,533.8L260.9,536.0L259.3,538.2L256.9,541.7L255.1,544.9L253.6,548.0L252.3,550.9L250.9,553.8L249.4,556.6L248.0,559.4L246.6,562.0L245.3,564.7L243.9,567.4L236.1,563.5L237.5,560.8L239.0,558.1L240.4,555.5L241.9,552.7L243.4,550.0L244.8,547.4L246.2,544.6L248.0,541.3L250.2,537.5L253.0,533.7L254.9,531.3L256.9,529.0L259.0,526.6L261.2,524.1L263.5,521.7L265.8,519.3L268.3,516.8L270.7,514.5L273.1,512.2L275.6,509.9L278.2,507.8L280.8,505.6L283.4,503.5L286.1,501.5L288.7,499.5L291.3,497.5L293.9,495.5L296.5,493.5L299.2,491.4L301.8,489.4L304.4,487.5L307.0,485.7L309.5,483.9L311.9,482.0L314.3,480.1L316.6,478.1L318.9,476.0L320.8,474.0L322.7,471.8L324.7,469.5L326.7,467.1L328.7,464.5L330.8,462.0L332.7,459.5L334.6,457.0L336.5,454.6L338.2,452.3L339.8,450.3L342.3,447.2L344.2,444.6L346.0,442.2L347.7,439.9L349.6,437.4L351.8,434.6L353.8,432.2L356.0,429.8L358.3,427.2L360.5,424.7L362.7,422.2L364.8,419.8L366.6,417.7L368.2,415.8L370.2,413.1L371.8,410.9L373.2,408.8L374.4,406.7L375.7,404.5L377.3,401.6L378.8,398.7L380.2,395.7L381.5,392.7L382.6,389.9L383.6,387.3L384.5,384.4L385.7,380.8L386.4,378.3L387.1,375.3L387.9,372.2L388.8,368.9L389.6,365.6L390.4,362.4L391.2,359.4L392.1,355.8L393.0,352.6L393.8,349.7L394.7,346.6L395.5,343.0L396.1,340.4L396.7,337.6L397.3,334.7L397.9,331.7L398.6,328.5L399.2,325.3L399.8,322.0L400.3,318.6L400.7,315.8L401.2,312.8L401.6,309.7L402.0,306.5L402.4,303.3L402.8,300.0L403.2,296.7L403.6,293.6L403.9,290.5L404.3,287.5L404.8,284.0L405.3,280.8L405.7,277.7L406.1,274.7L406.5,271.7L407.0,268.7L407.4,265.5L407.8,262.1L408.2,259.2L408.5,256.1L408.9,252.9L409.3,249.6L409.6,246.3L410.0,243.0L410.4,239.7L410.7,236.5L411.1,233.4L411.4,230.4L411.7,227.0L412.1,223.7L412.4,220.6L412.6,217.4L413.0,214.3L413.3,211.1L413.7,207.9L414.2,204.6L414.7,201.3L415.3,197.9L415.9,194.5L416.6,191.2L417.3,187.8L418.0,184.6L418.7,181.4L419.4,178.3L420.3,174.9L421.3,171.6L422.2,168.4L423.2,165.4L424.1,162.6L424.9,160.0L425.6,157.6L426.7,153.8L427.5,150.4L428.4,147.1L429.2,143.7Z" fill="#ee6a85"/><path d="M437.1,145.8L436.3,149.2L435.4,152.4L434.5,155.9L433.4,159.9L432.7,162.4L431.8,165.0L430.9,167.9L430.0,170.8L429.1,173.9L428.2,177.0L427.3,180.3L426.6,183.2L425.9,186.3L425.2,189.5L424.6,192.8L423.9,196.1L423.3,199.4L422.7,202.6L422.2,205.9L421.8,209.0L421.4,212.1L421.0,215.2L420.7,218.2L420.4,221.3L420.1,224.5L419.8,227.8L419.4,231.3L419.1,234.3L418.7,237.4L418.4,240.6L418.0,243.9L417.7,247.2L417.3,250.5L416.9,253.8L416.5,257.0L416.2,260.1L415.8,263.1L415.4,266.5L414.9,269.8L414.5,272.8L414.1,275.9L413.7,278.9L413.2,281.9L412.8,285.2L412.3,288.6L411.9,291.5L411.5,294.6L411.1,297.8L410.7,301.0L410.3,304.3L409.9,307.5L409.5,310.8L409.0,313.9L408.6,317.0L408.1,319.9L407.5,323.3L406.9,326.7L406.3,330.0L405.7,333.2L405.0,336.3L404.4,339.3L403.8,342.1L403.2,344.8L402.2,348.6L401.4,351.8L400.5,354.8L399.6,357.9L398.7,361.4L397.9,364.3L397.1,367.5L396.3,370.8L395.4,374.1L394.6,377.3L393.8,380.3L393.1,383.0L391.9,386.8L390.9,389.9L389.8,392.7L388.6,395.7L387.3,398.8L385.8,402.0L384.2,405.1L382.5,408.3L381.2,410.7L379.8,412.9L378.3,415.3L376.5,417.8L374.3,420.7L372.6,422.7L370.7,425.0L368.5,427.4L366.3,429.9L364.0,432.4L361.7,434.9L359.6,437.3L357.7,439.6L355.5,442.2L353.6,444.6L351.8,446.8L350.0,449.1L347.9,451.8L345.4,454.9L343.8,456.9L342.0,459.1L340.1,461.4L338.1,463.8L336.1,466.4L334.0,468.9L331.9,471.5L329.8,473.9L327.6,476.3L325.5,478.6L323.5,480.7L321.0,483.0L318.5,485.2L316.0,487.2L313.5,489.1L310.9,491.0L308.4,492.9L305.8,494.8L303.3,496.7L300.7,498.7L298.2,500.8L295.7,502.8L293.1,504.9L290.6,506.9L288.0,509.0L285.5,511.1L283.1,513.3L280.7,515.4L278.3,517.6L276.0,519.8L273.7,522.2L271.4,524.5L269.1,526.9L267.0,529.3L264.9,531.7L262.9,534.0L261.1,536.2L259.5,538.3L257.1,541.8L255.3,545.0L253.8,548.1L252.5,551.0L251.1,553.9L249.7,556.7L248.2,559.5L246.9,562.2L245.5,564.8L244.1,567.5L242.8,566.9L244.2,564.2L245.5,561.5L246.9,558.8L248.4,556.0L249.9,553.2L251.2,550.4L252.6,547.5L254.1,544.4L256.0,541.1L258.4,537.5L260.1,535.4L261.9,533.1L263.9,530.8L266.0,528.5L268.2,526.1L270.5,523.7L272.8,521.3L275.1,518.9L277.5,516.7L279.8,514.5L282.3,512.3L284.7,510.2L287.3,508.1L289.8,506.0L292.4,504.0L294.9,501.9L297.5,499.9L300.0,497.9L302.6,495.8L305.1,493.9L307.7,492.0L310.2,490.1L312.8,488.3L315.3,486.3L317.8,484.3L320.3,482.2L322.7,479.9L324.7,477.8L326.8,475.6L328.9,473.2L331.0,470.7L333.1,468.2L335.2,465.6L337.2,463.1L339.2,460.7L341.1,458.3L342.8,456.1L344.5,454.1L347.0,451.0L349.1,448.4L350.9,446.0L352.6,443.8L354.5,441.4L356.7,438.7L358.6,436.5L360.8,434.1L363.0,431.6L365.3,429.0L367.6,426.5L369.7,424.1L371.6,421.9L373.3,419.8L375.5,417.0L377.2,414.5L378.7,412.3L380.0,410.0L381.4,407.6L383.1,404.5L384.6,401.4L386.1,398.3L387.4,395.2L388.6,392.2L389.7,389.4L390.7,386.4L391.8,382.6L392.6,380.0L393.4,377.0L394.2,373.8L395.0,370.4L395.9,367.1L396.7,364.0L397.4,361.0L398.4,357.5L399.3,354.4L400.1,351.4L401.0,348.2L401.9,344.5L402.5,341.8L403.1,339.0L403.7,336.1L404.4,333.0L405.0,329.8L405.6,326.5L406.2,323.1L406.8,319.6L407.3,316.8L407.7,313.7L408.1,310.6L408.6,307.4L409.0,304.1L409.4,300.8L409.8,297.6L410.2,294.4L410.6,291.3L411.0,288.4L411.5,285.0L411.9,281.8L412.3,278.7L412.8,275.7L413.2,272.7L413.6,269.6L414.0,266.4L414.5,262.9L414.8,260.0L415.2,256.9L415.6,253.7L415.9,250.4L416.3,247.0L416.7,243.7L417.0,240.4L417.4,237.2L417.7,234.1L418.1,231.2L418.4,227.7L418.8,224.4L419.1,221.2L419.4,218.1L419.7,215.0L420.0,211.9L420.4,208.8L420.9,205.7L421.4,202.4L422.0,199.1L422.6,195.8L423.2,192.5L423.9,189.2L424.6,186.0L425.3,182.9L426.0,180.0L426.9,176.7L427.8,173.5L428.7,170.4L429.6,167.4L430.5,164.6L431.4,162.0L432.1,159.5L433.2,155.5L434.1,152.1L434.9,148.8L435.8,145.4Z" fill="#f595a7"/></g>
<g><path d="M123.8,142.7L125.7,146.2L127.6,149.6L129.3,152.8L131.0,156.0L133.1,159.6L134.4,162.0L136.1,164.9L137.9,168.0L139.8,171.2L141.6,174.2L143.3,177.1L144.8,179.8L146.3,182.4L147.8,184.8L149.4,187.1L151.3,189.4L153.5,191.9L155.8,194.4L158.1,196.9L160.4,199.3L162.7,201.3L164.9,203.2L167.2,205.1L169.7,207.2L172.4,209.5L174.7,211.6L177.0,213.8L179.3,216.0L181.5,218.1L183.6,220.0L185.8,221.8L187.9,223.4L190.1,225.0L192.4,226.6L194.8,228.1L197.3,229.8L199.9,231.5L202.7,233.2L205.6,234.9L208.7,236.7L211.9,238.6L215.1,240.6L218.1,242.6L221.1,244.8L223.8,246.9L226.6,249.2L229.3,251.8L232.2,254.8L234.5,257.4L236.7,260.1L238.8,263.0L241.0,265.9L243.1,268.8L245.2,271.8L247.3,274.6L249.2,277.2L251.0,279.9L252.9,282.6L254.7,285.2L256.5,287.9L258.3,290.5L260.0,292.9L261.7,295.3L263.6,297.9L265.4,300.4L267.3,302.8L269.1,305.3L270.9,307.7L272.8,310.2L274.6,312.8L276.4,315.4L278.3,318.1L280.1,320.7L281.9,323.3L283.6,325.9L285.2,328.3L286.6,330.4L288.9,333.8L291.0,336.8L293.0,339.8L294.9,342.8L296.9,346.4L298.5,349.8L300.0,353.4L301.3,357.3L302.4,361.2L303.5,365.5L304.2,368.6L305.0,371.8L305.7,375.2L306.4,378.6L307.1,382.0L307.7,385.2L308.3,388.4L308.9,391.5L309.5,394.8L310.1,398.2L310.7,401.4L311.2,404.7L311.7,407.9L312.2,411.1L312.8,413.9L313.3,416.3L314.1,418.9L314.9,421.2L315.9,423.5L317.0,426.1L318.2,429.0L319.5,432.1L321.0,435.3L322.4,438.6L323.8,441.6L325.0,444.0L326.7,447.1L328.5,449.8L330.5,453.2L332.5,457.0L334.2,460.5L335.9,463.6L337.5,466.2L339.1,468.6L341.3,471.3L342.8,473.0L344.5,474.8L346.3,476.6L348.3,478.4L350.9,480.5L352.7,481.9L354.9,483.5L357.2,485.1L359.6,486.8L362.1,488.4L364.7,490.0L367.2,491.5L369.7,492.9L372.4,494.2L375.2,495.5L378.2,496.8L381.3,498.1L384.5,499.3L387.6,500.5L390.7,501.7L393.6,502.8L397.2,504.2L400.6,505.4L403.9,506.6L407.1,507.7L410.2,508.8L413.3,509.9L416.9,511.3L419.8,512.5L422.6,513.7L426.4,515.2L428.6,516.0L431.3,516.9L434.1,517.9L437.2,519.0L440.3,520.0L443.4,521.1L446.4,522.2L449.2,523.1L451.9,524.1L455.7,525.5L458.8,526.7L461.4,527.8L464.1,528.8L467.6,529.9L470.0,530.5L472.7,531.3L475.7,532.0L478.8,532.8L482.0,533.5L485.3,534.3L488.5,535.1L491.8,535.8L494.9,536.5L498.0,537.3L501.1,538.0L504.3,538.7L507.5,539.4L510.6,540.1L513.6,540.8L516.5,541.4L519.2,542.0L521.6,542.5L525.3,543.3L528.4,543.9L531.1,544.4L533.8,544.9L536.7,545.5L533.3,563.5L530.4,563.0L527.7,562.5L524.9,561.9L521.7,561.3L517.8,560.5L515.3,560.0L512.6,559.4L509.7,558.7L506.6,558.1L503.4,557.4L500.2,556.6L497.0,555.9L493.8,555.2L490.7,554.5L487.6,553.7L484.4,553.0L481.1,552.2L477.8,551.4L474.5,550.7L471.2,549.9L468.1,549.1L465.2,548.3L462.4,547.5L458.2,546.2L454.8,545.0L451.9,543.8L449.0,542.7L445.5,541.3L443.2,540.5L440.4,539.5L437.4,538.5L434.3,537.4L431.2,536.4L428.1,535.3L425.2,534.3L422.4,533.3L420.0,532.4L415.8,530.8L412.7,529.5L410.0,528.4L406.7,527.1L404.1,526.2L401.1,525.1L397.9,524.0L394.4,522.9L390.8,521.6L387.0,520.2L384.1,519.1L381.0,518.0L377.8,516.8L374.5,515.5L371.1,514.2L367.7,512.8L364.3,511.3L361.1,509.7L357.9,508.0L354.9,506.2L351.9,504.4L349.1,502.6L346.3,500.7L343.8,498.9L341.4,497.2L339.1,495.5L336.0,493.0L333.1,490.5L330.7,488.1L328.7,485.9L326.7,483.7L323.8,480.3L321.4,476.9L319.1,473.4L317.0,469.6L315.1,465.9L313.5,462.8L311.9,460.3L309.9,457.4L307.6,453.4L306.0,450.3L304.4,447.0L302.8,443.6L301.2,440.2L299.8,437.0L298.5,434.2L297.3,431.5L296.0,428.6L294.8,425.3L293.7,421.7L292.8,418.3L292.1,414.8L291.5,411.3L290.9,407.9L290.4,404.8L289.9,401.8L289.2,398.5L288.7,395.2L288.1,392.1L287.5,389.1L286.9,386.0L286.2,382.8L285.5,379.5L284.8,376.3L284.2,373.2L283.5,370.5L282.5,366.6L281.6,363.4L280.6,360.6L279.6,358.1L278.6,355.9L277.1,353.2L275.7,351.0L274.0,348.4L272.0,345.5L269.6,342.0L268.1,339.7L266.5,337.4L264.8,334.9L263.0,332.3L261.3,329.7L259.5,327.1L257.8,324.6L256.1,322.3L254.4,319.9L252.6,317.5L250.8,315.0L249.0,312.5L247.0,309.9L245.1,307.1L243.3,304.6L241.5,302.0L239.7,299.3L238.0,296.7L236.2,294.0L234.4,291.4L232.6,288.8L230.9,286.4L228.8,283.5L226.8,280.5L224.7,277.6L222.8,274.9L220.8,272.3L219.0,270.0L217.4,268.0L215.2,265.6L213.3,263.7L211.4,262.1L209.3,260.3L206.7,258.4L204.4,256.7L201.7,254.9L198.8,253.1L195.7,251.2L192.6,249.3L189.7,247.3L187.0,245.5L184.4,243.8L181.8,242.0L179.2,240.2L176.7,238.3L174.0,236.2L171.4,234.0L168.9,231.7L166.5,229.3L164.2,227.1L162.0,225.0L160.0,223.1L157.7,221.0L155.4,218.9L153.0,216.7L150.5,214.4L148.0,211.9L145.4,209.3L142.8,206.6L140.2,203.7L137.6,200.8L135.2,197.7L133.0,194.6L131.1,191.6L129.4,188.7L127.8,185.9L126.2,183.2L124.5,180.2L122.6,177.0L120.7,173.9L119.0,170.9L117.5,168.4L115.4,164.5L113.7,161.2L112.0,158.2L110.1,154.7L108.2,151.3Z" fill="#2f62ad" fill-opacity="0.28" transform="translate(1.8,2.6)"/><path d="M123.6,142.8L125.5,146.2L127.4,149.7L129.2,152.9L130.9,156.1L132.9,159.7L134.2,162.1L135.9,165.0L137.7,168.1L139.6,171.3L141.4,174.3L143.1,177.2L144.6,179.9L146.1,182.5L147.6,184.9L149.3,187.2L151.2,189.6L153.3,192.1L155.6,194.6L158.0,197.1L160.3,199.4L162.5,201.4L164.7,203.3L167.1,205.3L169.6,207.3L172.3,209.6L174.6,211.8L176.9,214.0L179.1,216.1L181.3,218.2L183.5,220.2L185.6,221.9L187.8,223.6L190.0,225.2L192.3,226.7L194.7,228.3L197.2,230.0L199.8,231.6L202.6,233.3L205.5,235.1L208.6,236.9L211.8,238.8L215.0,240.8L217.9,242.8L221.0,245.0L223.7,247.0L226.4,249.3L229.2,251.9L232.1,254.9L234.3,257.5L236.5,260.2L238.7,263.1L240.8,266.0L243.0,269.0L245.1,271.9L247.2,274.8L249.0,277.3L250.9,280.0L252.7,282.7L254.6,285.4L256.4,288.0L258.2,290.6L259.9,293.1L261.6,295.4L263.4,298.0L265.3,300.5L267.1,302.9L268.9,305.4L270.8,307.8L272.6,310.3L274.4,312.9L276.3,315.5L278.1,318.2L279.9,320.8L281.7,323.5L283.4,326.0L285.0,328.4L286.4,330.5L288.8,333.9L290.9,336.9L292.9,339.9L294.7,342.9L296.7,346.5L298.3,349.9L299.8,353.5L301.1,357.3L302.2,361.3L303.3,365.6L304.0,368.6L304.8,371.9L305.5,375.3L306.2,378.7L306.9,382.0L307.5,385.2L308.1,388.4L308.7,391.6L309.3,394.8L309.9,398.2L310.5,401.4L311.0,404.7L311.5,408.0L312.0,411.1L312.6,413.9L313.1,416.4L313.9,418.9L314.7,421.2L315.7,423.6L316.8,426.2L318.0,429.0L319.3,432.2L320.8,435.4L322.2,438.6L323.6,441.7L324.8,444.1L326.6,447.2L328.3,449.9L330.4,453.3L332.3,457.1L334.0,460.6L335.7,463.7L337.3,466.3L338.9,468.7L341.1,471.4L342.7,473.1L344.4,474.9L346.1,476.7L348.2,478.5L350.7,480.6L352.6,482.0L354.8,483.6L357.1,485.3L359.5,486.9L362.0,488.6L364.5,490.2L367.1,491.7L369.6,493.1L372.3,494.4L375.1,495.7L378.1,497.0L381.2,498.3L384.4,499.5L387.6,500.7L390.6,501.9L393.5,503.0L397.1,504.3L400.5,505.6L403.8,506.8L407.1,507.9L410.2,509.0L413.2,510.1L416.9,511.5L419.7,512.7L422.5,513.9L426.4,515.4L428.6,516.2L431.2,517.1L434.1,518.1L437.1,519.2L440.3,520.2L443.4,521.3L446.4,522.3L449.2,523.3L451.8,524.2L455.6,525.7L458.7,526.9L461.3,528.0L464.0,529.0L467.6,530.1L469.9,530.7L472.7,531.5L475.6,532.2L478.7,533.0L481.9,533.7L485.2,534.5L488.5,535.3L491.7,536.0L494.8,536.7L497.9,537.4L501.1,538.2L504.2,538.9L507.4,539.6L510.5,540.3L513.6,541.0L516.4,541.6L519.1,542.2L521.6,542.7L525.3,543.5L528.4,544.1L531.1,544.6L533.8,545.1L536.7,545.7L533.3,563.3L530.4,562.8L527.8,562.3L524.9,561.8L521.7,561.1L517.8,560.3L515.3,559.8L512.6,559.2L509.7,558.5L506.6,557.9L503.5,557.2L500.3,556.4L497.1,555.7L493.9,555.0L490.8,554.3L487.7,553.5L484.4,552.8L481.1,552.0L477.8,551.2L474.5,550.5L471.3,549.7L468.2,548.9L465.2,548.1L462.4,547.3L458.3,546.0L454.9,544.8L452.0,543.6L449.1,542.5L445.6,541.2L443.2,540.3L440.5,539.4L437.5,538.3L434.4,537.3L431.3,536.2L428.2,535.1L425.2,534.1L422.5,533.1L420.0,532.2L415.9,530.6L412.8,529.3L410.1,528.2L406.8,526.9L404.1,526.0L401.2,524.9L397.9,523.9L394.5,522.7L390.8,521.4L387.1,520.0L384.2,518.9L381.1,517.8L377.9,516.6L374.5,515.3L371.1,514.0L367.7,512.6L364.4,511.1L361.2,509.5L358.0,507.8L355.0,506.1L352.0,504.3L349.2,502.4L346.5,500.6L343.9,498.8L341.5,497.1L339.3,495.4L336.1,492.8L333.3,490.3L330.9,488.0L328.8,485.8L326.9,483.6L324.0,480.2L321.5,476.8L319.3,473.3L317.2,469.5L315.3,465.8L313.6,462.7L312.0,460.2L310.1,457.3L307.8,453.3L306.2,450.2L304.6,447.0L303.0,443.5L301.4,440.1L300.0,437.0L298.7,434.2L297.5,431.4L296.2,428.5L295.0,425.3L293.9,421.6L293.0,418.2L292.3,414.8L291.7,411.3L291.1,407.9L290.6,404.7L290.1,401.8L289.4,398.4L288.9,395.2L288.3,392.1L287.7,389.1L287.1,386.0L286.4,382.8L285.7,379.5L285.0,376.2L284.4,373.2L283.7,370.4L282.7,366.5L281.8,363.3L280.8,360.5L279.8,358.0L278.8,355.8L277.3,353.1L275.9,350.9L274.2,348.3L272.1,345.3L269.8,341.9L268.2,339.6L266.6,337.2L264.9,334.7L263.2,332.2L261.4,329.6L259.7,327.0L258.0,324.5L256.3,322.1L254.5,319.8L252.8,317.4L251.0,314.9L249.1,312.4L247.2,309.7L245.2,307.0L243.5,304.5L241.7,301.9L239.9,299.2L238.1,296.5L236.3,293.9L234.5,291.3L232.8,288.7L231.0,286.2L229.0,283.3L226.9,280.4L224.9,277.5L222.9,274.8L221.0,272.2L219.2,269.9L217.5,267.9L215.4,265.5L213.5,263.6L211.6,261.9L209.4,260.2L206.9,258.2L204.5,256.5L201.8,254.8L198.9,252.9L195.8,251.0L192.7,249.1L189.8,247.2L187.1,245.4L184.5,243.6L181.9,241.9L179.4,240.1L176.8,238.1L174.2,236.1L171.5,233.8L169.0,231.5L166.6,229.2L164.3,227.0L162.2,224.9L160.1,223.0L157.8,220.8L155.5,218.7L153.1,216.6L150.6,214.3L148.1,211.8L145.5,209.2L142.9,206.5L140.3,203.6L137.8,200.7L135.3,197.6L133.2,194.5L131.3,191.5L129.6,188.6L128.0,185.8L126.4,183.1L124.6,180.1L122.7,176.9L120.9,173.8L119.2,170.8L117.7,168.3L115.6,164.4L113.8,161.1L112.2,158.1L110.3,154.6L108.4,151.2Z" fill="#8f6220"/><path d="M123.1,143.1L125.0,146.5L126.9,150.0L128.6,153.1L130.3,156.3L132.4,160.0L133.7,162.4L135.4,165.3L137.2,168.4L139.1,171.6L140.9,174.6L142.6,177.5L144.1,180.2L145.6,182.8L147.1,185.2L148.8,187.5L150.7,189.9L152.9,192.5L155.2,195.0L157.6,197.5L159.9,199.8L162.1,201.9L164.3,203.8L166.7,205.7L169.2,207.8L171.9,210.1L174.2,212.2L176.5,214.4L178.7,216.6L180.9,218.7L183.1,220.6L185.3,222.4L187.4,224.1L189.6,225.7L191.9,227.2L194.4,228.8L196.9,230.5L199.5,232.1L202.2,233.8L205.2,235.6L208.3,237.4L211.5,239.3L214.6,241.3L217.6,243.3L220.6,245.4L223.3,247.5L226.0,249.8L228.8,252.3L231.6,255.3L233.8,257.9L236.0,260.6L238.2,263.4L240.4,266.4L242.5,269.3L244.6,272.2L246.7,275.1L248.5,277.7L250.4,280.3L252.2,283.0L254.1,285.7L255.9,288.3L257.7,290.9L259.4,293.4L261.1,295.8L262.9,298.3L264.8,300.8L266.6,303.3L268.5,305.7L270.3,308.2L272.1,310.7L274.0,313.2L275.8,315.8L277.6,318.5L279.4,321.2L281.2,323.8L282.9,326.3L284.5,328.7L286.0,330.9L288.3,334.2L290.4,337.3L292.3,340.2L294.2,343.2L296.2,346.8L297.8,350.2L299.2,353.7L300.5,357.5L301.6,361.4L302.7,365.7L303.4,368.7L304.2,372.0L304.9,375.4L305.6,378.8L306.3,382.1L307.0,385.3L307.6,388.5L308.1,391.7L308.7,394.9L309.4,398.3L309.9,401.5L310.4,404.8L310.9,408.1L311.4,411.2L312.0,414.1L312.6,416.5L313.3,419.1L314.2,421.5L315.1,423.8L316.2,426.4L317.5,429.3L318.8,432.4L320.2,435.7L321.7,438.9L323.1,441.9L324.3,444.4L326.1,447.5L327.8,450.2L329.8,453.6L331.8,457.4L333.5,460.9L335.2,464.0L336.8,466.6L338.5,469.1L340.7,471.8L342.2,473.5L343.9,475.3L345.7,477.1L347.8,479.0L350.4,481.1L352.3,482.5L354.4,484.1L356.7,485.8L359.2,487.4L361.7,489.1L364.2,490.7L366.8,492.2L369.4,493.6L372.0,494.9L374.9,496.2L377.9,497.5L381.0,498.8L384.2,500.1L387.3,501.3L390.4,502.4L393.3,503.5L396.9,504.9L400.3,506.1L403.6,507.3L406.9,508.4L410.0,509.5L413.0,510.6L416.6,512.1L419.5,513.3L422.3,514.5L426.2,515.9L428.4,516.7L431.0,517.7L433.9,518.7L436.9,519.7L440.1,520.8L443.2,521.9L446.2,522.9L449.0,523.9L451.6,524.8L455.4,526.2L458.5,527.5L461.1,528.5L463.8,529.5L467.4,530.7L469.8,531.3L472.5,532.0L475.5,532.8L478.6,533.5L481.8,534.3L485.1,535.1L488.4,535.8L491.6,536.6L494.7,537.3L497.8,538.0L500.9,538.8L504.1,539.5L507.3,540.2L510.4,540.9L513.4,541.5L516.3,542.2L519.0,542.8L521.4,543.3L525.2,544.1L528.3,544.7L531.0,545.2L533.7,545.7L536.6,546.3L533.4,562.7L530.6,562.2L527.9,561.7L525.1,561.2L521.8,560.5L518.0,559.7L515.5,559.2L512.7,558.6L509.8,558.0L506.8,557.3L503.6,556.6L500.4,555.9L497.2,555.1L494.0,554.4L490.9,553.7L487.8,553.0L484.6,552.2L481.3,551.4L477.9,550.7L474.6,549.9L471.4,549.1L468.3,548.3L465.4,547.5L462.6,546.7L458.5,545.5L455.1,544.2L452.2,543.1L449.3,541.9L445.8,540.6L443.4,539.7L440.7,538.8L437.7,537.8L434.6,536.7L431.5,535.6L428.4,534.5L425.4,533.5L422.7,532.6L420.2,531.7L416.1,530.1L413.0,528.8L410.3,527.6L407.0,526.4L404.3,525.4L401.4,524.4L398.1,523.3L394.7,522.1L391.0,520.8L387.3,519.5L384.4,518.4L381.3,517.2L378.1,516.0L374.8,514.8L371.4,513.4L368.0,512.0L364.7,510.6L361.4,509.0L358.3,507.3L355.3,505.6L352.3,503.7L349.5,501.9L346.8,500.1L344.2,498.3L341.9,496.6L339.6,494.9L336.5,492.4L333.7,489.9L331.3,487.6L329.3,485.4L327.3,483.2L324.5,479.8L322.0,476.5L319.8,473.0L317.7,469.2L315.8,465.5L314.2,462.4L312.6,459.9L310.6,457.0L308.3,453.0L306.7,450.0L305.1,446.7L303.5,443.3L301.9,439.9L300.5,436.7L299.3,433.9L298.0,431.2L296.8,428.3L295.6,425.1L294.4,421.5L293.6,418.1L292.9,414.6L292.3,411.2L291.7,407.8L291.2,404.6L290.6,401.7L290.0,398.3L289.4,395.1L288.9,392.0L288.3,389.0L287.7,385.9L287.0,382.7L286.3,379.3L285.6,376.1L284.9,373.0L284.3,370.3L283.3,366.4L282.4,363.2L281.4,360.3L280.4,357.8L279.3,355.5L277.8,352.8L276.4,350.5L274.7,348.0L272.6,345.0L270.2,341.5L268.7,339.3L267.1,336.9L265.4,334.4L263.7,331.8L261.9,329.2L260.2,326.7L258.4,324.2L256.7,321.8L255.0,319.4L253.3,317.0L251.5,314.6L249.6,312.0L247.7,309.4L245.7,306.6L244.0,304.1L242.2,301.5L240.4,298.9L238.6,296.2L236.8,293.6L235.0,290.9L233.3,288.4L231.5,285.9L229.5,283.0L227.4,280.1L225.4,277.2L223.4,274.4L221.5,271.8L219.7,269.5L218.0,267.5L215.8,265.1L213.9,263.2L211.9,261.4L209.8,259.7L207.2,257.7L204.8,256.0L202.1,254.3L199.2,252.4L196.1,250.5L193.0,248.6L190.1,246.7L187.4,244.9L184.8,243.1L182.3,241.4L179.7,239.6L177.1,237.7L174.5,235.6L171.9,233.4L169.4,231.1L167.0,228.8L164.7,226.5L162.6,224.4L160.5,222.5L158.2,220.4L155.9,218.3L153.5,216.1L151.0,213.9L148.5,211.4L146.0,208.8L143.4,206.1L140.7,203.2L138.2,200.3L135.8,197.3L133.7,194.2L131.8,191.2L130.1,188.3L128.5,185.5L126.9,182.8L125.1,179.8L123.3,176.6L121.4,173.4L119.7,170.5L118.2,168.0L116.1,164.1L114.4,160.9L112.7,157.8L110.8,154.4L108.9,150.9Z" fill="#fbc465"/><path d="M113.9,148.2L115.8,151.6L117.7,155.1L119.4,158.2L121.1,161.4L123.2,165.2L124.6,167.7L126.3,170.6L128.1,173.8L130.0,176.9L131.8,179.9L133.4,182.7L135.0,185.5L136.6,188.3L138.4,191.1L140.4,193.9L142.6,196.7L145.0,199.5L147.5,202.2L150.0,204.8L152.5,207.3L154.9,209.7L157.3,211.8L159.7,213.9L162.0,216.0L164.5,218.2L166.6,220.2L168.8,222.3L171.1,224.5L173.5,226.7L175.8,228.9L178.3,231.0L180.7,232.9L183.2,234.7L185.7,236.4L188.2,238.1L190.7,239.8L193.4,241.6L196.3,243.4L199.3,245.3L202.4,247.2L205.4,249.0L208.3,250.9L210.8,252.7L213.6,254.7L215.9,256.6L218.1,258.5L220.3,260.6L222.8,263.2L224.6,265.4L226.6,267.9L228.6,270.6L230.6,273.4L232.7,276.3L234.8,279.2L236.8,282.1L238.6,284.6L240.4,287.2L242.2,289.9L244.0,292.5L245.8,295.2L247.6,297.8L249.4,300.4L251.1,302.8L253.0,305.5L254.9,308.1L256.8,310.6L258.6,313.1L260.4,315.5L262.1,317.9L263.9,320.3L265.6,322.9L267.4,325.5L269.2,328.1L271.0,330.7L272.7,333.2L274.3,335.6L275.7,337.8L278.1,341.2L280.2,344.2L282.0,346.9L283.5,349.4L285.2,352.4L286.5,355.1L287.6,358.0L288.7,361.2L289.7,364.6L290.7,368.7L291.4,371.5L292.1,374.7L292.8,378.0L293.5,381.3L294.2,384.6L294.8,387.7L295.4,390.8L296.0,393.9L296.6,397.1L297.2,400.5L297.7,403.5L298.3,406.7L298.8,410.1L299.4,413.4L300.0,416.7L300.8,419.7L301.8,423.0L302.9,425.9L304.0,428.6L305.2,431.3L306.5,434.1L307.8,437.3L309.4,440.6L310.9,444.0L312.5,447.1L313.9,450.0L316.0,453.6L317.9,456.5L319.7,459.3L321.4,462.7L323.2,466.3L325.2,469.9L327.2,473.0L329.4,476.1L332.0,479.2L333.8,481.2L335.7,483.3L337.9,485.4L340.4,487.7L343.4,490.1L345.5,491.7L347.8,493.3L350.3,495.1L352.9,496.8L355.6,498.6L358.4,500.4L361.3,502.0L364.2,503.6L367.2,505.1L370.4,506.5L373.7,507.9L377.0,509.2L380.2,510.4L383.4,511.6L386.5,512.8L389.4,513.9L393.1,515.3L396.7,516.5L400.1,517.7L403.3,518.8L406.3,519.8L409.1,520.9L412.5,522.2L415.3,523.4L418.3,524.6L422.3,526.2L424.7,527.0L427.4,528.0L430.3,529.0L433.4,530.0L436.5,531.1L439.6,532.2L442.6,533.2L445.4,534.2L447.8,535.1L451.5,536.4L454.4,537.6L457.2,538.7L460.3,539.9L464.3,541.1L466.9,541.9L469.8,542.6L472.8,543.4L476.0,544.2L479.3,544.9L482.6,545.7L485.9,546.5L489.1,547.2L492.2,548.0L495.3,548.7L498.5,549.4L501.7,550.1L504.9,550.8L508.0,551.5L511.1,552.2L514.0,552.8L516.7,553.4L519.2,554.0L523.0,554.8L526.2,555.4L529.0,555.9L531.7,556.4L534.5,557.0L533.4,562.7L530.6,562.2L527.9,561.7L525.1,561.2L521.8,560.5L518.0,559.7L515.5,559.2L512.7,558.6L509.8,558.0L506.8,557.3L503.6,556.6L500.4,555.9L497.2,555.1L494.0,554.4L490.9,553.7L487.8,553.0L484.6,552.2L481.3,551.4L477.9,550.7L474.6,549.9L471.4,549.1L468.3,548.3L465.4,547.5L462.6,546.7L458.5,545.5L455.1,544.2L452.2,543.1L449.3,541.9L445.8,540.6L443.4,539.7L440.7,538.8L437.7,537.8L434.6,536.7L431.5,535.6L428.4,534.5L425.4,533.5L422.7,532.6L420.2,531.7L416.1,530.1L413.0,528.8L410.3,527.6L407.0,526.4L404.3,525.4L401.4,524.4L398.1,523.3L394.7,522.1L391.0,520.8L387.3,519.5L384.4,518.4L381.3,517.2L378.1,516.0L374.8,514.8L371.4,513.4L368.0,512.0L364.7,510.6L361.4,509.0L358.3,507.3L355.3,505.6L352.3,503.7L349.5,501.9L346.8,500.1L344.2,498.3L341.9,496.6L339.6,494.9L336.5,492.4L333.7,489.9L331.3,487.6L329.3,485.4L327.3,483.2L324.5,479.8L322.0,476.5L319.8,473.0L317.7,469.2L315.8,465.5L314.2,462.4L312.6,459.9L310.6,457.0L308.3,453.0L306.7,450.0L305.1,446.7L303.5,443.3L301.9,439.9L300.5,436.7L299.3,433.9L298.0,431.2L296.8,428.3L295.6,425.1L294.4,421.5L293.6,418.1L292.9,414.6L292.3,411.2L291.7,407.8L291.2,404.6L290.6,401.7L290.0,398.3L289.4,395.1L288.9,392.0L288.3,389.0L287.7,385.9L287.0,382.7L286.3,379.3L285.6,376.1L284.9,373.0L284.3,370.3L283.3,366.4L282.4,363.2L281.4,360.3L280.4,357.8L279.3,355.5L277.8,352.8L276.4,350.5L274.7,348.0L272.6,345.0L270.2,341.5L268.7,339.3L267.1,336.9L265.4,334.4L263.7,331.8L261.9,329.2L260.2,326.7L258.4,324.2L256.7,321.8L255.0,319.4L253.3,317.0L251.5,314.6L249.6,312.0L247.7,309.4L245.7,306.6L244.0,304.1L242.2,301.5L240.4,298.9L238.6,296.2L236.8,293.6L235.0,290.9L233.3,288.4L231.5,285.9L229.5,283.0L227.4,280.1L225.4,277.2L223.4,274.4L221.5,271.8L219.7,269.5L218.0,267.5L215.8,265.1L213.9,263.2L211.9,261.4L209.8,259.7L207.2,257.7L204.8,256.0L202.1,254.3L199.2,252.4L196.1,250.5L193.0,248.6L190.1,246.7L187.4,244.9L184.8,243.1L182.3,241.4L179.7,239.6L177.1,237.7L174.5,235.6L171.9,233.4L169.4,231.1L167.0,228.8L164.7,226.5L162.6,224.4L160.5,222.5L158.2,220.4L155.9,218.3L153.5,216.1L151.0,213.9L148.5,211.4L146.0,208.8L143.4,206.1L140.7,203.2L138.2,200.3L135.8,197.3L133.7,194.2L131.8,191.2L130.1,188.3L128.5,185.5L126.9,182.8L125.1,179.8L123.3,176.6L121.4,173.4L119.7,170.5L118.2,168.0L116.1,164.1L114.4,160.9L112.7,157.8L110.8,154.4L108.9,150.9Z" fill="#f4a840"/><path d="M123.1,143.1L125.0,146.5L126.9,150.0L128.6,153.1L130.3,156.3L132.4,160.0L133.7,162.4L135.4,165.3L137.2,168.4L139.1,171.6L140.9,174.6L142.6,177.5L144.1,180.2L145.6,182.8L147.1,185.2L148.8,187.5L150.7,189.9L152.9,192.5L155.2,195.0L157.6,197.5L159.9,199.8L162.1,201.9L164.3,203.8L166.7,205.7L169.2,207.8L171.9,210.1L174.2,212.2L176.5,214.4L178.7,216.6L180.9,218.7L183.1,220.6L185.3,222.4L187.4,224.1L189.6,225.7L191.9,227.2L194.4,228.8L196.9,230.5L199.5,232.1L202.2,233.8L205.2,235.6L208.3,237.4L211.5,239.3L214.6,241.3L217.6,243.3L220.6,245.4L223.3,247.5L226.0,249.8L228.8,252.3L231.6,255.3L233.8,257.9L236.0,260.6L238.2,263.4L240.4,266.4L242.5,269.3L244.6,272.2L246.7,275.1L248.5,277.7L250.4,280.3L252.2,283.0L254.1,285.7L255.9,288.3L257.7,290.9L259.4,293.4L261.1,295.8L262.9,298.3L264.8,300.8L266.6,303.3L268.5,305.7L270.3,308.2L272.1,310.7L274.0,313.2L275.8,315.8L277.6,318.5L279.4,321.2L281.2,323.8L282.9,326.3L284.5,328.7L286.0,330.9L288.3,334.2L290.4,337.3L292.3,340.2L294.2,343.2L296.2,346.8L297.8,350.2L299.2,353.7L300.5,357.5L301.6,361.4L302.7,365.7L303.4,368.7L304.2,372.0L304.9,375.4L305.6,378.8L306.3,382.1L307.0,385.3L307.6,388.5L308.1,391.7L308.7,394.9L309.4,398.3L309.9,401.5L310.4,404.8L310.9,408.1L311.4,411.2L312.0,414.1L312.6,416.5L313.3,419.1L314.2,421.5L315.1,423.8L316.2,426.4L317.5,429.3L318.8,432.4L320.2,435.7L321.7,438.9L323.1,441.9L324.3,444.4L326.1,447.5L327.8,450.2L329.8,453.6L331.8,457.4L333.5,460.9L335.2,464.0L336.8,466.6L338.5,469.1L340.7,471.8L342.2,473.5L343.9,475.3L345.7,477.1L347.8,479.0L350.4,481.1L352.3,482.5L354.4,484.1L356.7,485.8L359.2,487.4L361.7,489.1L364.2,490.7L366.8,492.2L369.4,493.6L372.0,494.9L374.9,496.2L377.9,497.5L381.0,498.8L384.2,500.1L387.3,501.3L390.4,502.4L393.3,503.5L396.9,504.9L400.3,506.1L403.6,507.3L406.9,508.4L410.0,509.5L413.0,510.6L416.6,512.1L419.5,513.3L422.3,514.5L426.2,515.9L428.4,516.7L431.0,517.7L433.9,518.7L436.9,519.7L440.1,520.8L443.2,521.9L446.2,522.9L449.0,523.9L451.6,524.8L455.4,526.2L458.5,527.5L461.1,528.5L463.8,529.5L467.4,530.7L469.8,531.3L472.5,532.0L475.5,532.8L478.6,533.5L481.8,534.3L485.1,535.1L488.4,535.8L491.6,536.6L494.7,537.3L497.8,538.0L500.9,538.8L504.1,539.5L507.3,540.2L510.4,540.9L513.4,541.5L516.3,542.2L519.0,542.8L521.4,543.3L525.2,544.1L528.3,544.7L531.0,545.2L533.7,545.7L536.6,546.3L536.3,547.6L533.4,547.0L530.7,546.5L528.0,546.0L524.9,545.4L521.2,544.6L518.7,544.1L516.0,543.5L513.1,542.9L510.1,542.2L507.0,541.5L503.8,540.8L500.6,540.1L497.5,539.3L494.4,538.6L491.3,537.9L488.1,537.2L484.8,536.4L481.5,535.6L478.3,534.9L475.1,534.1L472.2,533.3L469.4,532.6L467.0,531.9L463.4,530.8L460.6,529.8L458.0,528.7L454.9,527.5L451.1,526.1L448.5,525.2L445.7,524.2L442.7,523.1L439.6,522.1L436.5,521.0L433.4,519.9L430.6,518.9L427.9,518.0L425.7,517.2L421.8,515.7L419.0,514.5L416.1,513.3L412.5,511.9L409.5,510.8L406.4,509.7L403.2,508.6L399.9,507.4L396.4,506.2L392.8,504.8L389.9,503.7L386.9,502.5L383.7,501.3L380.5,500.1L377.4,498.8L374.3,497.5L371.4,496.2L368.7,494.8L366.1,493.4L363.5,491.9L360.9,490.3L358.4,488.6L355.9,486.9L353.6,485.2L351.4,483.6L349.5,482.2L346.9,480.1L344.8,478.2L342.9,476.3L341.2,474.5L339.6,472.7L337.3,469.9L335.6,467.4L333.9,464.7L332.2,461.6L330.5,458.0L328.6,454.3L326.6,451.0L324.8,448.3L323.0,445.1L321.8,442.6L320.4,439.5L318.9,436.3L317.5,433.0L316.1,429.9L314.9,427.0L313.8,424.4L312.8,422.0L311.9,419.6L311.1,416.9L310.5,414.4L310.0,411.5L309.4,408.3L308.9,405.0L308.4,401.7L307.9,398.6L307.2,395.2L306.6,391.9L306.1,388.8L305.5,385.6L304.8,382.4L304.1,379.1L303.4,375.7L302.7,372.3L302.0,369.1L301.2,366.1L300.2,361.8L299.1,358.0L297.8,354.2L296.4,350.8L294.8,347.5L292.9,344.0L291.1,341.0L289.1,338.1L287.0,335.1L284.7,331.7L283.2,329.5L281.6,327.2L279.9,324.6L278.2,322.0L276.4,319.4L274.5,316.7L272.7,314.1L270.9,311.6L269.1,309.1L267.2,306.6L265.4,304.2L263.6,301.7L261.7,299.2L259.8,296.6L258.2,294.3L256.4,291.8L254.6,289.2L252.8,286.5L251.0,283.9L249.2,281.2L247.3,278.5L245.5,276.0L243.4,273.1L241.3,270.2L239.2,267.2L237.0,264.3L234.9,261.5L232.7,258.8L230.5,256.3L227.7,253.3L225.1,250.8L222.4,248.6L219.7,246.6L216.8,244.4L213.9,242.5L210.7,240.5L207.6,238.6L204.5,236.8L201.5,235.0L198.8,233.3L196.1,231.6L193.6,230.0L191.2,228.4L188.8,226.8L186.6,225.1L184.4,223.5L182.2,221.6L180.0,219.7L177.8,217.5L175.5,215.4L173.2,213.2L170.9,211.1L168.3,208.8L165.8,206.7L163.5,204.8L161.2,202.8L159.0,200.8L156.6,198.4L154.2,195.9L151.9,193.3L149.7,190.8L147.7,188.3L146.1,185.9L144.5,183.5L143.0,180.9L141.4,178.1L139.8,175.2L138.0,172.2L136.1,169.1L134.3,165.9L132.6,163.1L131.2,160.7L129.2,157.0L127.5,153.8L125.8,150.6L123.9,147.2L122.0,143.7Z" fill="#f6ae48"/><path d="M123.1,143.1L108.9,150.9L109.7,152.4L123.9,144.6ZM134.6,163.9L120.6,172.0L121.8,174.1L135.8,165.9ZM146.8,184.7L133.2,193.5L134.8,195.8L148.0,186.4ZM161.8,201.6L150.6,213.5L152.5,215.2L163.5,203.0ZM180.2,217.9L168.6,230.3L170.4,232.0L181.8,219.4ZM198.7,231.6L189.2,246.1L191.3,247.5L200.6,232.8ZM220.0,245.0L209.2,259.3L210.9,260.6L222.1,246.6ZM238.9,264.4L224.0,275.3L225.4,277.2L240.4,266.4ZM253.4,284.7L237.9,295.2L239.3,297.2L254.7,286.6ZM267.4,304.4L252.2,315.6L253.7,317.5L268.9,306.3ZM281.9,324.8L266.1,335.4L267.4,337.4L283.2,326.8ZM295.9,346.2L279.1,355.1L279.9,356.8L297.1,348.7ZM304.2,371.9L285.6,376.0L286.1,378.3L304.7,374.3ZM309.0,396.4L290.3,399.8L290.7,402.1L309.4,398.8ZM313.3,419.1L295.6,425.1L296.6,427.7L314.0,421.0ZM322.5,440.7L306.1,448.6L307.2,450.9L323.5,442.7ZM334.0,461.9L318.3,470.4L319.7,472.7L335.0,463.7ZM347.3,478.5L335.8,491.8L337.8,493.5L348.9,479.9ZM366.0,491.7L357.3,506.7L359.6,508.0L367.9,492.8ZM387.1,501.2L381.1,517.1L383.3,518.0L389.3,502.0ZM410.0,509.6L404.4,525.4L406.5,526.2L412.4,510.4ZM432.9,518.3L427.4,534.2L429.6,535.0L435.1,519.1ZM456.4,526.6L450.2,542.3L452.4,543.1L458.7,527.6ZM478.7,533.6L474.8,549.9L477.1,550.5L481.0,534.1ZM502.5,539.1L498.8,555.5L501.2,556.0L504.8,539.6ZM526.3,544.3L523.0,560.8L525.4,561.2L528.6,544.7Z" fill="#c9a46c"/><path d="M123.8,144.4L109.6,152.3L111.7,155.9L125.9,148.1ZM135.7,165.8L121.7,173.9L123.8,177.6L137.8,169.3ZM147.9,186.3L134.6,195.6L137.5,199.4L150.1,189.2ZM163.3,202.9L152.4,215.1L155.6,218.0L166.4,205.5ZM181.7,219.3L170.3,231.8L173.7,234.9L184.6,221.8ZM200.5,232.7L191.1,247.3L194.8,249.7L203.9,234.8ZM221.9,246.4L210.8,260.5L213.6,262.9L225.6,249.4ZM240.2,266.2L225.3,277.0L227.7,280.4L242.8,269.7ZM254.6,286.5L239.2,297.0L241.5,300.5L257.0,289.9ZM268.7,306.1L253.5,317.4L256.0,320.7L271.3,309.6ZM283.1,326.6L267.3,337.2L269.7,340.7L285.4,330.1ZM297.0,348.5L279.8,356.7L281.2,359.8L299.0,353.1ZM304.6,374.1L286.1,378.1L286.9,382.2L305.5,378.3ZM309.4,398.6L290.7,401.9L291.4,405.9L310.1,402.8ZM314.0,420.9L296.5,427.5L298.3,431.8L315.4,424.4ZM323.4,442.5L307.1,450.7L309.4,454.8L325.1,445.8ZM334.9,463.6L319.5,472.5L322.1,476.5L336.8,466.7ZM348.8,479.8L337.7,493.3L341.3,496.1L351.8,482.1ZM367.7,492.7L359.4,507.9L363.5,510.0L371.1,494.5ZM389.1,501.9L383.1,517.9L387.1,519.4L393.1,503.5ZM412.2,510.4L406.3,526.1L410.0,527.5L416.3,512.0ZM435.0,519.0L429.5,534.9L433.4,536.3L438.9,520.4ZM458.5,527.5L452.2,543.1L456.4,544.7L462.1,528.9ZM480.8,534.1L476.9,550.4L481.0,551.4L484.9,535.0ZM504.7,539.6L501.0,556.0L505.1,556.9L508.7,540.5ZM528.4,544.7L525.2,561.2L529.4,562.0L532.5,545.5Z" fill="#7a5214"/><path d="M122.0,143.7L123.9,147.2L125.8,150.6L127.5,153.8L129.2,157.0L131.2,160.7L132.6,163.1L134.3,165.9L136.1,169.1L138.0,172.2L139.8,175.2L141.4,178.1L143.0,180.9L144.5,183.5L146.1,185.9L147.7,188.3L149.7,190.8L151.9,193.3L154.2,195.9L156.6,198.4L159.0,200.8L161.2,202.8L163.5,204.8L165.8,206.7L168.3,208.8L170.9,211.1L173.2,213.2L175.5,215.4L177.8,217.5L180.0,219.7L182.2,221.6L184.4,223.5L186.6,225.1L188.8,226.8L191.2,228.4L193.6,230.0L196.1,231.6L198.8,233.3L201.5,235.0L204.5,236.8L207.6,238.6L210.7,240.5L213.9,242.5L216.8,244.4L219.7,246.6L222.4,248.6L225.1,250.8L227.7,253.3L230.5,256.3L232.7,258.8L234.9,261.5L237.0,264.3L239.2,267.2L241.3,270.2L243.4,273.1L245.5,276.0L247.3,278.5L249.2,281.2L251.0,283.9L252.8,286.5L254.6,289.2L256.4,291.8L258.2,294.3L259.8,296.6L261.7,299.2L263.6,301.7L265.4,304.2L267.2,306.6L269.1,309.1L270.9,311.6L272.7,314.1L274.5,316.7L276.4,319.4L278.2,322.0L279.9,324.6L281.6,327.2L283.2,329.5L284.7,331.7L287.0,335.1L289.1,338.1L291.1,341.0L292.9,344.0L294.8,347.5L296.4,350.8L297.8,354.2L299.1,358.0L300.2,361.8L301.2,366.1L302.0,369.1L302.7,372.3L303.4,375.7L304.1,379.1L304.8,382.4L305.5,385.6L306.1,388.8L306.6,391.9L307.2,395.2L307.9,398.6L308.4,401.7L308.9,405.0L309.4,408.3L310.0,411.5L310.5,414.4L311.1,416.9L311.9,419.6L312.8,422.0L313.8,424.4L314.9,427.0L316.1,429.9L317.5,433.0L318.9,436.3L320.4,439.5L321.8,442.6L323.0,445.1L324.8,448.3L326.6,451.0L328.6,454.3L330.5,458.0L332.2,461.6L333.9,464.7L335.6,467.4L337.3,469.9L339.6,472.7L341.2,474.5L342.9,476.3L344.8,478.2L346.9,480.1L349.5,482.2L351.4,483.6L353.6,485.2L355.9,486.9L358.4,488.6L360.9,490.3L363.5,491.9L366.1,493.4L368.7,494.8L371.4,496.2L374.3,497.5L377.4,498.8L380.5,500.1L383.7,501.3L386.9,502.5L389.9,503.7L392.8,504.8L396.4,506.2L399.9,507.4L403.2,508.6L406.4,509.7L409.5,510.8L412.5,511.9L416.1,513.3L419.0,514.5L421.8,515.7L425.7,517.2L427.9,518.0L430.6,518.9L433.4,519.9L436.5,521.0L439.6,522.1L442.7,523.1L445.7,524.2L448.5,525.2L451.1,526.1L454.9,527.5L458.0,528.7L460.6,529.8L463.4,530.8L467.0,531.9L469.4,532.6L472.2,533.3L475.1,534.1L478.3,534.9L481.5,535.6L484.8,536.4L488.1,537.2L491.3,537.9L494.4,538.6L497.5,539.3L500.6,540.1L503.8,540.8L507.0,541.5L510.1,542.2L513.1,542.9L516.0,543.5L518.7,544.1L521.2,544.6L524.9,545.4L528.0,546.0L530.7,546.5L533.4,547.0L536.3,547.6L535.5,552.0L532.6,551.5L529.9,551.0L527.1,550.4L524.0,549.8L520.2,549.0L517.8,548.5L515.1,547.9L512.2,547.3L509.1,546.6L506.0,545.9L502.8,545.2L499.6,544.5L496.5,543.8L493.4,543.0L490.3,542.3L487.0,541.6L483.7,540.8L480.5,540.0L477.2,539.3L474.1,538.5L471.1,537.7L468.2,537.0L465.7,536.3L462.0,535.1L459.0,534.0L456.3,532.9L453.3,531.7L449.6,530.3L447.0,529.4L444.2,528.5L441.2,527.4L438.1,526.4L435.0,525.3L432.0,524.2L429.1,523.2L426.4,522.3L424.1,521.4L420.1,519.9L417.2,518.7L414.4,517.5L410.9,516.1L408.0,515.1L404.9,514.0L401.7,512.9L398.3,511.7L394.8,510.5L391.2,509.1L388.3,508.0L385.2,506.9L382.1,505.6L378.8,504.4L375.6,503.1L372.5,501.8L369.4,500.4L366.6,499.0L363.8,497.5L361.1,495.9L358.4,494.2L355.8,492.5L353.3,490.8L350.9,489.1L348.6,487.4L346.6,485.9L343.8,483.7L341.5,481.6L339.5,479.6L337.7,477.7L336.0,475.8L333.6,472.8L331.6,470.1L329.8,467.1L328.0,463.8L326.2,460.2L324.3,456.7L322.5,453.6L320.6,450.8L318.7,447.4L317.4,444.7L315.9,441.6L314.4,438.3L312.9,435.0L311.5,431.9L310.3,429.0L309.1,426.4L308.1,423.9L307.1,421.2L306.2,418.3L305.6,415.5L304.9,412.4L304.4,409.2L303.9,405.8L303.3,402.6L302.8,399.5L302.2,396.1L301.6,392.9L301.0,389.7L300.4,386.6L299.8,383.4L299.1,380.1L298.4,376.8L297.7,373.4L297.0,370.2L296.3,367.3L295.2,363.1L294.2,359.5L293.0,356.0L291.7,352.8L290.3,349.8L288.5,346.6L286.8,343.8L284.9,341.0L282.8,338.0L280.5,334.6L279.0,332.4L277.4,330.0L275.7,327.5L273.9,324.9L272.1,322.3L270.3,319.6L268.5,317.1L266.7,314.6L264.9,312.1L263.1,309.7L261.3,307.2L259.5,304.8L257.6,302.2L255.7,299.6L254.0,297.1L252.2,294.6L250.5,292.0L248.7,289.4L246.8,286.7L245.0,284.0L243.2,281.4L241.4,278.9L239.3,276.0L237.2,273.1L235.1,270.1L233.0,267.3L230.9,264.5L228.9,261.9L226.8,259.6L224.2,256.8L221.8,254.5L219.4,252.4L216.8,250.4L214.0,248.3L211.2,246.4L208.2,244.5L205.1,242.7L202.0,240.8L199.0,239.0L196.2,237.2L193.6,235.5L191.0,233.8L188.6,232.2L186.2,230.5L183.8,228.8L181.5,227.0L179.2,225.1L176.9,223.0L174.6,220.8L172.4,218.7L170.1,216.5L167.9,214.4L165.3,212.2L162.9,210.1L160.5,208.1L158.2,206.1L155.9,203.9L153.5,201.4L151.0,198.9L148.6,196.2L146.3,193.6L144.2,190.9L142.4,188.4L140.8,185.7L139.2,183.1L137.6,180.3L136.0,177.5L134.2,174.5L132.3,171.3L130.5,168.2L128.8,165.2L127.4,162.8L125.3,159.0L123.6,155.8L121.9,152.7L120.0,149.3L118.1,145.8Z" fill="#fee2a4" fill-opacity="0.6"/></g>
<path d="M523.0,342.5C522.5,342.7 522.4,342.3 519.9,343.5C517.4,344.7 511.5,347.9 507.7,349.6C503.9,351.3 499.9,353.0 496.8,353.6C493.7,354.2 491.2,353.8 489.0,353.3C486.8,352.8 484.8,351.6 483.5,350.5C482.2,349.4 481.2,348.2 481.0,346.5C480.8,344.8 481.2,342.3 482.0,340.0C482.8,337.7 484.4,335.1 486.0,332.5C487.6,329.9 489.7,327.1 491.4,324.5C493.1,321.9 494.6,319.4 496.0,317.0C497.4,314.6 499.0,311.2 499.6,310.0C498.7,311.2 496.5,314.8 494.0,317.5C491.5,320.2 488.1,323.2 484.7,326.5C481.3,329.8 477.0,333.9 473.8,337.0C470.6,340.1 469.1,342.1 465.7,345.0C462.3,347.9 456.8,351.8 453.5,354.5C450.2,357.2 448.3,359.6 446.0,361.5C443.7,363.4 442.7,364.8 439.7,366.0C436.7,367.2 431.8,368.2 427.8,368.8C423.9,369.4 419.1,369.6 416.0,369.8C412.9,370.0 410.6,370.1 409.5,370.2L409.5,375.8C410.6,375.9 412.9,376.1 416.0,376.2C419.1,376.3 424.3,376.4 427.8,376.4C431.3,376.4 434.7,376.4 437.0,376.2C439.3,375.9 440.9,375.1 441.7,374.9C441.4,375.8 441.0,377.8 440.0,380.0C439.0,382.2 437.5,385.2 435.6,388.4C433.7,391.6 431.3,395.7 428.8,399.3C426.3,402.9 422.9,407.4 420.7,410.1C418.4,412.9 416.2,414.9 415.3,415.8C416.4,415.4 419.3,415.1 422.0,413.5C424.7,411.9 428.3,408.8 431.5,406.0C434.7,403.2 438.1,399.4 441.0,396.5C443.9,393.6 447.1,390.3 449.1,388.4C451.1,386.5 451.4,386.0 453.2,385.0C455.0,384.0 457.1,383.3 460.0,382.3C462.9,381.3 467.4,380.3 470.8,379.0C474.2,377.7 477.8,375.9 480.6,374.5C483.4,373.1 484.7,371.9 487.4,370.5C490.1,369.1 493.4,367.4 496.8,365.8C500.2,364.2 503.9,362.2 507.7,360.6C511.5,359.0 517.4,356.9 519.9,356.0C522.4,355.1 522.5,355.2 523.0,355.0Z" fill="url(#fbg)" stroke="#cf4f10" stroke-width="0.7" stroke-linejoin="round"/>
<ellipse cx="461.5" cy="366.5" rx="10.4" ry="3.5" fill="url(#fbn)" stroke="#dc3650" stroke-width="0.6" transform="rotate(-30 461.5 366.5)"/>
<g><circle cx="346.9" cy="313.0" r="22.9" fill="url(#fatrim)" stroke="#ee6a1a" stroke-width="1.2"/><circle cx="349.8" cy="312.3" r="20.1" fill="#fcc468"/><circle cx="349.8" cy="312.3" r="19.1" fill="url(#fatin)"/><ellipse cx="328.8" cy="317.5" rx="3.5" ry="6.2" fill="url(#nucg)" stroke="#6a4a32" stroke-width="0.7" transform="rotate(166 328.8 317.5)"/></g>
<g><circle cx="391.2" cy="311.8" r="23.2" fill="url(#fatrim)" stroke="#ee6a1a" stroke-width="1.2"/><circle cx="390.7" cy="314.8" r="20.4" fill="#fcc468"/><circle cx="390.7" cy="314.8" r="19.4" fill="url(#fatin)"/><ellipse cx="394.5" cy="293.2" rx="3.5" ry="6.2" fill="url(#nucg)" stroke="#6a4a32" stroke-width="0.7" transform="rotate(-80 394.5 293.2)"/></g>
<g><circle cx="401.4" cy="336.9" r="22.6" fill="url(#fatrim)" stroke="#ee6a1a" stroke-width="1.2"/><circle cx="402.6" cy="339.6" r="19.9" fill="#fcc468"/><circle cx="402.6" cy="339.6" r="18.9" fill="url(#fatin)"/><ellipse cx="393.9" cy="320.1" rx="3.5" ry="6.2" fill="url(#nucg)" stroke="#6a4a32" stroke-width="0.7" transform="rotate(-114 393.9 320.1)"/></g>
<g><circle cx="348.5" cy="338.0" r="17.1" fill="url(#fatrim)" stroke="#ee6a1a" stroke-width="1.2"/><circle cx="349.5" cy="340.0" r="15.3" fill="#fcc468"/><circle cx="349.5" cy="340.0" r="14.3" fill="url(#fatin)"/><ellipse cx="342.4" cy="325.4" rx="3.4" ry="6.0" fill="url(#nucg)" stroke="#6a4a32" stroke-width="0.7" transform="rotate(-116 342.4 325.4)"/></g>
<g><circle cx="323.0" cy="359.8" r="22.0" fill="url(#fatrim)" stroke="#ee6a1a" stroke-width="1.2"/><circle cx="325.9" cy="360.2" r="19.4" fill="#fcc468"/><circle cx="325.9" cy="360.2" r="18.4" fill="url(#fatin)"/><ellipse cx="305.3" cy="357.3" rx="3.5" ry="6.2" fill="url(#nucg)" stroke="#6a4a32" stroke-width="0.7" transform="rotate(-172 305.3 357.3)"/></g>
<g><circle cx="369.2" cy="356.6" r="25.7" fill="url(#fatrim)" stroke="#ee6a1a" stroke-width="1.2"/><circle cx="372.4" cy="357.8" r="22.4" fill="#fcc468"/><circle cx="372.4" cy="357.8" r="21.4" fill="url(#fatin)"/><ellipse cx="349.7" cy="349.1" rx="3.6" ry="6.5" fill="url(#nucg)" stroke="#6a4a32" stroke-width="0.7" transform="rotate(-159 349.7 349.1)"/></g>
<g><circle cx="506.0" cy="274.5" r="29.9" fill="url(#fatrim)" stroke="#ee6a1a" stroke-width="1.2"/><circle cx="508.9" cy="275.3" r="27.1" fill="#fcc468"/><circle cx="508.9" cy="275.3" r="26.1" fill="url(#fatin2)"/><ellipse cx="482.6" cy="268.2" rx="4.2" ry="7.5" fill="url(#nucg)" stroke="#6a4a32" stroke-width="0.7" transform="rotate(-165 482.6 268.2)"/></g>
<g><circle cx="486.6" cy="484.5" r="24.8" fill="url(#halo2)" stroke="#f4fcfe" stroke-width="1.2"/><ellipse cx="486.1" cy="485.3" rx="16.2" ry="15.2" fill="url(#blue)" stroke="#3c50b8" stroke-width="0.5"/></g>
<path d="M156.6,385.5C155.8,385.6 153.1,385.8 151.5,386.3C149.9,386.8 148.9,386.6 146.8,388.5C144.7,390.4 141.4,394.0 139.1,397.6C136.8,401.2 134.6,405.8 132.8,410.2C131.1,414.6 128.9,419.5 128.6,424.2C128.2,428.9 129.3,434.0 130.7,438.2C132.1,442.4 134.3,446.2 137.0,449.4C139.7,452.5 143.1,455.4 146.8,457.1C150.5,458.8 155.2,459.6 159.4,459.4C163.6,459.2 168.3,457.8 172.0,455.7C175.7,453.6 179.4,450.2 181.8,446.6C184.2,443.0 185.8,438.4 186.7,434.0C187.6,429.6 187.9,424.2 187.4,420.0C186.9,415.8 185.3,412.1 183.9,408.8C182.5,405.5 180.8,403.1 179.0,400.4C177.2,397.7 174.3,393.8 173.4,392.5C172.9,394.5 172.4,396 171.3,397.6 C170.3,399.3 169.2,400.8 167.8,401.8 C166,403 163.8,403.4 161.5,403.2 C159.3,402.9 157.4,402 155.9,400.4 C154.4,398.8 153.5,396.8 153.1,394.8 C152.8,392.8 153.4,390.8 154.5,389.2 C155.2,388 155.9,386.7 156.6,385.5 Z" fill="url(#mac)" stroke="#c9803c" stroke-width="0.9"/>
<path d="M156.6,385.5C155.8,385.6 153.1,385.8 151.5,386.3C149.9,386.8 148.9,386.6 146.8,388.5C144.7,390.4 141.4,394.0 139.1,397.6C136.8,401.2 134.6,405.8 132.8,410.2C131.1,414.6 128.9,419.5 128.6,424.2C128.2,428.9 129.3,434.0 130.7,438.2C132.1,442.4 134.3,446.2 137.0,449.4C139.7,452.5 143.1,455.4 146.8,457.1C150.5,458.8 155.2,459.6 159.4,459.4C163.6,459.2 168.3,457.8 172.0,455.7C175.7,453.6 179.4,450.2 181.8,446.6C184.2,443.0 185.8,438.4 186.7,434.0C187.6,429.6 187.9,424.2 187.4,420.0C186.9,415.8 185.3,412.1 183.9,408.8C182.5,405.5 180.8,403.1 179.0,400.4C177.2,397.7 174.3,393.8 173.4,392.5C172.9,394.5 172.4,396 171.3,397.6 C170.3,399.3 169.2,400.8 167.8,401.8 C166,403 163.8,403.4 161.5,403.2 C159.3,402.9 157.4,402 155.9,400.4 C154.4,398.8 153.5,396.8 153.1,394.8 C152.8,392.8 153.4,390.8 154.5,389.2 C155.2,388 155.9,386.7 156.6,385.5 Z" fill="url(#mac2)"/>
<path d="M156.6,385.5C155.8,385.6 153.1,385.8 151.5,386.3C149.9,386.8 148.9,386.6 146.8,388.5C144.7,390.4 141.4,394.0 139.1,397.6C136.8,401.2 134.6,405.8 132.8,410.2C131.1,414.6 128.9,419.5 128.6,424.2C128.2,428.9 129.3,434.0 130.7,438.2C132.1,442.4 134.3,446.2 137.0,449.4C139.7,452.5 143.1,455.4 146.8,457.1C150.5,458.8 155.2,459.6 159.4,459.4C163.6,459.2 168.3,457.8 172.0,455.7C175.7,453.6 179.4,450.2 181.8,446.6C184.2,443.0 185.8,438.4 186.7,434.0C187.6,429.6 187.9,424.2 187.4,420.0C186.9,415.8 185.3,412.1 183.9,408.8C182.5,405.5 180.8,403.1 179.0,400.4C177.2,397.7 174.3,393.8 173.4,392.5C172.9,394.5 172.4,396 171.3,397.6 C170.3,399.3 169.2,400.8 167.8,401.8 C166,403 163.8,403.4 161.5,403.2 C159.3,402.9 157.4,402 155.9,400.4 C154.4,398.8 153.5,396.8 153.1,394.8 C152.8,392.8 153.4,390.8 154.5,389.2 C155.2,388 155.9,386.7 156.6,385.5 Z" fill="url(#mac3)"/>
<path d="M156.6,385.5C155.8,385.6 153.1,385.8 151.5,386.3C149.9,386.8 148.9,386.6 146.8,388.5C144.7,390.4 141.4,394.0 139.1,397.6C136.8,401.2 134.6,405.8 132.8,410.2C131.1,414.6 128.9,419.5 128.6,424.2C128.2,428.9 129.3,434.0 130.7,438.2C132.1,442.4 134.3,446.2 137.0,449.4C139.7,452.5 143.1,455.4 146.8,457.1C150.5,458.8 155.2,459.6 159.4,459.4C163.6,459.2 168.3,457.8 172.0,455.7C175.7,453.6 179.4,450.2 181.8,446.6C184.2,443.0 185.8,438.4 186.7,434.0C187.6,429.6 187.9,424.2 187.4,420.0C186.9,415.8 185.3,412.1 183.9,408.8C182.5,405.5 180.8,403.1 179.0,400.4C177.2,397.7 174.3,393.8 173.4,392.5C172.9,394.5 172.4,396 171.3,397.6 C170.3,399.3 169.2,400.8 167.8,401.8 C166,403 163.8,403.4 161.5,403.2 C159.3,402.9 157.4,402 155.9,400.4 C154.4,398.8 153.5,396.8 153.1,394.8 C152.8,392.8 153.4,390.8 154.5,389.2 C155.2,388 155.9,386.7 156.6,385.5 Z" fill="url(#mac4)"/>
<path d="M138.4,421.4C139.7,421.2 142.6,423.3 145.4,424.4C148.2,425.4 151.7,426.9 155.2,427.7C158.7,428.5 162.9,429.0 166.4,429.1C169.9,429.2 174.4,428.1 176.2,428.4C178.0,428.7 177.2,430.0 177.3,431.0C177.4,432.0 177.6,432.6 176.9,434.5C176.2,436.4 175.4,440.0 173.4,442.4C171.4,444.8 168.0,447.5 165.0,448.7C162.0,449.9 158.5,450.4 155.2,449.6C151.9,448.8 148.1,446.4 145.4,443.8C142.7,441.2 140.4,437.0 139.1,434.0C137.8,431.0 137.6,427.7 137.5,425.6C137.4,423.5 137.1,421.6 138.4,421.4Z" fill="url(#macn)" stroke="#a82436" stroke-width="0.8"/>
<path d="M138.4,421.4C139.7,421.2 142.6,423.3 145.4,424.4C148.2,425.4 151.7,426.9 155.2,427.7C158.7,428.5 162.9,429.0 166.4,429.1C169.9,429.2 174.4,428.1 176.2,428.4C178.0,428.7 177.2,430.0 177.3,431.0C177.4,432.0 177.6,432.6 176.9,434.5C176.2,436.4 175.4,440.0 173.4,442.4C171.4,444.8 168.0,447.5 165.0,448.7C162.0,449.9 158.5,450.4 155.2,449.6C151.9,448.8 148.1,446.4 145.4,443.8C142.7,441.2 140.4,437.0 139.1,434.0C137.8,431.0 137.6,427.7 137.5,425.6C137.4,423.5 137.1,421.6 138.4,421.4Z" fill="url(#macn2)"/>
</g>
<rect x="123.0" y="158.0" width="397.6" height="397.4" fill="none" stroke="#1b6f80" stroke-width="1.3"/>
<g font-size="17" fill="#111" stroke="#111" stroke-width="0.25" filter="url(#gs)"><text x="20.2" y="220.2" textLength="88.4" lengthAdjust="spacingAndGlyphs">Collagen fiber</text>
<text x="19.8" y="320.0" textLength="88.6" lengthAdjust="spacingAndGlyphs">Mesenchymal</text>
<text x="19.8" y="337.4" textLength="57.0" lengthAdjust="spacingAndGlyphs">stem cell</text>
<text x="29.0" y="437.3" textLength="79.4" lengthAdjust="spacingAndGlyphs">Macrophage</text>
<text x="52.5" y="549.7" textLength="55.5" lengthAdjust="spacingAndGlyphs">Capillary</text>
<text x="534.9" y="180.8" textLength="74.5" lengthAdjust="spacingAndGlyphs">Elastic fiber</text>
<text x="534.9" y="283.2" textLength="46.3" lengthAdjust="spacingAndGlyphs">Fat cell</text>
<text x="534.9" y="367.4" textLength="63.4" lengthAdjust="spacingAndGlyphs">Fibroblast</text>
<text x="534.9" y="489.3" textLength="76.9" lengthAdjust="spacingAndGlyphs">Lymphocyte</text></g>
<g><line x1="112.0" y1="215.0" x2="139.1" y2="215.0" stroke="#555" stroke-width="0.8"/><circle cx="139.1" cy="215.0" r="1.5" fill="#111"/>
<line x1="112.0" y1="316.2" x2="131.8" y2="316.2" stroke="#555" stroke-width="0.8"/><circle cx="131.8" cy="316.2" r="1.5" fill="#111"/>
<line x1="112.0" y1="432.5" x2="134.0" y2="432.5" stroke="#555" stroke-width="0.8"/><circle cx="134.0" cy="432.5" r="1.5" fill="#111"/>
<line x1="112.0" y1="544.8" x2="148.1" y2="544.8" stroke="#555" stroke-width="0.8"/><circle cx="148.1" cy="544.8" r="1.5" fill="#111"/>
<line x1="479.8" y1="176.0" x2="533.4" y2="176.0" stroke="#555" stroke-width="0.8"/><circle cx="479.8" cy="176.0" r="1.5" fill="#111"/>
<line x1="511.0" y1="278.8" x2="533.4" y2="278.8" stroke="#555" stroke-width="0.8"/><circle cx="511.0" cy="278.8" r="1.5" fill="#111"/>
<line x1="499.0" y1="362.3" x2="533.4" y2="362.3" stroke="#555" stroke-width="0.8"/><circle cx="499.0" cy="362.3" r="1.5" fill="#111"/>
<line x1="499.0" y1="484.5" x2="533.4" y2="484.5" stroke="#555" stroke-width="0.8"/><circle cx="499.0" cy="484.5" r="1.5" fill="#111"/></g>
<g fill="none" stroke="#000" stroke-width="3.5" stroke-linecap="round" stroke-linejoin="round"><path transform="translate(176.37,72.9) scale(0.881,0.930)" vector-effect="non-scaling-stroke" d="M16.3,-20.3 C15.3,-25 10.5,-26.8 6.5,-23.8 C2,-20 -0.3,-13.5 0.2,-8 C0.8,-2 4.5,0.8 9.2,-0.2 C12.8,-1 15.5,-3.3 17,-6"/><path transform="translate(197.19,72.9) scale(0.855,0.870)" vector-effect="non-scaling-stroke" d="M8,-15.8 C3.5,-15.8 0.3,-12 0.3,-7.8 C0.3,-3 3.5,0 8,0 C12.5,0 15.5,-3.5 15.5,-8 C15.5,-12.5 12.8,-15.8 8,-15.8 Z"/><path transform="translate(216.83,72.9) scale(0.846,0.870)" vector-effect="non-scaling-stroke" d="M0.5,-15.3 L1,0 M1,-9.5 C2.5,-13 5.5,-15.5 8.2,-15.2 C11,-14.8 12.2,-12 12.4,-8.5 L12.8,0"/><path transform="translate(235.23,72.9) scale(0.846,0.870)" vector-effect="non-scaling-stroke" d="M0.5,-15.3 L1,0 M1,-9.5 C2.5,-13 5.5,-15.5 8.2,-15.2 C11,-14.8 12.2,-12 12.4,-8.5 L12.8,0"/><path transform="translate(253.00,72.9) scale(0.900,0.870)" vector-effect="non-scaling-stroke" d="M1,-7.6 L14.8,-9.3 C14.8,-13.5 11.5,-16 8,-15.6 C3.5,-15 0.5,-11.5 0.5,-7 C0.5,-2.5 4,0.2 8.5,0 C11.5,-0.2 14,-1.8 15.5,-4"/><path transform="translate(272.56,72.9) scale(0.820,0.870)" vector-effect="non-scaling-stroke" d="M12.6,-12 C11.5,-15.2 7.5,-16.5 4.2,-14 C1,-11.5 -0.2,-6.5 1.5,-3 C3.3,0.5 8.5,0.8 12.8,-3"/><path transform="translate(289.15,72.9) scale(0.754,0.870)" vector-effect="non-scaling-stroke" d="M6.8,-23.3 L6.5,0 M0,-14.8 L13,-15.2"/><path transform="translate(306.55,72.9) scale(1.000,0.870)" vector-effect="non-scaling-stroke" d="M1,-15 L1,0 M1,-22.3 L1,-22"/><path transform="translate(313.35,72.9) scale(0.827,0.870)" vector-effect="non-scaling-stroke" d="M0,-15.3 L7.3,-0.3 L15,-15.5"/><path transform="translate(331.30,72.9) scale(0.900,0.870)" vector-effect="non-scaling-stroke" d="M1,-7.6 L14.8,-9.3 C14.8,-13.5 11.5,-16 8,-15.6 C3.5,-15 0.5,-11.5 0.5,-7 C0.5,-2.5 4,0.2 8.5,0 C11.5,-0.2 14,-1.8 15.5,-4"/><path transform="translate(361.65,72.9) scale(0.754,0.870)" vector-effect="non-scaling-stroke" d="M6.8,-23.3 L6.5,0 M0,-14.8 L13,-15.2"/><path transform="translate(379.85,72.9) scale(1.000,0.870)" vector-effect="non-scaling-stroke" d="M1,-15 L1,0 M1,-22.3 L1,-22"/><path transform="translate(387.25,72.9) scale(0.802,0.870)" vector-effect="non-scaling-stroke" d="M11,-12.8 C9.5,-15.5 5,-16.3 2.5,-14 C0,-11.5 1.5,-9 5.5,-8 C9.5,-7 12.5,-5 11.2,-2.2 C9.8,0.5 3.5,0.8 0.5,-3"/><path transform="translate(402.75,72.9) scale(0.802,0.870)" vector-effect="non-scaling-stroke" d="M11,-12.8 C9.5,-15.5 5,-16.3 2.5,-14 C0,-11.5 1.5,-9 5.5,-8 C9.5,-7 12.5,-5 11.2,-2.2 C9.8,0.5 3.5,0.8 0.5,-3"/><path transform="translate(418.80,72.9) scale(0.806,0.870)" vector-effect="non-scaling-stroke" d="M0.8,-15.3 L1,-6.5 C1.2,-1.5 4.5,0.3 7.5,-0.2 C10.5,-0.8 12.3,-4.5 12.5,-8 M12.3,-15.3 L12.5,-8 L13.2,0"/><path transform="translate(436.30,72.9) scale(0.900,0.870)" vector-effect="non-scaling-stroke" d="M1,-7.6 L14.8,-9.3 C14.8,-13.5 11.5,-16 8,-15.6 C3.5,-15 0.5,-11.5 0.5,-7 C0.5,-2.5 4,0.2 8.5,0 C11.5,-0.2 14,-1.8 15.5,-4"/></g>
</svg>
</body></html>
